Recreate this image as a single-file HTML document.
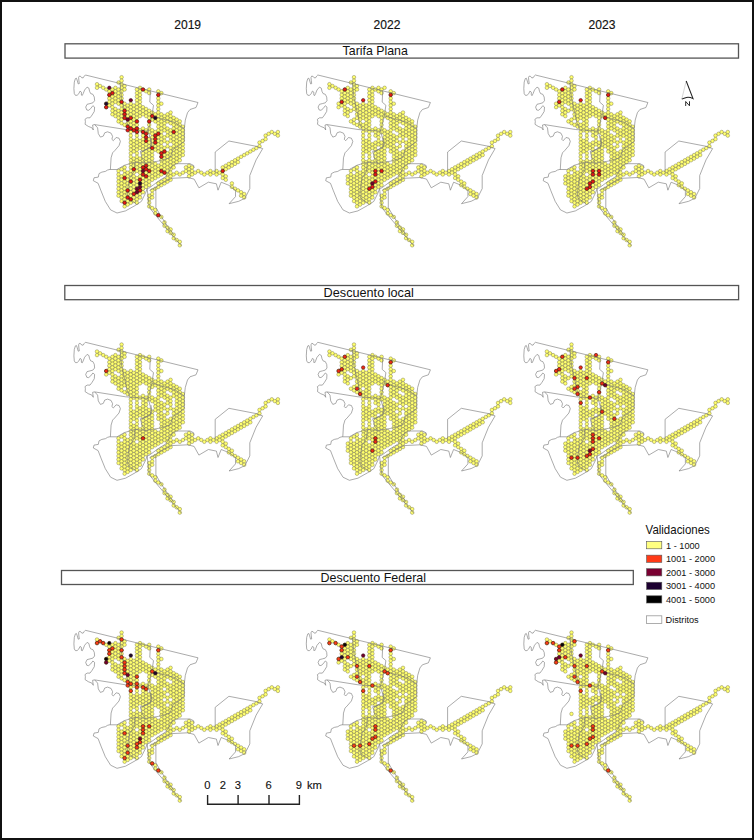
<!DOCTYPE html>
<html><head><meta charset="utf-8"><style>
html,body{margin:0;padding:0;background:#fff;}
body{width:754px;height:840px;overflow:hidden;position:relative;}
svg{position:absolute;left:0;top:0;}
text{font-family:"Liberation Sans",sans-serif;fill:#111;}
.yr{font-size:12.8px;stroke:#111;stroke-width:0.15px;}
.ttl{font-size:12.8px;}
.leg{font-size:12.6px;}
.lab{font-size:9.2px;}
.sc{font-size:11.2px;stroke:#111;stroke-width:0.12px;}
.n{font-size:6.5px;}
.box{fill:none;stroke:#555;stroke-width:1.3;}
.hx circle{fill:#ffff70;stroke:#403e16;stroke-width:0.32px;r:1.78px;}
</style></head><body>
<svg width="754" height="840" viewBox="0 0 754 840">
<rect x="1" y="1" width="752" height="838" fill="#fff" stroke="#111" stroke-width="2"/>
<defs>
<g id="ol" fill="none" stroke="#777" stroke-width="0.62" stroke-linejoin="round">
<polyline points="198.0,102.5 85.4,75.0 84.3,76.1 83.2,77.8 81.8,77.8 80.7,76.4 79.3,76.1 78.6,77.5 78.9,80.7 79.3,83.6 78.2,83.9 77.1,80.0 76.4,78.2 75.4,78.6 74.3,82.1 73.9,88.6 74.3,93.6 75.4,95.3 77.1,95.3 78.9,93.6 80.0,91.1 81.4,92.1 81.4,95.0 82.1,95.7 83.2,93.6 84.6,90.0 87.1,87.1 88.9,88.2 89.6,91.4 90.7,93.6 92.9,94.3 94.3,97.1 94.6,100.7 92.9,102.8 90.0,103.6 87.1,104.3 85.7,107.1 86.8,110.0 88.6,110.3 90.7,108.6 92.9,105.7 94.6,107.1 94.3,111.4 92.1,115.0 90.0,117.8 87.1,117.8 85.0,119.3 85.4,121.5 85.1,124.3 88.3,126.4 91.9,127.8 93.3,130.0 92.6,125.0 94.7,124.6"/>
<polyline points="94.7,124.6 125.6,129.5 129.6,129.8 146.1,131.0 148.2,130.8"/>
<polyline points="120.1,83.0 121.7,98.9 124.9,112.7 127.5,124.4 129.6,128.6"/>
<polyline points="150.3,91.2 149.8,102.1 153.5,105.3 151.9,115.9 150.3,122.3 148.2,130.8 151.4,143.5 150.3,146.7 141.8,152.0"/>
<polyline points="151.9,115.9 163.0,119.1 174.7,122.3 184.3,128.6"/>
<polyline points="198.0,102.5 196.0,107.5 190.0,109.5 187.5,112.7 185.3,120.1 184.3,128.6 184.3,141.0 178.0,146.5 173.2,149.0 170.0,157.9 158.4,161.1 145.6,163.2"/>
<polyline points="140.3,151.5 142.4,158.9 145.6,163.2"/>
<polyline points="140.3,151.5 149.9,148.3 152.0,144.1 150.9,137.7"/>
<polyline points="110.1,169.5 117.0,169.5 124.4,165.3 135.0,162.1 145.6,163.2"/>
<polyline points="135.0,162.1 134.0,171.6 129.7,178.0 128.1,186.5 127.6,195.0 128.1,198.2 136.1,203.5"/>
<polyline points="94.7,124.6 97.6,127.8 98.3,133.6 100.4,137.1 103.3,136.1 104.7,132.8 107.6,131.8 111.1,133.2 112.6,136.4 111.9,139.3 113.3,140.7 116.1,137.5 119.0,138.2 120.4,141.4 119.0,145.7 114.7,150.7 112.6,152.8 111.1,157.8 110.4,169.3 107.6,170.0 105.4,171.4 101.9,172.1 99.0,173.6 98.3,177.1 94.0,177.8 93.3,180.7 98.1,183.3 101.0,190.8 105.3,201.4 110.6,209.9 117.0,213.0 125.5,210.9 135.0,205.6 141.4,201.4 145.6,192.9 147.2,188.6"/>
<polyline points="147.2,188.6 149.5,187.8 159.1,180.7 166.0,176.5 172.2,165.5 175.8,163.7 190.1,163.7 193.7,165.5 194.0,168.0"/>
<polyline points="149.5,190.5 155.2,187.6 163.7,182.3 171.8,178.3 187.7,177.5 194.1,179.1 198.9,187.8 208.4,182.2 216.4,183.8 218.0,190.2 221.2,182.2 229.1,185.4 235.5,190.2 235.5,196.6 229.1,203.7 238.7,201.3 245.0,198.2 249.8,188.6 249.8,175.5 256.1,159.9 262.7,148.6 255.7,146.2 228.9,141.0 215.2,152.0 215.2,172.0"/>
<polyline points="147.2,188.6 148.0,196.6 149.5,207.7 155.9,215.7 163.9,225.2 171.8,234.8 181.4,245.9"/>
<polyline points="155.2,187.6 155.9,191.8 155.9,207.7 160.7,215.7 167.9,226.8 174.0,235.0"/>
</g></defs>
<g transform="translate(0,0)"><g class="hx">
<circle cx="97.0" cy="84.2"/><circle cx="97.0" cy="87.8"/><circle cx="100.1" cy="86.0"/><circle cx="103.2" cy="87.8"/><circle cx="106.2" cy="89.5"/><circle cx="106.2" cy="103.7"/><circle cx="106.2" cy="107.2"/><circle cx="109.3" cy="91.3"/><circle cx="109.3" cy="94.9"/><circle cx="109.3" cy="98.4"/><circle cx="109.3" cy="101.9"/><circle cx="109.3" cy="105.5"/><circle cx="112.4" cy="89.5"/><circle cx="112.4" cy="93.1"/><circle cx="112.4" cy="96.6"/><circle cx="112.4" cy="100.2"/><circle cx="112.4" cy="103.7"/><circle cx="112.4" cy="107.2"/><circle cx="112.4" cy="110.8"/><circle cx="112.4" cy="114.3"/><circle cx="115.4" cy="87.8"/><circle cx="115.4" cy="91.3"/><circle cx="115.4" cy="94.9"/><circle cx="115.4" cy="98.4"/><circle cx="115.4" cy="101.9"/><circle cx="115.4" cy="109.0"/><circle cx="115.4" cy="112.5"/><circle cx="115.4" cy="116.1"/><circle cx="118.5" cy="82.5"/><circle cx="118.5" cy="89.5"/><circle cx="118.5" cy="93.1"/><circle cx="118.5" cy="96.6"/><circle cx="118.5" cy="100.2"/><circle cx="118.5" cy="103.7"/><circle cx="118.5" cy="110.8"/><circle cx="118.5" cy="114.3"/><circle cx="118.5" cy="117.9"/><circle cx="118.5" cy="121.4"/><circle cx="118.5" cy="171.0"/><circle cx="118.5" cy="174.5"/><circle cx="118.5" cy="178.0"/><circle cx="118.5" cy="181.6"/><circle cx="118.5" cy="185.1"/><circle cx="118.5" cy="188.7"/><circle cx="118.5" cy="192.2"/><circle cx="118.5" cy="195.7"/><circle cx="121.6" cy="77.2"/><circle cx="121.6" cy="80.7"/><circle cx="121.6" cy="84.2"/><circle cx="121.6" cy="87.8"/><circle cx="121.6" cy="91.3"/><circle cx="121.6" cy="94.9"/><circle cx="121.6" cy="98.4"/><circle cx="121.6" cy="101.9"/><circle cx="121.6" cy="105.5"/><circle cx="121.6" cy="109.0"/><circle cx="121.6" cy="112.5"/><circle cx="121.6" cy="116.1"/><circle cx="121.6" cy="119.6"/><circle cx="121.6" cy="123.2"/><circle cx="121.6" cy="169.2"/><circle cx="121.6" cy="176.3"/><circle cx="121.6" cy="179.8"/><circle cx="121.6" cy="183.4"/><circle cx="121.6" cy="186.9"/><circle cx="121.6" cy="190.4"/><circle cx="121.6" cy="194.0"/><circle cx="121.6" cy="197.5"/><circle cx="121.6" cy="201.1"/><circle cx="124.6" cy="86.0"/><circle cx="124.6" cy="89.5"/><circle cx="124.6" cy="103.7"/><circle cx="124.6" cy="107.2"/><circle cx="124.6" cy="110.8"/><circle cx="124.6" cy="114.3"/><circle cx="124.6" cy="117.9"/><circle cx="124.6" cy="124.9"/><circle cx="124.6" cy="167.4"/><circle cx="124.6" cy="171.0"/><circle cx="124.6" cy="174.5"/><circle cx="124.6" cy="178.0"/><circle cx="124.6" cy="181.6"/><circle cx="124.6" cy="185.1"/><circle cx="124.6" cy="188.7"/><circle cx="124.6" cy="192.2"/><circle cx="124.6" cy="195.7"/><circle cx="124.6" cy="199.3"/><circle cx="124.6" cy="202.8"/><circle cx="124.6" cy="206.4"/><circle cx="127.7" cy="105.5"/><circle cx="127.7" cy="109.0"/><circle cx="127.7" cy="112.5"/><circle cx="127.7" cy="116.1"/><circle cx="127.7" cy="119.6"/><circle cx="127.7" cy="123.2"/><circle cx="127.7" cy="126.7"/><circle cx="127.7" cy="172.7"/><circle cx="127.7" cy="176.3"/><circle cx="127.7" cy="179.8"/><circle cx="127.7" cy="183.4"/><circle cx="127.7" cy="186.9"/><circle cx="127.7" cy="190.4"/><circle cx="127.7" cy="194.0"/><circle cx="127.7" cy="197.5"/><circle cx="127.7" cy="201.1"/><circle cx="127.7" cy="204.6"/><circle cx="130.8" cy="103.7"/><circle cx="130.8" cy="107.2"/><circle cx="130.8" cy="110.8"/><circle cx="130.8" cy="114.3"/><circle cx="130.8" cy="117.9"/><circle cx="130.8" cy="121.4"/><circle cx="130.8" cy="124.9"/><circle cx="130.8" cy="128.5"/><circle cx="130.8" cy="132.0"/><circle cx="130.8" cy="135.6"/><circle cx="130.8" cy="139.1"/><circle cx="130.8" cy="142.6"/><circle cx="130.8" cy="146.2"/><circle cx="130.8" cy="149.7"/><circle cx="130.8" cy="153.3"/><circle cx="130.8" cy="156.8"/><circle cx="130.8" cy="160.3"/><circle cx="130.8" cy="163.9"/><circle cx="130.8" cy="167.4"/><circle cx="130.8" cy="171.0"/><circle cx="130.8" cy="174.5"/><circle cx="130.8" cy="178.0"/><circle cx="130.8" cy="181.6"/><circle cx="130.8" cy="185.1"/><circle cx="130.8" cy="188.7"/><circle cx="130.8" cy="192.2"/><circle cx="130.8" cy="195.7"/><circle cx="130.8" cy="199.3"/><circle cx="130.8" cy="202.8"/><circle cx="133.8" cy="105.5"/><circle cx="133.8" cy="109.0"/><circle cx="133.8" cy="112.5"/><circle cx="133.8" cy="116.1"/><circle cx="133.8" cy="119.6"/><circle cx="133.8" cy="123.2"/><circle cx="133.8" cy="126.7"/><circle cx="133.8" cy="130.3"/><circle cx="133.8" cy="140.9"/><circle cx="133.8" cy="144.4"/><circle cx="133.8" cy="148.0"/><circle cx="133.8" cy="151.5"/><circle cx="133.8" cy="158.6"/><circle cx="133.8" cy="162.1"/><circle cx="133.8" cy="165.7"/><circle cx="133.8" cy="169.2"/><circle cx="133.8" cy="172.7"/><circle cx="133.8" cy="176.3"/><circle cx="133.8" cy="179.8"/><circle cx="133.8" cy="183.4"/><circle cx="133.8" cy="186.9"/><circle cx="133.8" cy="190.4"/><circle cx="133.8" cy="194.0"/><circle cx="133.8" cy="197.5"/><circle cx="133.8" cy="201.1"/><circle cx="136.9" cy="89.5"/><circle cx="136.9" cy="93.1"/><circle cx="136.9" cy="96.6"/><circle cx="136.9" cy="100.2"/><circle cx="136.9" cy="103.7"/><circle cx="136.9" cy="107.2"/><circle cx="136.9" cy="110.8"/><circle cx="136.9" cy="114.3"/><circle cx="136.9" cy="117.9"/><circle cx="136.9" cy="121.4"/><circle cx="136.9" cy="124.9"/><circle cx="136.9" cy="128.5"/><circle cx="136.9" cy="132.0"/><circle cx="136.9" cy="135.6"/><circle cx="136.9" cy="139.1"/><circle cx="136.9" cy="142.6"/><circle cx="136.9" cy="146.2"/><circle cx="136.9" cy="149.7"/><circle cx="136.9" cy="153.3"/><circle cx="136.9" cy="156.8"/><circle cx="136.9" cy="160.3"/><circle cx="136.9" cy="163.9"/><circle cx="136.9" cy="167.4"/><circle cx="136.9" cy="171.0"/><circle cx="136.9" cy="178.0"/><circle cx="136.9" cy="181.6"/><circle cx="136.9" cy="185.1"/><circle cx="136.9" cy="188.7"/><circle cx="136.9" cy="192.2"/><circle cx="136.9" cy="195.7"/><circle cx="136.9" cy="199.3"/><circle cx="136.9" cy="202.8"/><circle cx="140.0" cy="87.8"/><circle cx="140.0" cy="91.3"/><circle cx="140.0" cy="94.9"/><circle cx="140.0" cy="98.4"/><circle cx="140.0" cy="101.9"/><circle cx="140.0" cy="105.5"/><circle cx="140.0" cy="109.0"/><circle cx="140.0" cy="112.5"/><circle cx="140.0" cy="116.1"/><circle cx="140.0" cy="130.3"/><circle cx="140.0" cy="140.9"/><circle cx="140.0" cy="144.4"/><circle cx="140.0" cy="148.0"/><circle cx="140.0" cy="158.6"/><circle cx="140.0" cy="162.1"/><circle cx="140.0" cy="165.7"/><circle cx="140.0" cy="169.2"/><circle cx="140.0" cy="172.7"/><circle cx="140.0" cy="176.3"/><circle cx="140.0" cy="179.8"/><circle cx="140.0" cy="183.4"/><circle cx="140.0" cy="186.9"/><circle cx="140.0" cy="190.4"/><circle cx="140.0" cy="194.0"/><circle cx="140.0" cy="197.5"/><circle cx="143.0" cy="89.5"/><circle cx="143.0" cy="107.2"/><circle cx="143.0" cy="110.8"/><circle cx="143.0" cy="114.3"/><circle cx="143.0" cy="128.5"/><circle cx="143.0" cy="132.0"/><circle cx="143.0" cy="135.6"/><circle cx="143.0" cy="139.1"/><circle cx="143.0" cy="142.6"/><circle cx="143.0" cy="146.2"/><circle cx="143.0" cy="149.7"/><circle cx="143.0" cy="153.3"/><circle cx="143.0" cy="156.8"/><circle cx="143.0" cy="160.3"/><circle cx="143.0" cy="163.9"/><circle cx="143.0" cy="167.4"/><circle cx="143.0" cy="171.0"/><circle cx="143.0" cy="174.5"/><circle cx="143.0" cy="178.0"/><circle cx="143.0" cy="181.6"/><circle cx="143.0" cy="185.1"/><circle cx="143.0" cy="188.7"/><circle cx="143.0" cy="192.2"/><circle cx="146.1" cy="91.3"/><circle cx="146.1" cy="109.0"/><circle cx="146.1" cy="112.5"/><circle cx="146.1" cy="116.1"/><circle cx="146.1" cy="130.3"/><circle cx="146.1" cy="133.8"/><circle cx="146.1" cy="137.3"/><circle cx="146.1" cy="140.9"/><circle cx="146.1" cy="144.4"/><circle cx="146.1" cy="148.0"/><circle cx="146.1" cy="151.5"/><circle cx="146.1" cy="155.0"/><circle cx="146.1" cy="158.6"/><circle cx="146.1" cy="162.1"/><circle cx="146.1" cy="165.7"/><circle cx="146.1" cy="169.2"/><circle cx="146.1" cy="172.7"/><circle cx="146.1" cy="176.3"/><circle cx="146.1" cy="179.8"/><circle cx="146.1" cy="183.4"/><circle cx="146.1" cy="186.9"/><circle cx="149.2" cy="89.5"/><circle cx="149.2" cy="93.1"/><circle cx="149.2" cy="110.8"/><circle cx="149.2" cy="114.3"/><circle cx="149.2" cy="117.9"/><circle cx="149.2" cy="121.4"/><circle cx="149.2" cy="124.9"/><circle cx="149.2" cy="128.5"/><circle cx="149.2" cy="132.0"/><circle cx="149.2" cy="139.1"/><circle cx="149.2" cy="142.6"/><circle cx="149.2" cy="146.2"/><circle cx="149.2" cy="149.7"/><circle cx="149.2" cy="153.3"/><circle cx="149.2" cy="156.8"/><circle cx="149.2" cy="160.3"/><circle cx="149.2" cy="163.9"/><circle cx="149.2" cy="167.4"/><circle cx="149.2" cy="171.0"/><circle cx="149.2" cy="174.5"/><circle cx="149.2" cy="178.0"/><circle cx="149.2" cy="181.6"/><circle cx="149.2" cy="185.1"/><circle cx="149.2" cy="195.7"/><circle cx="149.2" cy="199.3"/><circle cx="149.2" cy="202.8"/><circle cx="149.2" cy="206.4"/><circle cx="152.2" cy="112.5"/><circle cx="152.2" cy="116.1"/><circle cx="152.2" cy="119.6"/><circle cx="152.2" cy="130.3"/><circle cx="152.2" cy="133.8"/><circle cx="152.2" cy="137.3"/><circle cx="152.2" cy="140.9"/><circle cx="152.2" cy="144.4"/><circle cx="152.2" cy="148.0"/><circle cx="152.2" cy="151.5"/><circle cx="152.2" cy="155.0"/><circle cx="152.2" cy="158.6"/><circle cx="152.2" cy="162.1"/><circle cx="152.2" cy="165.7"/><circle cx="152.2" cy="169.2"/><circle cx="152.2" cy="172.7"/><circle cx="152.2" cy="176.3"/><circle cx="152.2" cy="179.8"/><circle cx="152.2" cy="190.4"/><circle cx="152.2" cy="194.0"/><circle cx="152.2" cy="197.5"/><circle cx="152.2" cy="208.1"/><circle cx="155.3" cy="114.3"/><circle cx="155.3" cy="117.9"/><circle cx="155.3" cy="121.4"/><circle cx="155.3" cy="132.0"/><circle cx="155.3" cy="135.6"/><circle cx="155.3" cy="139.1"/><circle cx="155.3" cy="142.6"/><circle cx="155.3" cy="146.2"/><circle cx="155.3" cy="149.7"/><circle cx="155.3" cy="163.9"/><circle cx="155.3" cy="167.4"/><circle cx="155.3" cy="171.0"/><circle cx="155.3" cy="174.5"/><circle cx="155.3" cy="178.0"/><circle cx="155.3" cy="188.7"/><circle cx="155.3" cy="209.9"/><circle cx="155.3" cy="213.4"/><circle cx="158.3" cy="91.3"/><circle cx="158.3" cy="94.9"/><circle cx="158.3" cy="98.4"/><circle cx="158.3" cy="101.9"/><circle cx="158.3" cy="105.5"/><circle cx="158.3" cy="109.0"/><circle cx="158.3" cy="112.5"/><circle cx="158.3" cy="116.1"/><circle cx="158.3" cy="119.6"/><circle cx="158.3" cy="123.2"/><circle cx="158.3" cy="126.7"/><circle cx="158.3" cy="130.3"/><circle cx="158.3" cy="133.8"/><circle cx="158.3" cy="137.3"/><circle cx="158.3" cy="140.9"/><circle cx="158.3" cy="144.4"/><circle cx="158.3" cy="148.0"/><circle cx="158.3" cy="151.5"/><circle cx="158.3" cy="165.7"/><circle cx="158.3" cy="169.2"/><circle cx="158.3" cy="172.7"/><circle cx="158.3" cy="176.3"/><circle cx="158.3" cy="183.4"/><circle cx="158.3" cy="186.9"/><circle cx="158.3" cy="215.2"/><circle cx="161.4" cy="93.1"/><circle cx="161.4" cy="103.7"/><circle cx="161.4" cy="114.3"/><circle cx="161.4" cy="117.9"/><circle cx="161.4" cy="121.4"/><circle cx="161.4" cy="124.9"/><circle cx="161.4" cy="128.5"/><circle cx="161.4" cy="132.0"/><circle cx="161.4" cy="135.6"/><circle cx="161.4" cy="139.1"/><circle cx="161.4" cy="142.6"/><circle cx="161.4" cy="146.2"/><circle cx="161.4" cy="149.7"/><circle cx="161.4" cy="153.3"/><circle cx="161.4" cy="156.8"/><circle cx="161.4" cy="160.3"/><circle cx="161.4" cy="163.9"/><circle cx="161.4" cy="167.4"/><circle cx="161.4" cy="171.0"/><circle cx="161.4" cy="174.5"/><circle cx="161.4" cy="181.6"/><circle cx="161.4" cy="185.1"/><circle cx="161.4" cy="217.0"/><circle cx="164.5" cy="116.1"/><circle cx="164.5" cy="119.6"/><circle cx="164.5" cy="123.2"/><circle cx="164.5" cy="126.7"/><circle cx="164.5" cy="130.3"/><circle cx="164.5" cy="137.3"/><circle cx="164.5" cy="140.9"/><circle cx="164.5" cy="148.0"/><circle cx="164.5" cy="151.5"/><circle cx="164.5" cy="155.0"/><circle cx="164.5" cy="158.6"/><circle cx="164.5" cy="162.1"/><circle cx="164.5" cy="165.7"/><circle cx="164.5" cy="169.2"/><circle cx="164.5" cy="172.7"/><circle cx="164.5" cy="179.8"/><circle cx="164.5" cy="183.4"/><circle cx="164.5" cy="222.3"/><circle cx="164.5" cy="225.8"/><circle cx="167.5" cy="114.3"/><circle cx="167.5" cy="117.9"/><circle cx="167.5" cy="121.4"/><circle cx="167.5" cy="128.5"/><circle cx="167.5" cy="132.0"/><circle cx="167.5" cy="135.6"/><circle cx="167.5" cy="142.6"/><circle cx="167.5" cy="146.2"/><circle cx="167.5" cy="153.3"/><circle cx="167.5" cy="156.8"/><circle cx="167.5" cy="160.3"/><circle cx="167.5" cy="163.9"/><circle cx="167.5" cy="167.4"/><circle cx="167.5" cy="171.0"/><circle cx="167.5" cy="174.5"/><circle cx="167.5" cy="178.0"/><circle cx="167.5" cy="181.6"/><circle cx="167.5" cy="227.6"/><circle cx="167.5" cy="231.1"/><circle cx="170.6" cy="112.5"/><circle cx="170.6" cy="116.1"/><circle cx="170.6" cy="119.6"/><circle cx="170.6" cy="123.2"/><circle cx="170.6" cy="130.3"/><circle cx="170.6" cy="133.8"/><circle cx="170.6" cy="137.3"/><circle cx="170.6" cy="140.9"/><circle cx="170.6" cy="148.0"/><circle cx="170.6" cy="151.5"/><circle cx="170.6" cy="155.0"/><circle cx="170.6" cy="158.6"/><circle cx="170.6" cy="162.1"/><circle cx="170.6" cy="165.7"/><circle cx="170.6" cy="169.2"/><circle cx="170.6" cy="172.7"/><circle cx="170.6" cy="176.3"/><circle cx="170.6" cy="179.8"/><circle cx="170.6" cy="229.4"/><circle cx="170.6" cy="232.9"/><circle cx="173.7" cy="117.9"/><circle cx="173.7" cy="121.4"/><circle cx="173.7" cy="124.9"/><circle cx="173.7" cy="128.5"/><circle cx="173.7" cy="132.0"/><circle cx="173.7" cy="135.6"/><circle cx="173.7" cy="139.1"/><circle cx="173.7" cy="142.6"/><circle cx="173.7" cy="146.2"/><circle cx="173.7" cy="149.7"/><circle cx="173.7" cy="153.3"/><circle cx="173.7" cy="156.8"/><circle cx="173.7" cy="160.3"/><circle cx="173.7" cy="163.9"/><circle cx="173.7" cy="167.4"/><circle cx="173.7" cy="174.5"/><circle cx="173.7" cy="234.7"/><circle cx="173.7" cy="238.2"/><circle cx="176.7" cy="119.6"/><circle cx="176.7" cy="123.2"/><circle cx="176.7" cy="126.7"/><circle cx="176.7" cy="130.3"/><circle cx="176.7" cy="133.8"/><circle cx="176.7" cy="137.3"/><circle cx="176.7" cy="140.9"/><circle cx="176.7" cy="144.4"/><circle cx="176.7" cy="148.0"/><circle cx="176.7" cy="151.5"/><circle cx="176.7" cy="155.0"/><circle cx="176.7" cy="158.6"/><circle cx="176.7" cy="162.1"/><circle cx="176.7" cy="172.7"/><circle cx="176.7" cy="240.0"/><circle cx="179.8" cy="121.4"/><circle cx="179.8" cy="124.9"/><circle cx="179.8" cy="128.5"/><circle cx="179.8" cy="132.0"/><circle cx="179.8" cy="135.6"/><circle cx="179.8" cy="139.1"/><circle cx="179.8" cy="142.6"/><circle cx="179.8" cy="146.2"/><circle cx="179.8" cy="149.7"/><circle cx="179.8" cy="153.3"/><circle cx="179.8" cy="156.8"/><circle cx="179.8" cy="160.3"/><circle cx="179.8" cy="174.5"/><circle cx="179.8" cy="241.8"/><circle cx="179.8" cy="245.3"/><circle cx="182.9" cy="126.7"/><circle cx="182.9" cy="130.3"/><circle cx="182.9" cy="133.8"/><circle cx="182.9" cy="137.3"/><circle cx="182.9" cy="140.9"/><circle cx="182.9" cy="144.4"/><circle cx="182.9" cy="148.0"/><circle cx="182.9" cy="151.5"/><circle cx="182.9" cy="155.0"/><circle cx="182.9" cy="172.7"/><circle cx="185.9" cy="167.4"/><circle cx="185.9" cy="171.0"/><circle cx="189.0" cy="165.7"/><circle cx="189.0" cy="169.2"/><circle cx="189.0" cy="172.7"/><circle cx="189.0" cy="176.3"/><circle cx="192.1" cy="167.4"/><circle cx="192.1" cy="171.0"/><circle cx="192.1" cy="174.5"/><circle cx="195.1" cy="172.7"/><circle cx="198.2" cy="171.0"/><circle cx="201.3" cy="172.7"/><circle cx="204.3" cy="174.5"/><circle cx="207.4" cy="172.7"/><circle cx="210.4" cy="171.0"/><circle cx="210.4" cy="174.5"/><circle cx="213.5" cy="172.7"/><circle cx="216.6" cy="171.0"/><circle cx="216.6" cy="174.5"/><circle cx="219.6" cy="172.7"/><circle cx="222.7" cy="167.4"/><circle cx="222.7" cy="171.0"/><circle cx="222.7" cy="174.5"/><circle cx="222.7" cy="178.0"/><circle cx="225.8" cy="165.7"/><circle cx="225.8" cy="169.2"/><circle cx="225.8" cy="176.3"/><circle cx="225.8" cy="179.8"/><circle cx="228.8" cy="163.9"/><circle cx="228.8" cy="167.4"/><circle cx="231.9" cy="162.1"/><circle cx="231.9" cy="165.7"/><circle cx="231.9" cy="183.4"/><circle cx="231.9" cy="186.9"/><circle cx="235.0" cy="160.3"/><circle cx="235.0" cy="163.9"/><circle cx="235.0" cy="188.7"/><circle cx="238.0" cy="158.6"/><circle cx="238.0" cy="162.1"/><circle cx="238.0" cy="190.4"/><circle cx="241.1" cy="156.8"/><circle cx="241.1" cy="192.2"/><circle cx="241.1" cy="195.7"/><circle cx="244.2" cy="155.0"/><circle cx="244.2" cy="194.0"/><circle cx="244.2" cy="197.5"/><circle cx="247.2" cy="153.3"/><circle cx="250.3" cy="151.5"/><circle cx="253.4" cy="149.7"/><circle cx="256.4" cy="148.0"/><circle cx="259.5" cy="142.6"/><circle cx="259.5" cy="146.2"/><circle cx="262.6" cy="140.9"/><circle cx="265.6" cy="135.6"/><circle cx="265.6" cy="139.1"/><circle cx="268.7" cy="133.8"/><circle cx="271.8" cy="132.0"/><circle cx="274.8" cy="133.8"/><circle cx="277.9" cy="132.0"/><circle cx="277.9" cy="135.6"/>
</g><use href="#ol"/>
<g stroke="#2a0808" stroke-width="0.5">
<circle cx="109.3" cy="87.8" r="1.75" fill="#720030"/>
<circle cx="112.4" cy="93.1" r="1.75" fill="#e51a16"/>
<circle cx="109.3" cy="94.9" r="1.75" fill="#e51a16"/>
<circle cx="106.2" cy="103.7" r="1.75" fill="#1c0a30"/>
<circle cx="106.2" cy="107.2" r="1.75" fill="#e51a16"/>
<circle cx="121.6" cy="101.9" r="1.75" fill="#e51a16"/>
<circle cx="130.8" cy="100.2" r="1.75" fill="#720030"/>
<circle cx="143.0" cy="89.5" r="1.75" fill="#e51a16"/>
<circle cx="158.3" cy="94.9" r="1.75" fill="#e51a16"/>
<circle cx="124.6" cy="110.8" r="1.75" fill="#e51a16"/>
<circle cx="124.6" cy="114.3" r="1.75" fill="#e51a16"/>
<circle cx="127.7" cy="119.6" r="1.75" fill="#720030"/>
<circle cx="130.8" cy="117.9" r="1.75" fill="#e51a16"/>
<circle cx="124.6" cy="117.9" r="1.75" fill="#e51a16"/>
<circle cx="136.9" cy="121.4" r="1.75" fill="#e51a16"/>
<circle cx="149.2" cy="121.4" r="1.75" fill="#e51a16"/>
<circle cx="152.2" cy="116.1" r="1.75" fill="#e51a16"/>
<circle cx="155.3" cy="117.9" r="1.75" fill="#1c0a30"/>
<circle cx="127.7" cy="126.7" r="1.75" fill="#e51a16"/>
<circle cx="127.7" cy="130.3" r="1.75" fill="#e51a16"/>
<circle cx="130.8" cy="128.5" r="1.75" fill="#e51a16"/>
<circle cx="133.8" cy="130.3" r="1.75" fill="#e51a16"/>
<circle cx="136.9" cy="128.5" r="1.75" fill="#e51a16"/>
<circle cx="136.9" cy="132.0" r="1.75" fill="#e51a16"/>
<circle cx="143.0" cy="132.0" r="1.75" fill="#e51a16"/>
<circle cx="146.1" cy="133.8" r="1.75" fill="#e51a16"/>
<circle cx="146.1" cy="137.3" r="1.75" fill="#e51a16"/>
<circle cx="146.1" cy="140.9" r="1.75" fill="#e51a16"/>
<circle cx="155.3" cy="135.6" r="1.75" fill="#e51a16"/>
<circle cx="158.3" cy="133.8" r="1.75" fill="#e51a16"/>
<circle cx="155.3" cy="139.1" r="1.75" fill="#e51a16"/>
<circle cx="155.3" cy="142.6" r="1.75" fill="#e51a16"/>
<circle cx="173.7" cy="132.0" r="1.75" fill="#e51a16"/>
<circle cx="152.2" cy="148.0" r="1.75" fill="#e51a16"/>
<circle cx="161.4" cy="153.3" r="1.75" fill="#e51a16"/>
<circle cx="164.5" cy="151.5" r="1.75" fill="#e51a16"/>
<circle cx="161.4" cy="156.8" r="1.75" fill="#e51a16"/>
<circle cx="133.8" cy="169.2" r="1.75" fill="#e51a16"/>
<circle cx="143.0" cy="167.4" r="1.75" fill="#e51a16"/>
<circle cx="146.1" cy="165.7" r="1.75" fill="#e51a16"/>
<circle cx="143.0" cy="171.0" r="1.75" fill="#720030"/>
<circle cx="149.2" cy="171.0" r="1.75" fill="#e51a16"/>
<circle cx="146.1" cy="169.2" r="1.75" fill="#e51a16"/>
<circle cx="143.0" cy="174.5" r="1.75" fill="#e51a16"/>
<circle cx="146.1" cy="176.3" r="1.75" fill="#e51a16"/>
<circle cx="140.0" cy="179.8" r="1.75" fill="#e51a16"/>
<circle cx="161.4" cy="171.0" r="1.75" fill="#e51a16"/>
<circle cx="164.5" cy="172.7" r="1.75" fill="#e51a16"/>
<circle cx="124.6" cy="178.0" r="1.75" fill="#e51a16"/>
<circle cx="130.8" cy="181.6" r="1.75" fill="#e51a16"/>
<circle cx="140.0" cy="183.4" r="1.75" fill="#1c0a30"/>
<circle cx="140.0" cy="186.9" r="1.75" fill="#720030"/>
<circle cx="136.9" cy="188.7" r="1.75" fill="#720030"/>
<circle cx="140.0" cy="190.4" r="1.75" fill="#e51a16"/>
<circle cx="127.7" cy="190.4" r="1.75" fill="#e51a16"/>
<circle cx="136.9" cy="192.2" r="1.75" fill="#720030"/>
<circle cx="133.8" cy="194.0" r="1.75" fill="#e51a16"/>
<circle cx="127.7" cy="197.5" r="1.75" fill="#e51a16"/>
<circle cx="130.8" cy="199.3" r="1.75" fill="#e51a16"/>
<circle cx="124.6" cy="202.8" r="1.75" fill="#e51a16"/>
<circle cx="158.3" cy="215.2" r="1.75" fill="#e51a16"/>
<circle cx="222.7" cy="171.0" r="1.75" fill="#e51a16"/>
</g></g>
<g transform="translate(232.4,0)"><g class="hx">
<circle cx="97.0" cy="84.2"/><circle cx="97.0" cy="87.8"/><circle cx="100.1" cy="86.0"/><circle cx="103.2" cy="87.8"/><circle cx="106.2" cy="89.5"/><circle cx="106.2" cy="103.7"/><circle cx="106.2" cy="107.2"/><circle cx="109.3" cy="91.3"/><circle cx="109.3" cy="94.9"/><circle cx="109.3" cy="98.4"/><circle cx="109.3" cy="101.9"/><circle cx="109.3" cy="105.5"/><circle cx="112.4" cy="89.5"/><circle cx="112.4" cy="93.1"/><circle cx="112.4" cy="96.6"/><circle cx="112.4" cy="100.2"/><circle cx="112.4" cy="103.7"/><circle cx="112.4" cy="107.2"/><circle cx="112.4" cy="110.8"/><circle cx="112.4" cy="114.3"/><circle cx="115.4" cy="87.8"/><circle cx="115.4" cy="91.3"/><circle cx="115.4" cy="94.9"/><circle cx="115.4" cy="98.4"/><circle cx="115.4" cy="101.9"/><circle cx="115.4" cy="109.0"/><circle cx="115.4" cy="112.5"/><circle cx="115.4" cy="116.1"/><circle cx="115.4" cy="176.3"/><circle cx="115.4" cy="179.8"/><circle cx="115.4" cy="183.4"/><circle cx="118.5" cy="82.5"/><circle cx="118.5" cy="89.5"/><circle cx="118.5" cy="93.1"/><circle cx="118.5" cy="96.6"/><circle cx="118.5" cy="100.2"/><circle cx="118.5" cy="103.7"/><circle cx="118.5" cy="110.8"/><circle cx="118.5" cy="121.4"/><circle cx="118.5" cy="171.0"/><circle cx="118.5" cy="174.5"/><circle cx="118.5" cy="178.0"/><circle cx="118.5" cy="181.6"/><circle cx="118.5" cy="185.1"/><circle cx="118.5" cy="188.7"/><circle cx="118.5" cy="192.2"/><circle cx="118.5" cy="195.7"/><circle cx="121.6" cy="77.2"/><circle cx="121.6" cy="80.7"/><circle cx="121.6" cy="84.2"/><circle cx="121.6" cy="87.8"/><circle cx="121.6" cy="91.3"/><circle cx="121.6" cy="94.9"/><circle cx="121.6" cy="98.4"/><circle cx="121.6" cy="101.9"/><circle cx="121.6" cy="105.5"/><circle cx="121.6" cy="109.0"/><circle cx="121.6" cy="119.6"/><circle cx="121.6" cy="123.2"/><circle cx="121.6" cy="169.2"/><circle cx="121.6" cy="176.3"/><circle cx="121.6" cy="179.8"/><circle cx="121.6" cy="183.4"/><circle cx="121.6" cy="186.9"/><circle cx="121.6" cy="190.4"/><circle cx="121.6" cy="194.0"/><circle cx="121.6" cy="197.5"/><circle cx="121.6" cy="201.1"/><circle cx="124.6" cy="86.0"/><circle cx="124.6" cy="89.5"/><circle cx="124.6" cy="103.7"/><circle cx="124.6" cy="107.2"/><circle cx="124.6" cy="110.8"/><circle cx="124.6" cy="114.3"/><circle cx="124.6" cy="117.9"/><circle cx="124.6" cy="124.9"/><circle cx="124.6" cy="167.4"/><circle cx="124.6" cy="171.0"/><circle cx="124.6" cy="174.5"/><circle cx="124.6" cy="178.0"/><circle cx="124.6" cy="181.6"/><circle cx="124.6" cy="185.1"/><circle cx="124.6" cy="188.7"/><circle cx="124.6" cy="192.2"/><circle cx="124.6" cy="195.7"/><circle cx="124.6" cy="199.3"/><circle cx="124.6" cy="202.8"/><circle cx="124.6" cy="206.4"/><circle cx="127.7" cy="105.5"/><circle cx="127.7" cy="109.0"/><circle cx="127.7" cy="112.5"/><circle cx="127.7" cy="116.1"/><circle cx="127.7" cy="119.6"/><circle cx="127.7" cy="123.2"/><circle cx="127.7" cy="126.7"/><circle cx="127.7" cy="172.7"/><circle cx="127.7" cy="176.3"/><circle cx="127.7" cy="179.8"/><circle cx="127.7" cy="183.4"/><circle cx="127.7" cy="186.9"/><circle cx="127.7" cy="190.4"/><circle cx="127.7" cy="194.0"/><circle cx="127.7" cy="197.5"/><circle cx="127.7" cy="201.1"/><circle cx="127.7" cy="204.6"/><circle cx="130.8" cy="103.7"/><circle cx="130.8" cy="107.2"/><circle cx="130.8" cy="110.8"/><circle cx="130.8" cy="114.3"/><circle cx="130.8" cy="117.9"/><circle cx="130.8" cy="124.9"/><circle cx="130.8" cy="128.5"/><circle cx="130.8" cy="132.0"/><circle cx="130.8" cy="135.6"/><circle cx="130.8" cy="139.1"/><circle cx="130.8" cy="142.6"/><circle cx="130.8" cy="146.2"/><circle cx="130.8" cy="149.7"/><circle cx="130.8" cy="153.3"/><circle cx="130.8" cy="156.8"/><circle cx="130.8" cy="160.3"/><circle cx="130.8" cy="163.9"/><circle cx="130.8" cy="167.4"/><circle cx="130.8" cy="171.0"/><circle cx="130.8" cy="174.5"/><circle cx="130.8" cy="178.0"/><circle cx="130.8" cy="181.6"/><circle cx="130.8" cy="185.1"/><circle cx="130.8" cy="188.7"/><circle cx="130.8" cy="192.2"/><circle cx="130.8" cy="195.7"/><circle cx="130.8" cy="199.3"/><circle cx="130.8" cy="202.8"/><circle cx="133.8" cy="105.5"/><circle cx="133.8" cy="109.0"/><circle cx="133.8" cy="112.5"/><circle cx="133.8" cy="116.1"/><circle cx="133.8" cy="119.6"/><circle cx="133.8" cy="123.2"/><circle cx="133.8" cy="126.7"/><circle cx="133.8" cy="130.3"/><circle cx="133.8" cy="140.9"/><circle cx="133.8" cy="144.4"/><circle cx="133.8" cy="148.0"/><circle cx="133.8" cy="151.5"/><circle cx="133.8" cy="162.1"/><circle cx="133.8" cy="165.7"/><circle cx="133.8" cy="169.2"/><circle cx="133.8" cy="172.7"/><circle cx="133.8" cy="176.3"/><circle cx="133.8" cy="179.8"/><circle cx="133.8" cy="183.4"/><circle cx="133.8" cy="186.9"/><circle cx="133.8" cy="190.4"/><circle cx="133.8" cy="194.0"/><circle cx="133.8" cy="197.5"/><circle cx="133.8" cy="201.1"/><circle cx="136.9" cy="89.5"/><circle cx="136.9" cy="93.1"/><circle cx="136.9" cy="96.6"/><circle cx="136.9" cy="100.2"/><circle cx="136.9" cy="103.7"/><circle cx="136.9" cy="107.2"/><circle cx="136.9" cy="110.8"/><circle cx="136.9" cy="114.3"/><circle cx="136.9" cy="117.9"/><circle cx="136.9" cy="121.4"/><circle cx="136.9" cy="124.9"/><circle cx="136.9" cy="128.5"/><circle cx="136.9" cy="132.0"/><circle cx="136.9" cy="135.6"/><circle cx="136.9" cy="139.1"/><circle cx="136.9" cy="142.6"/><circle cx="136.9" cy="146.2"/><circle cx="136.9" cy="149.7"/><circle cx="136.9" cy="153.3"/><circle cx="136.9" cy="156.8"/><circle cx="136.9" cy="160.3"/><circle cx="136.9" cy="163.9"/><circle cx="136.9" cy="167.4"/><circle cx="136.9" cy="171.0"/><circle cx="136.9" cy="178.0"/><circle cx="136.9" cy="181.6"/><circle cx="136.9" cy="185.1"/><circle cx="136.9" cy="188.7"/><circle cx="136.9" cy="192.2"/><circle cx="136.9" cy="195.7"/><circle cx="136.9" cy="199.3"/><circle cx="136.9" cy="202.8"/><circle cx="140.0" cy="87.8"/><circle cx="140.0" cy="91.3"/><circle cx="140.0" cy="94.9"/><circle cx="140.0" cy="98.4"/><circle cx="140.0" cy="101.9"/><circle cx="140.0" cy="105.5"/><circle cx="140.0" cy="109.0"/><circle cx="140.0" cy="112.5"/><circle cx="140.0" cy="116.1"/><circle cx="140.0" cy="130.3"/><circle cx="140.0" cy="144.4"/><circle cx="140.0" cy="148.0"/><circle cx="140.0" cy="162.1"/><circle cx="140.0" cy="165.7"/><circle cx="140.0" cy="169.2"/><circle cx="140.0" cy="172.7"/><circle cx="140.0" cy="176.3"/><circle cx="140.0" cy="179.8"/><circle cx="140.0" cy="183.4"/><circle cx="140.0" cy="186.9"/><circle cx="140.0" cy="190.4"/><circle cx="140.0" cy="194.0"/><circle cx="140.0" cy="197.5"/><circle cx="143.0" cy="89.5"/><circle cx="143.0" cy="107.2"/><circle cx="143.0" cy="110.8"/><circle cx="143.0" cy="114.3"/><circle cx="143.0" cy="128.5"/><circle cx="143.0" cy="132.0"/><circle cx="143.0" cy="135.6"/><circle cx="143.0" cy="142.6"/><circle cx="143.0" cy="146.2"/><circle cx="143.0" cy="149.7"/><circle cx="143.0" cy="153.3"/><circle cx="143.0" cy="156.8"/><circle cx="143.0" cy="160.3"/><circle cx="143.0" cy="163.9"/><circle cx="143.0" cy="167.4"/><circle cx="143.0" cy="171.0"/><circle cx="143.0" cy="174.5"/><circle cx="143.0" cy="178.0"/><circle cx="143.0" cy="181.6"/><circle cx="143.0" cy="185.1"/><circle cx="143.0" cy="188.7"/><circle cx="143.0" cy="192.2"/><circle cx="146.1" cy="87.8"/><circle cx="146.1" cy="91.3"/><circle cx="146.1" cy="109.0"/><circle cx="146.1" cy="112.5"/><circle cx="146.1" cy="116.1"/><circle cx="146.1" cy="130.3"/><circle cx="146.1" cy="133.8"/><circle cx="146.1" cy="137.3"/><circle cx="146.1" cy="140.9"/><circle cx="146.1" cy="144.4"/><circle cx="146.1" cy="151.5"/><circle cx="146.1" cy="155.0"/><circle cx="146.1" cy="158.6"/><circle cx="146.1" cy="162.1"/><circle cx="146.1" cy="165.7"/><circle cx="146.1" cy="169.2"/><circle cx="146.1" cy="172.7"/><circle cx="146.1" cy="176.3"/><circle cx="146.1" cy="179.8"/><circle cx="146.1" cy="183.4"/><circle cx="146.1" cy="186.9"/><circle cx="149.2" cy="89.5"/><circle cx="149.2" cy="93.1"/><circle cx="149.2" cy="110.8"/><circle cx="149.2" cy="114.3"/><circle cx="149.2" cy="117.9"/><circle cx="149.2" cy="121.4"/><circle cx="149.2" cy="124.9"/><circle cx="149.2" cy="128.5"/><circle cx="149.2" cy="132.0"/><circle cx="149.2" cy="142.6"/><circle cx="149.2" cy="146.2"/><circle cx="149.2" cy="149.7"/><circle cx="149.2" cy="153.3"/><circle cx="149.2" cy="156.8"/><circle cx="149.2" cy="160.3"/><circle cx="149.2" cy="163.9"/><circle cx="149.2" cy="167.4"/><circle cx="149.2" cy="171.0"/><circle cx="149.2" cy="174.5"/><circle cx="149.2" cy="178.0"/><circle cx="149.2" cy="181.6"/><circle cx="149.2" cy="185.1"/><circle cx="149.2" cy="195.7"/><circle cx="149.2" cy="199.3"/><circle cx="149.2" cy="202.8"/><circle cx="149.2" cy="206.4"/><circle cx="152.2" cy="87.8"/><circle cx="152.2" cy="112.5"/><circle cx="152.2" cy="116.1"/><circle cx="152.2" cy="130.3"/><circle cx="152.2" cy="133.8"/><circle cx="152.2" cy="137.3"/><circle cx="152.2" cy="140.9"/><circle cx="152.2" cy="144.4"/><circle cx="152.2" cy="148.0"/><circle cx="152.2" cy="151.5"/><circle cx="152.2" cy="155.0"/><circle cx="152.2" cy="158.6"/><circle cx="152.2" cy="162.1"/><circle cx="152.2" cy="165.7"/><circle cx="152.2" cy="169.2"/><circle cx="152.2" cy="172.7"/><circle cx="152.2" cy="176.3"/><circle cx="152.2" cy="179.8"/><circle cx="152.2" cy="190.4"/><circle cx="152.2" cy="194.0"/><circle cx="152.2" cy="197.5"/><circle cx="152.2" cy="208.1"/><circle cx="155.3" cy="114.3"/><circle cx="155.3" cy="117.9"/><circle cx="155.3" cy="132.0"/><circle cx="155.3" cy="135.6"/><circle cx="155.3" cy="139.1"/><circle cx="155.3" cy="142.6"/><circle cx="155.3" cy="146.2"/><circle cx="155.3" cy="163.9"/><circle cx="155.3" cy="167.4"/><circle cx="155.3" cy="171.0"/><circle cx="155.3" cy="174.5"/><circle cx="155.3" cy="178.0"/><circle cx="155.3" cy="188.7"/><circle cx="155.3" cy="209.9"/><circle cx="155.3" cy="213.4"/><circle cx="158.3" cy="91.3"/><circle cx="158.3" cy="94.9"/><circle cx="158.3" cy="98.4"/><circle cx="158.3" cy="101.9"/><circle cx="158.3" cy="105.5"/><circle cx="158.3" cy="109.0"/><circle cx="158.3" cy="112.5"/><circle cx="158.3" cy="116.1"/><circle cx="158.3" cy="119.6"/><circle cx="158.3" cy="123.2"/><circle cx="158.3" cy="126.7"/><circle cx="158.3" cy="130.3"/><circle cx="158.3" cy="133.8"/><circle cx="158.3" cy="137.3"/><circle cx="158.3" cy="140.9"/><circle cx="158.3" cy="144.4"/><circle cx="158.3" cy="148.0"/><circle cx="158.3" cy="151.5"/><circle cx="158.3" cy="165.7"/><circle cx="158.3" cy="169.2"/><circle cx="158.3" cy="172.7"/><circle cx="158.3" cy="176.3"/><circle cx="158.3" cy="183.4"/><circle cx="158.3" cy="186.9"/><circle cx="158.3" cy="215.2"/><circle cx="161.4" cy="93.1"/><circle cx="161.4" cy="103.7"/><circle cx="161.4" cy="114.3"/><circle cx="161.4" cy="117.9"/><circle cx="161.4" cy="121.4"/><circle cx="161.4" cy="124.9"/><circle cx="161.4" cy="128.5"/><circle cx="161.4" cy="135.6"/><circle cx="161.4" cy="139.1"/><circle cx="161.4" cy="142.6"/><circle cx="161.4" cy="146.2"/><circle cx="161.4" cy="149.7"/><circle cx="161.4" cy="153.3"/><circle cx="161.4" cy="156.8"/><circle cx="161.4" cy="160.3"/><circle cx="161.4" cy="163.9"/><circle cx="161.4" cy="167.4"/><circle cx="161.4" cy="171.0"/><circle cx="161.4" cy="174.5"/><circle cx="161.4" cy="181.6"/><circle cx="161.4" cy="185.1"/><circle cx="161.4" cy="217.0"/><circle cx="164.5" cy="116.1"/><circle cx="164.5" cy="119.6"/><circle cx="164.5" cy="123.2"/><circle cx="164.5" cy="126.7"/><circle cx="164.5" cy="130.3"/><circle cx="164.5" cy="137.3"/><circle cx="164.5" cy="140.9"/><circle cx="164.5" cy="148.0"/><circle cx="164.5" cy="151.5"/><circle cx="164.5" cy="155.0"/><circle cx="164.5" cy="158.6"/><circle cx="164.5" cy="162.1"/><circle cx="164.5" cy="165.7"/><circle cx="164.5" cy="169.2"/><circle cx="164.5" cy="172.7"/><circle cx="164.5" cy="179.8"/><circle cx="164.5" cy="183.4"/><circle cx="164.5" cy="222.3"/><circle cx="164.5" cy="225.8"/><circle cx="167.5" cy="114.3"/><circle cx="167.5" cy="117.9"/><circle cx="167.5" cy="121.4"/><circle cx="167.5" cy="128.5"/><circle cx="167.5" cy="132.0"/><circle cx="167.5" cy="135.6"/><circle cx="167.5" cy="142.6"/><circle cx="167.5" cy="146.2"/><circle cx="167.5" cy="153.3"/><circle cx="167.5" cy="156.8"/><circle cx="167.5" cy="160.3"/><circle cx="167.5" cy="163.9"/><circle cx="167.5" cy="167.4"/><circle cx="167.5" cy="171.0"/><circle cx="167.5" cy="174.5"/><circle cx="167.5" cy="178.0"/><circle cx="167.5" cy="181.6"/><circle cx="167.5" cy="227.6"/><circle cx="167.5" cy="231.1"/><circle cx="170.6" cy="112.5"/><circle cx="170.6" cy="116.1"/><circle cx="170.6" cy="119.6"/><circle cx="170.6" cy="123.2"/><circle cx="170.6" cy="130.3"/><circle cx="170.6" cy="133.8"/><circle cx="170.6" cy="137.3"/><circle cx="170.6" cy="140.9"/><circle cx="170.6" cy="151.5"/><circle cx="170.6" cy="155.0"/><circle cx="170.6" cy="158.6"/><circle cx="170.6" cy="162.1"/><circle cx="170.6" cy="165.7"/><circle cx="170.6" cy="169.2"/><circle cx="170.6" cy="172.7"/><circle cx="170.6" cy="176.3"/><circle cx="170.6" cy="179.8"/><circle cx="170.6" cy="229.4"/><circle cx="170.6" cy="232.9"/><circle cx="173.7" cy="117.9"/><circle cx="173.7" cy="121.4"/><circle cx="173.7" cy="124.9"/><circle cx="173.7" cy="128.5"/><circle cx="173.7" cy="132.0"/><circle cx="173.7" cy="135.6"/><circle cx="173.7" cy="142.6"/><circle cx="173.7" cy="146.2"/><circle cx="173.7" cy="149.7"/><circle cx="173.7" cy="153.3"/><circle cx="173.7" cy="156.8"/><circle cx="173.7" cy="160.3"/><circle cx="173.7" cy="163.9"/><circle cx="173.7" cy="167.4"/><circle cx="173.7" cy="174.5"/><circle cx="173.7" cy="234.7"/><circle cx="173.7" cy="238.2"/><circle cx="176.7" cy="119.6"/><circle cx="176.7" cy="123.2"/><circle cx="176.7" cy="126.7"/><circle cx="176.7" cy="130.3"/><circle cx="176.7" cy="133.8"/><circle cx="176.7" cy="137.3"/><circle cx="176.7" cy="140.9"/><circle cx="176.7" cy="144.4"/><circle cx="176.7" cy="148.0"/><circle cx="176.7" cy="151.5"/><circle cx="176.7" cy="155.0"/><circle cx="176.7" cy="158.6"/><circle cx="176.7" cy="162.1"/><circle cx="176.7" cy="172.7"/><circle cx="176.7" cy="240.0"/><circle cx="179.8" cy="121.4"/><circle cx="179.8" cy="124.9"/><circle cx="179.8" cy="128.5"/><circle cx="179.8" cy="132.0"/><circle cx="179.8" cy="135.6"/><circle cx="179.8" cy="139.1"/><circle cx="179.8" cy="142.6"/><circle cx="179.8" cy="146.2"/><circle cx="179.8" cy="149.7"/><circle cx="179.8" cy="153.3"/><circle cx="179.8" cy="156.8"/><circle cx="179.8" cy="160.3"/><circle cx="179.8" cy="174.5"/><circle cx="179.8" cy="241.8"/><circle cx="179.8" cy="245.3"/><circle cx="182.9" cy="126.7"/><circle cx="182.9" cy="130.3"/><circle cx="182.9" cy="133.8"/><circle cx="182.9" cy="137.3"/><circle cx="182.9" cy="140.9"/><circle cx="182.9" cy="144.4"/><circle cx="182.9" cy="148.0"/><circle cx="182.9" cy="151.5"/><circle cx="182.9" cy="155.0"/><circle cx="182.9" cy="172.7"/><circle cx="185.9" cy="167.4"/><circle cx="185.9" cy="171.0"/><circle cx="189.0" cy="165.7"/><circle cx="189.0" cy="169.2"/><circle cx="189.0" cy="172.7"/><circle cx="189.0" cy="176.3"/><circle cx="192.1" cy="167.4"/><circle cx="192.1" cy="171.0"/><circle cx="192.1" cy="174.5"/><circle cx="195.1" cy="172.7"/><circle cx="198.2" cy="171.0"/><circle cx="201.3" cy="172.7"/><circle cx="204.3" cy="174.5"/><circle cx="207.4" cy="172.7"/><circle cx="210.4" cy="171.0"/><circle cx="210.4" cy="174.5"/><circle cx="213.5" cy="172.7"/><circle cx="216.6" cy="171.0"/><circle cx="216.6" cy="174.5"/><circle cx="219.6" cy="169.2"/><circle cx="219.6" cy="172.7"/><circle cx="222.7" cy="167.4"/><circle cx="222.7" cy="171.0"/><circle cx="222.7" cy="174.5"/><circle cx="222.7" cy="178.0"/><circle cx="225.8" cy="165.7"/><circle cx="225.8" cy="169.2"/><circle cx="225.8" cy="176.3"/><circle cx="225.8" cy="179.8"/><circle cx="228.8" cy="163.9"/><circle cx="228.8" cy="167.4"/><circle cx="228.8" cy="181.6"/><circle cx="228.8" cy="185.1"/><circle cx="231.9" cy="162.1"/><circle cx="231.9" cy="165.7"/><circle cx="231.9" cy="183.4"/><circle cx="231.9" cy="186.9"/><circle cx="235.0" cy="160.3"/><circle cx="235.0" cy="163.9"/><circle cx="235.0" cy="188.7"/><circle cx="238.0" cy="158.6"/><circle cx="238.0" cy="162.1"/><circle cx="238.0" cy="190.4"/><circle cx="238.0" cy="194.0"/><circle cx="241.1" cy="156.8"/><circle cx="241.1" cy="160.3"/><circle cx="241.1" cy="192.2"/><circle cx="241.1" cy="195.7"/><circle cx="244.2" cy="155.0"/><circle cx="244.2" cy="158.6"/><circle cx="244.2" cy="194.0"/><circle cx="244.2" cy="197.5"/><circle cx="247.2" cy="153.3"/><circle cx="247.2" cy="156.8"/><circle cx="250.3" cy="151.5"/><circle cx="250.3" cy="155.0"/><circle cx="253.4" cy="149.7"/><circle cx="256.4" cy="148.0"/><circle cx="259.5" cy="142.6"/><circle cx="259.5" cy="146.2"/><circle cx="262.6" cy="140.9"/><circle cx="265.6" cy="135.6"/><circle cx="265.6" cy="139.1"/><circle cx="268.7" cy="133.8"/><circle cx="271.8" cy="132.0"/><circle cx="274.8" cy="133.8"/><circle cx="277.9" cy="132.0"/><circle cx="277.9" cy="135.6"/>
</g><use href="#ol"/>
<g stroke="#2a0808" stroke-width="0.5">
<circle cx="112.4" cy="89.5" r="1.75" fill="#e51a16"/>
<circle cx="109.3" cy="101.9" r="1.75" fill="#e51a16"/>
<circle cx="130.8" cy="100.2" r="1.75" fill="#e51a16"/>
<circle cx="158.3" cy="94.9" r="1.75" fill="#e51a16"/>
<circle cx="143.0" cy="171.0" r="1.75" fill="#e51a16"/>
<circle cx="149.2" cy="171.0" r="1.75" fill="#e51a16"/>
<circle cx="143.0" cy="174.5" r="1.75" fill="#e51a16"/>
<circle cx="143.0" cy="181.6" r="1.75" fill="#e51a16"/>
<circle cx="140.0" cy="183.4" r="1.75" fill="#720030"/>
<circle cx="140.0" cy="186.9" r="1.75" fill="#e51a16"/>
<circle cx="136.9" cy="188.7" r="1.75" fill="#e51a16"/>
</g></g>
<g transform="translate(449.9,0)"><g class="hx">
<circle cx="97.0" cy="84.2"/><circle cx="97.0" cy="87.8"/><circle cx="100.1" cy="86.0"/><circle cx="103.2" cy="87.8"/><circle cx="106.2" cy="89.5"/><circle cx="106.2" cy="103.7"/><circle cx="106.2" cy="107.2"/><circle cx="109.3" cy="91.3"/><circle cx="109.3" cy="94.9"/><circle cx="109.3" cy="98.4"/><circle cx="109.3" cy="101.9"/><circle cx="109.3" cy="105.5"/><circle cx="112.4" cy="89.5"/><circle cx="112.4" cy="93.1"/><circle cx="112.4" cy="96.6"/><circle cx="112.4" cy="100.2"/><circle cx="112.4" cy="103.7"/><circle cx="112.4" cy="107.2"/><circle cx="112.4" cy="110.8"/><circle cx="112.4" cy="114.3"/><circle cx="115.4" cy="87.8"/><circle cx="115.4" cy="91.3"/><circle cx="115.4" cy="94.9"/><circle cx="115.4" cy="98.4"/><circle cx="115.4" cy="101.9"/><circle cx="115.4" cy="109.0"/><circle cx="115.4" cy="112.5"/><circle cx="115.4" cy="116.1"/><circle cx="115.4" cy="176.3"/><circle cx="115.4" cy="179.8"/><circle cx="115.4" cy="183.4"/><circle cx="118.5" cy="82.5"/><circle cx="118.5" cy="89.5"/><circle cx="118.5" cy="93.1"/><circle cx="118.5" cy="96.6"/><circle cx="118.5" cy="100.2"/><circle cx="118.5" cy="103.7"/><circle cx="118.5" cy="110.8"/><circle cx="118.5" cy="121.4"/><circle cx="118.5" cy="171.0"/><circle cx="118.5" cy="174.5"/><circle cx="118.5" cy="178.0"/><circle cx="118.5" cy="181.6"/><circle cx="118.5" cy="185.1"/><circle cx="118.5" cy="188.7"/><circle cx="118.5" cy="192.2"/><circle cx="118.5" cy="195.7"/><circle cx="121.6" cy="77.2"/><circle cx="121.6" cy="80.7"/><circle cx="121.6" cy="84.2"/><circle cx="121.6" cy="87.8"/><circle cx="121.6" cy="91.3"/><circle cx="121.6" cy="94.9"/><circle cx="121.6" cy="98.4"/><circle cx="121.6" cy="101.9"/><circle cx="121.6" cy="105.5"/><circle cx="121.6" cy="109.0"/><circle cx="121.6" cy="119.6"/><circle cx="121.6" cy="123.2"/><circle cx="121.6" cy="169.2"/><circle cx="121.6" cy="176.3"/><circle cx="121.6" cy="179.8"/><circle cx="121.6" cy="183.4"/><circle cx="121.6" cy="186.9"/><circle cx="121.6" cy="190.4"/><circle cx="121.6" cy="194.0"/><circle cx="121.6" cy="197.5"/><circle cx="121.6" cy="201.1"/><circle cx="124.6" cy="86.0"/><circle cx="124.6" cy="89.5"/><circle cx="124.6" cy="103.7"/><circle cx="124.6" cy="107.2"/><circle cx="124.6" cy="110.8"/><circle cx="124.6" cy="114.3"/><circle cx="124.6" cy="117.9"/><circle cx="124.6" cy="124.9"/><circle cx="124.6" cy="167.4"/><circle cx="124.6" cy="171.0"/><circle cx="124.6" cy="174.5"/><circle cx="124.6" cy="178.0"/><circle cx="124.6" cy="181.6"/><circle cx="124.6" cy="185.1"/><circle cx="124.6" cy="188.7"/><circle cx="124.6" cy="192.2"/><circle cx="124.6" cy="195.7"/><circle cx="124.6" cy="199.3"/><circle cx="124.6" cy="202.8"/><circle cx="124.6" cy="206.4"/><circle cx="127.7" cy="105.5"/><circle cx="127.7" cy="109.0"/><circle cx="127.7" cy="112.5"/><circle cx="127.7" cy="116.1"/><circle cx="127.7" cy="119.6"/><circle cx="127.7" cy="123.2"/><circle cx="127.7" cy="126.7"/><circle cx="127.7" cy="172.7"/><circle cx="127.7" cy="176.3"/><circle cx="127.7" cy="179.8"/><circle cx="127.7" cy="183.4"/><circle cx="127.7" cy="186.9"/><circle cx="127.7" cy="190.4"/><circle cx="127.7" cy="194.0"/><circle cx="127.7" cy="197.5"/><circle cx="127.7" cy="201.1"/><circle cx="127.7" cy="204.6"/><circle cx="130.8" cy="103.7"/><circle cx="130.8" cy="107.2"/><circle cx="130.8" cy="110.8"/><circle cx="130.8" cy="114.3"/><circle cx="130.8" cy="117.9"/><circle cx="130.8" cy="124.9"/><circle cx="130.8" cy="128.5"/><circle cx="130.8" cy="132.0"/><circle cx="130.8" cy="135.6"/><circle cx="130.8" cy="139.1"/><circle cx="130.8" cy="142.6"/><circle cx="130.8" cy="146.2"/><circle cx="130.8" cy="149.7"/><circle cx="130.8" cy="153.3"/><circle cx="130.8" cy="156.8"/><circle cx="130.8" cy="160.3"/><circle cx="130.8" cy="163.9"/><circle cx="130.8" cy="167.4"/><circle cx="130.8" cy="171.0"/><circle cx="130.8" cy="174.5"/><circle cx="130.8" cy="178.0"/><circle cx="130.8" cy="181.6"/><circle cx="130.8" cy="185.1"/><circle cx="130.8" cy="188.7"/><circle cx="130.8" cy="192.2"/><circle cx="130.8" cy="195.7"/><circle cx="130.8" cy="199.3"/><circle cx="130.8" cy="202.8"/><circle cx="133.8" cy="105.5"/><circle cx="133.8" cy="109.0"/><circle cx="133.8" cy="112.5"/><circle cx="133.8" cy="116.1"/><circle cx="133.8" cy="119.6"/><circle cx="133.8" cy="123.2"/><circle cx="133.8" cy="126.7"/><circle cx="133.8" cy="130.3"/><circle cx="133.8" cy="140.9"/><circle cx="133.8" cy="144.4"/><circle cx="133.8" cy="148.0"/><circle cx="133.8" cy="151.5"/><circle cx="133.8" cy="162.1"/><circle cx="133.8" cy="165.7"/><circle cx="133.8" cy="169.2"/><circle cx="133.8" cy="172.7"/><circle cx="133.8" cy="176.3"/><circle cx="133.8" cy="179.8"/><circle cx="133.8" cy="183.4"/><circle cx="133.8" cy="186.9"/><circle cx="133.8" cy="190.4"/><circle cx="133.8" cy="194.0"/><circle cx="133.8" cy="197.5"/><circle cx="133.8" cy="201.1"/><circle cx="136.9" cy="89.5"/><circle cx="136.9" cy="93.1"/><circle cx="136.9" cy="96.6"/><circle cx="136.9" cy="100.2"/><circle cx="136.9" cy="103.7"/><circle cx="136.9" cy="107.2"/><circle cx="136.9" cy="110.8"/><circle cx="136.9" cy="114.3"/><circle cx="136.9" cy="117.9"/><circle cx="136.9" cy="121.4"/><circle cx="136.9" cy="124.9"/><circle cx="136.9" cy="128.5"/><circle cx="136.9" cy="132.0"/><circle cx="136.9" cy="135.6"/><circle cx="136.9" cy="139.1"/><circle cx="136.9" cy="142.6"/><circle cx="136.9" cy="146.2"/><circle cx="136.9" cy="149.7"/><circle cx="136.9" cy="153.3"/><circle cx="136.9" cy="156.8"/><circle cx="136.9" cy="160.3"/><circle cx="136.9" cy="163.9"/><circle cx="136.9" cy="167.4"/><circle cx="136.9" cy="171.0"/><circle cx="136.9" cy="178.0"/><circle cx="136.9" cy="181.6"/><circle cx="136.9" cy="185.1"/><circle cx="136.9" cy="188.7"/><circle cx="136.9" cy="192.2"/><circle cx="136.9" cy="195.7"/><circle cx="136.9" cy="199.3"/><circle cx="136.9" cy="202.8"/><circle cx="140.0" cy="87.8"/><circle cx="140.0" cy="91.3"/><circle cx="140.0" cy="94.9"/><circle cx="140.0" cy="98.4"/><circle cx="140.0" cy="101.9"/><circle cx="140.0" cy="105.5"/><circle cx="140.0" cy="109.0"/><circle cx="140.0" cy="112.5"/><circle cx="140.0" cy="116.1"/><circle cx="140.0" cy="130.3"/><circle cx="140.0" cy="144.4"/><circle cx="140.0" cy="148.0"/><circle cx="140.0" cy="162.1"/><circle cx="140.0" cy="165.7"/><circle cx="140.0" cy="169.2"/><circle cx="140.0" cy="172.7"/><circle cx="140.0" cy="176.3"/><circle cx="140.0" cy="179.8"/><circle cx="140.0" cy="183.4"/><circle cx="140.0" cy="186.9"/><circle cx="140.0" cy="190.4"/><circle cx="140.0" cy="194.0"/><circle cx="140.0" cy="197.5"/><circle cx="143.0" cy="89.5"/><circle cx="143.0" cy="107.2"/><circle cx="143.0" cy="110.8"/><circle cx="143.0" cy="114.3"/><circle cx="143.0" cy="128.5"/><circle cx="143.0" cy="132.0"/><circle cx="143.0" cy="135.6"/><circle cx="143.0" cy="142.6"/><circle cx="143.0" cy="146.2"/><circle cx="143.0" cy="149.7"/><circle cx="143.0" cy="153.3"/><circle cx="143.0" cy="156.8"/><circle cx="143.0" cy="160.3"/><circle cx="143.0" cy="163.9"/><circle cx="143.0" cy="167.4"/><circle cx="143.0" cy="171.0"/><circle cx="143.0" cy="174.5"/><circle cx="143.0" cy="178.0"/><circle cx="143.0" cy="181.6"/><circle cx="143.0" cy="185.1"/><circle cx="143.0" cy="188.7"/><circle cx="143.0" cy="192.2"/><circle cx="146.1" cy="91.3"/><circle cx="146.1" cy="109.0"/><circle cx="146.1" cy="112.5"/><circle cx="146.1" cy="116.1"/><circle cx="146.1" cy="130.3"/><circle cx="146.1" cy="133.8"/><circle cx="146.1" cy="137.3"/><circle cx="146.1" cy="140.9"/><circle cx="146.1" cy="144.4"/><circle cx="146.1" cy="151.5"/><circle cx="146.1" cy="155.0"/><circle cx="146.1" cy="158.6"/><circle cx="146.1" cy="162.1"/><circle cx="146.1" cy="165.7"/><circle cx="146.1" cy="169.2"/><circle cx="146.1" cy="172.7"/><circle cx="146.1" cy="176.3"/><circle cx="146.1" cy="179.8"/><circle cx="146.1" cy="183.4"/><circle cx="146.1" cy="186.9"/><circle cx="149.2" cy="89.5"/><circle cx="149.2" cy="93.1"/><circle cx="149.2" cy="110.8"/><circle cx="149.2" cy="114.3"/><circle cx="149.2" cy="117.9"/><circle cx="149.2" cy="121.4"/><circle cx="149.2" cy="124.9"/><circle cx="149.2" cy="128.5"/><circle cx="149.2" cy="132.0"/><circle cx="149.2" cy="142.6"/><circle cx="149.2" cy="146.2"/><circle cx="149.2" cy="149.7"/><circle cx="149.2" cy="153.3"/><circle cx="149.2" cy="156.8"/><circle cx="149.2" cy="160.3"/><circle cx="149.2" cy="163.9"/><circle cx="149.2" cy="167.4"/><circle cx="149.2" cy="171.0"/><circle cx="149.2" cy="174.5"/><circle cx="149.2" cy="178.0"/><circle cx="149.2" cy="181.6"/><circle cx="149.2" cy="185.1"/><circle cx="149.2" cy="195.7"/><circle cx="149.2" cy="199.3"/><circle cx="149.2" cy="202.8"/><circle cx="149.2" cy="206.4"/><circle cx="152.2" cy="112.5"/><circle cx="152.2" cy="116.1"/><circle cx="152.2" cy="130.3"/><circle cx="152.2" cy="133.8"/><circle cx="152.2" cy="137.3"/><circle cx="152.2" cy="140.9"/><circle cx="152.2" cy="144.4"/><circle cx="152.2" cy="148.0"/><circle cx="152.2" cy="151.5"/><circle cx="152.2" cy="155.0"/><circle cx="152.2" cy="158.6"/><circle cx="152.2" cy="162.1"/><circle cx="152.2" cy="165.7"/><circle cx="152.2" cy="169.2"/><circle cx="152.2" cy="172.7"/><circle cx="152.2" cy="176.3"/><circle cx="152.2" cy="179.8"/><circle cx="152.2" cy="190.4"/><circle cx="152.2" cy="194.0"/><circle cx="152.2" cy="197.5"/><circle cx="152.2" cy="208.1"/><circle cx="155.3" cy="114.3"/><circle cx="155.3" cy="117.9"/><circle cx="155.3" cy="132.0"/><circle cx="155.3" cy="135.6"/><circle cx="155.3" cy="139.1"/><circle cx="155.3" cy="142.6"/><circle cx="155.3" cy="146.2"/><circle cx="155.3" cy="163.9"/><circle cx="155.3" cy="167.4"/><circle cx="155.3" cy="171.0"/><circle cx="155.3" cy="174.5"/><circle cx="155.3" cy="178.0"/><circle cx="155.3" cy="188.7"/><circle cx="155.3" cy="209.9"/><circle cx="155.3" cy="213.4"/><circle cx="158.3" cy="91.3"/><circle cx="158.3" cy="94.9"/><circle cx="158.3" cy="98.4"/><circle cx="158.3" cy="101.9"/><circle cx="158.3" cy="105.5"/><circle cx="158.3" cy="109.0"/><circle cx="158.3" cy="112.5"/><circle cx="158.3" cy="116.1"/><circle cx="158.3" cy="119.6"/><circle cx="158.3" cy="123.2"/><circle cx="158.3" cy="126.7"/><circle cx="158.3" cy="130.3"/><circle cx="158.3" cy="133.8"/><circle cx="158.3" cy="137.3"/><circle cx="158.3" cy="140.9"/><circle cx="158.3" cy="144.4"/><circle cx="158.3" cy="148.0"/><circle cx="158.3" cy="151.5"/><circle cx="158.3" cy="165.7"/><circle cx="158.3" cy="169.2"/><circle cx="158.3" cy="172.7"/><circle cx="158.3" cy="176.3"/><circle cx="158.3" cy="183.4"/><circle cx="158.3" cy="186.9"/><circle cx="158.3" cy="215.2"/><circle cx="161.4" cy="93.1"/><circle cx="161.4" cy="103.7"/><circle cx="161.4" cy="114.3"/><circle cx="161.4" cy="117.9"/><circle cx="161.4" cy="121.4"/><circle cx="161.4" cy="124.9"/><circle cx="161.4" cy="128.5"/><circle cx="161.4" cy="135.6"/><circle cx="161.4" cy="139.1"/><circle cx="161.4" cy="142.6"/><circle cx="161.4" cy="146.2"/><circle cx="161.4" cy="149.7"/><circle cx="161.4" cy="153.3"/><circle cx="161.4" cy="156.8"/><circle cx="161.4" cy="160.3"/><circle cx="161.4" cy="163.9"/><circle cx="161.4" cy="167.4"/><circle cx="161.4" cy="171.0"/><circle cx="161.4" cy="174.5"/><circle cx="161.4" cy="181.6"/><circle cx="161.4" cy="185.1"/><circle cx="161.4" cy="217.0"/><circle cx="164.5" cy="116.1"/><circle cx="164.5" cy="119.6"/><circle cx="164.5" cy="123.2"/><circle cx="164.5" cy="126.7"/><circle cx="164.5" cy="130.3"/><circle cx="164.5" cy="137.3"/><circle cx="164.5" cy="140.9"/><circle cx="164.5" cy="148.0"/><circle cx="164.5" cy="151.5"/><circle cx="164.5" cy="155.0"/><circle cx="164.5" cy="158.6"/><circle cx="164.5" cy="162.1"/><circle cx="164.5" cy="165.7"/><circle cx="164.5" cy="169.2"/><circle cx="164.5" cy="172.7"/><circle cx="164.5" cy="179.8"/><circle cx="164.5" cy="183.4"/><circle cx="164.5" cy="222.3"/><circle cx="164.5" cy="225.8"/><circle cx="167.5" cy="114.3"/><circle cx="167.5" cy="117.9"/><circle cx="167.5" cy="121.4"/><circle cx="167.5" cy="128.5"/><circle cx="167.5" cy="132.0"/><circle cx="167.5" cy="135.6"/><circle cx="167.5" cy="142.6"/><circle cx="167.5" cy="146.2"/><circle cx="167.5" cy="153.3"/><circle cx="167.5" cy="156.8"/><circle cx="167.5" cy="160.3"/><circle cx="167.5" cy="163.9"/><circle cx="167.5" cy="167.4"/><circle cx="167.5" cy="171.0"/><circle cx="167.5" cy="174.5"/><circle cx="167.5" cy="178.0"/><circle cx="167.5" cy="181.6"/><circle cx="167.5" cy="227.6"/><circle cx="167.5" cy="231.1"/><circle cx="170.6" cy="112.5"/><circle cx="170.6" cy="116.1"/><circle cx="170.6" cy="119.6"/><circle cx="170.6" cy="123.2"/><circle cx="170.6" cy="130.3"/><circle cx="170.6" cy="133.8"/><circle cx="170.6" cy="137.3"/><circle cx="170.6" cy="140.9"/><circle cx="170.6" cy="151.5"/><circle cx="170.6" cy="155.0"/><circle cx="170.6" cy="158.6"/><circle cx="170.6" cy="162.1"/><circle cx="170.6" cy="165.7"/><circle cx="170.6" cy="169.2"/><circle cx="170.6" cy="172.7"/><circle cx="170.6" cy="176.3"/><circle cx="170.6" cy="179.8"/><circle cx="170.6" cy="229.4"/><circle cx="170.6" cy="232.9"/><circle cx="173.7" cy="117.9"/><circle cx="173.7" cy="121.4"/><circle cx="173.7" cy="124.9"/><circle cx="173.7" cy="128.5"/><circle cx="173.7" cy="132.0"/><circle cx="173.7" cy="135.6"/><circle cx="173.7" cy="142.6"/><circle cx="173.7" cy="146.2"/><circle cx="173.7" cy="149.7"/><circle cx="173.7" cy="153.3"/><circle cx="173.7" cy="156.8"/><circle cx="173.7" cy="160.3"/><circle cx="173.7" cy="163.9"/><circle cx="173.7" cy="167.4"/><circle cx="173.7" cy="174.5"/><circle cx="173.7" cy="234.7"/><circle cx="173.7" cy="238.2"/><circle cx="176.7" cy="119.6"/><circle cx="176.7" cy="123.2"/><circle cx="176.7" cy="126.7"/><circle cx="176.7" cy="130.3"/><circle cx="176.7" cy="133.8"/><circle cx="176.7" cy="137.3"/><circle cx="176.7" cy="140.9"/><circle cx="176.7" cy="144.4"/><circle cx="176.7" cy="148.0"/><circle cx="176.7" cy="151.5"/><circle cx="176.7" cy="155.0"/><circle cx="176.7" cy="158.6"/><circle cx="176.7" cy="162.1"/><circle cx="176.7" cy="172.7"/><circle cx="176.7" cy="240.0"/><circle cx="179.8" cy="121.4"/><circle cx="179.8" cy="124.9"/><circle cx="179.8" cy="128.5"/><circle cx="179.8" cy="132.0"/><circle cx="179.8" cy="135.6"/><circle cx="179.8" cy="139.1"/><circle cx="179.8" cy="142.6"/><circle cx="179.8" cy="146.2"/><circle cx="179.8" cy="149.7"/><circle cx="179.8" cy="153.3"/><circle cx="179.8" cy="156.8"/><circle cx="179.8" cy="160.3"/><circle cx="179.8" cy="174.5"/><circle cx="179.8" cy="241.8"/><circle cx="179.8" cy="245.3"/><circle cx="182.9" cy="126.7"/><circle cx="182.9" cy="130.3"/><circle cx="182.9" cy="133.8"/><circle cx="182.9" cy="137.3"/><circle cx="182.9" cy="140.9"/><circle cx="182.9" cy="144.4"/><circle cx="182.9" cy="148.0"/><circle cx="182.9" cy="151.5"/><circle cx="182.9" cy="155.0"/><circle cx="182.9" cy="172.7"/><circle cx="185.9" cy="167.4"/><circle cx="185.9" cy="171.0"/><circle cx="189.0" cy="165.7"/><circle cx="189.0" cy="169.2"/><circle cx="189.0" cy="172.7"/><circle cx="189.0" cy="176.3"/><circle cx="192.1" cy="167.4"/><circle cx="192.1" cy="171.0"/><circle cx="192.1" cy="174.5"/><circle cx="195.1" cy="172.7"/><circle cx="198.2" cy="171.0"/><circle cx="201.3" cy="172.7"/><circle cx="204.3" cy="174.5"/><circle cx="207.4" cy="172.7"/><circle cx="210.4" cy="171.0"/><circle cx="210.4" cy="174.5"/><circle cx="213.5" cy="172.7"/><circle cx="216.6" cy="171.0"/><circle cx="216.6" cy="174.5"/><circle cx="219.6" cy="169.2"/><circle cx="219.6" cy="172.7"/><circle cx="222.7" cy="167.4"/><circle cx="222.7" cy="171.0"/><circle cx="222.7" cy="174.5"/><circle cx="222.7" cy="178.0"/><circle cx="225.8" cy="165.7"/><circle cx="225.8" cy="169.2"/><circle cx="225.8" cy="176.3"/><circle cx="225.8" cy="179.8"/><circle cx="228.8" cy="163.9"/><circle cx="228.8" cy="167.4"/><circle cx="228.8" cy="181.6"/><circle cx="228.8" cy="185.1"/><circle cx="231.9" cy="162.1"/><circle cx="231.9" cy="165.7"/><circle cx="231.9" cy="183.4"/><circle cx="231.9" cy="186.9"/><circle cx="235.0" cy="160.3"/><circle cx="235.0" cy="163.9"/><circle cx="235.0" cy="188.7"/><circle cx="238.0" cy="158.6"/><circle cx="238.0" cy="162.1"/><circle cx="238.0" cy="190.4"/><circle cx="238.0" cy="194.0"/><circle cx="241.1" cy="156.8"/><circle cx="241.1" cy="160.3"/><circle cx="241.1" cy="192.2"/><circle cx="241.1" cy="195.7"/><circle cx="244.2" cy="155.0"/><circle cx="244.2" cy="158.6"/><circle cx="244.2" cy="194.0"/><circle cx="244.2" cy="197.5"/><circle cx="247.2" cy="153.3"/><circle cx="247.2" cy="156.8"/><circle cx="250.3" cy="151.5"/><circle cx="250.3" cy="155.0"/><circle cx="253.4" cy="149.7"/><circle cx="256.4" cy="148.0"/><circle cx="259.5" cy="142.6"/><circle cx="259.5" cy="146.2"/><circle cx="262.6" cy="140.9"/><circle cx="265.6" cy="135.6"/><circle cx="265.6" cy="139.1"/><circle cx="268.7" cy="133.8"/><circle cx="271.8" cy="132.0"/><circle cx="274.8" cy="133.8"/><circle cx="277.9" cy="132.0"/><circle cx="277.9" cy="135.6"/>
</g><use href="#ol"/>
<g stroke="#2a0808" stroke-width="0.5">
<circle cx="112.4" cy="89.5" r="1.75" fill="#e51a16"/>
<circle cx="109.3" cy="101.9" r="1.75" fill="#e51a16"/>
<circle cx="130.8" cy="100.2" r="1.75" fill="#e51a16"/>
<circle cx="158.3" cy="94.9" r="1.75" fill="#e51a16"/>
<circle cx="155.3" cy="117.9" r="1.75" fill="#e51a16"/>
<circle cx="143.0" cy="171.0" r="1.75" fill="#e51a16"/>
<circle cx="149.2" cy="171.0" r="1.75" fill="#e51a16"/>
<circle cx="143.0" cy="174.5" r="1.75" fill="#e51a16"/>
<circle cx="149.2" cy="174.5" r="1.75" fill="#e51a16"/>
<circle cx="143.0" cy="181.6" r="1.75" fill="#e51a16"/>
<circle cx="140.0" cy="183.4" r="1.75" fill="#e51a16"/>
<circle cx="140.0" cy="186.9" r="1.75" fill="#e51a16"/>
<circle cx="136.9" cy="188.7" r="1.75" fill="#e51a16"/>
</g></g>
<g transform="translate(0,267.3)"><g class="hx">
<circle cx="97.0" cy="84.2"/><circle cx="97.0" cy="87.8"/><circle cx="100.1" cy="86.0"/><circle cx="103.2" cy="87.8"/><circle cx="106.2" cy="89.5"/><circle cx="106.2" cy="103.7"/><circle cx="106.2" cy="107.2"/><circle cx="109.3" cy="91.3"/><circle cx="109.3" cy="94.9"/><circle cx="109.3" cy="98.4"/><circle cx="109.3" cy="101.9"/><circle cx="109.3" cy="105.5"/><circle cx="112.4" cy="89.5"/><circle cx="112.4" cy="93.1"/><circle cx="112.4" cy="96.6"/><circle cx="112.4" cy="100.2"/><circle cx="112.4" cy="103.7"/><circle cx="112.4" cy="107.2"/><circle cx="112.4" cy="110.8"/><circle cx="112.4" cy="114.3"/><circle cx="115.4" cy="87.8"/><circle cx="115.4" cy="91.3"/><circle cx="115.4" cy="94.9"/><circle cx="115.4" cy="98.4"/><circle cx="115.4" cy="101.9"/><circle cx="115.4" cy="109.0"/><circle cx="115.4" cy="112.5"/><circle cx="115.4" cy="116.1"/><circle cx="118.5" cy="82.5"/><circle cx="118.5" cy="89.5"/><circle cx="118.5" cy="93.1"/><circle cx="118.5" cy="96.6"/><circle cx="118.5" cy="100.2"/><circle cx="118.5" cy="103.7"/><circle cx="118.5" cy="110.8"/><circle cx="118.5" cy="114.3"/><circle cx="118.5" cy="117.9"/><circle cx="118.5" cy="121.4"/><circle cx="118.5" cy="171.0"/><circle cx="118.5" cy="174.5"/><circle cx="118.5" cy="178.0"/><circle cx="118.5" cy="181.6"/><circle cx="118.5" cy="185.1"/><circle cx="118.5" cy="188.7"/><circle cx="118.5" cy="192.2"/><circle cx="118.5" cy="195.7"/><circle cx="121.6" cy="77.2"/><circle cx="121.6" cy="80.7"/><circle cx="121.6" cy="84.2"/><circle cx="121.6" cy="87.8"/><circle cx="121.6" cy="91.3"/><circle cx="121.6" cy="94.9"/><circle cx="121.6" cy="98.4"/><circle cx="121.6" cy="101.9"/><circle cx="121.6" cy="105.5"/><circle cx="121.6" cy="109.0"/><circle cx="121.6" cy="112.5"/><circle cx="121.6" cy="116.1"/><circle cx="121.6" cy="119.6"/><circle cx="121.6" cy="123.2"/><circle cx="121.6" cy="169.2"/><circle cx="121.6" cy="176.3"/><circle cx="121.6" cy="179.8"/><circle cx="121.6" cy="183.4"/><circle cx="121.6" cy="186.9"/><circle cx="121.6" cy="190.4"/><circle cx="121.6" cy="194.0"/><circle cx="121.6" cy="197.5"/><circle cx="121.6" cy="201.1"/><circle cx="124.6" cy="86.0"/><circle cx="124.6" cy="89.5"/><circle cx="124.6" cy="103.7"/><circle cx="124.6" cy="107.2"/><circle cx="124.6" cy="110.8"/><circle cx="124.6" cy="114.3"/><circle cx="124.6" cy="117.9"/><circle cx="124.6" cy="124.9"/><circle cx="124.6" cy="167.4"/><circle cx="124.6" cy="171.0"/><circle cx="124.6" cy="174.5"/><circle cx="124.6" cy="178.0"/><circle cx="124.6" cy="181.6"/><circle cx="124.6" cy="185.1"/><circle cx="124.6" cy="188.7"/><circle cx="124.6" cy="192.2"/><circle cx="124.6" cy="195.7"/><circle cx="124.6" cy="199.3"/><circle cx="124.6" cy="202.8"/><circle cx="124.6" cy="206.4"/><circle cx="127.7" cy="105.5"/><circle cx="127.7" cy="109.0"/><circle cx="127.7" cy="112.5"/><circle cx="127.7" cy="116.1"/><circle cx="127.7" cy="119.6"/><circle cx="127.7" cy="123.2"/><circle cx="127.7" cy="126.7"/><circle cx="127.7" cy="172.7"/><circle cx="127.7" cy="176.3"/><circle cx="127.7" cy="179.8"/><circle cx="127.7" cy="183.4"/><circle cx="127.7" cy="186.9"/><circle cx="127.7" cy="190.4"/><circle cx="127.7" cy="194.0"/><circle cx="127.7" cy="197.5"/><circle cx="127.7" cy="201.1"/><circle cx="127.7" cy="204.6"/><circle cx="130.8" cy="103.7"/><circle cx="130.8" cy="107.2"/><circle cx="130.8" cy="110.8"/><circle cx="130.8" cy="114.3"/><circle cx="130.8" cy="117.9"/><circle cx="130.8" cy="121.4"/><circle cx="130.8" cy="124.9"/><circle cx="130.8" cy="128.5"/><circle cx="130.8" cy="132.0"/><circle cx="130.8" cy="135.6"/><circle cx="130.8" cy="139.1"/><circle cx="130.8" cy="142.6"/><circle cx="130.8" cy="146.2"/><circle cx="130.8" cy="149.7"/><circle cx="130.8" cy="153.3"/><circle cx="130.8" cy="156.8"/><circle cx="130.8" cy="160.3"/><circle cx="130.8" cy="163.9"/><circle cx="130.8" cy="167.4"/><circle cx="130.8" cy="171.0"/><circle cx="130.8" cy="174.5"/><circle cx="130.8" cy="178.0"/><circle cx="130.8" cy="181.6"/><circle cx="130.8" cy="185.1"/><circle cx="130.8" cy="188.7"/><circle cx="130.8" cy="192.2"/><circle cx="130.8" cy="195.7"/><circle cx="130.8" cy="199.3"/><circle cx="130.8" cy="202.8"/><circle cx="133.8" cy="105.5"/><circle cx="133.8" cy="109.0"/><circle cx="133.8" cy="112.5"/><circle cx="133.8" cy="116.1"/><circle cx="133.8" cy="119.6"/><circle cx="133.8" cy="123.2"/><circle cx="133.8" cy="126.7"/><circle cx="133.8" cy="130.3"/><circle cx="133.8" cy="144.4"/><circle cx="133.8" cy="148.0"/><circle cx="133.8" cy="151.5"/><circle cx="133.8" cy="158.6"/><circle cx="133.8" cy="162.1"/><circle cx="133.8" cy="165.7"/><circle cx="133.8" cy="169.2"/><circle cx="133.8" cy="172.7"/><circle cx="133.8" cy="176.3"/><circle cx="133.8" cy="179.8"/><circle cx="133.8" cy="183.4"/><circle cx="133.8" cy="186.9"/><circle cx="133.8" cy="190.4"/><circle cx="133.8" cy="194.0"/><circle cx="133.8" cy="197.5"/><circle cx="133.8" cy="201.1"/><circle cx="136.9" cy="89.5"/><circle cx="136.9" cy="93.1"/><circle cx="136.9" cy="96.6"/><circle cx="136.9" cy="100.2"/><circle cx="136.9" cy="103.7"/><circle cx="136.9" cy="107.2"/><circle cx="136.9" cy="110.8"/><circle cx="136.9" cy="114.3"/><circle cx="136.9" cy="117.9"/><circle cx="136.9" cy="121.4"/><circle cx="136.9" cy="124.9"/><circle cx="136.9" cy="128.5"/><circle cx="136.9" cy="132.0"/><circle cx="136.9" cy="135.6"/><circle cx="136.9" cy="139.1"/><circle cx="136.9" cy="142.6"/><circle cx="136.9" cy="146.2"/><circle cx="136.9" cy="149.7"/><circle cx="136.9" cy="153.3"/><circle cx="136.9" cy="156.8"/><circle cx="136.9" cy="160.3"/><circle cx="136.9" cy="163.9"/><circle cx="136.9" cy="167.4"/><circle cx="136.9" cy="171.0"/><circle cx="136.9" cy="178.0"/><circle cx="136.9" cy="181.6"/><circle cx="136.9" cy="185.1"/><circle cx="136.9" cy="188.7"/><circle cx="136.9" cy="192.2"/><circle cx="136.9" cy="195.7"/><circle cx="136.9" cy="199.3"/><circle cx="136.9" cy="202.8"/><circle cx="140.0" cy="87.8"/><circle cx="140.0" cy="91.3"/><circle cx="140.0" cy="94.9"/><circle cx="140.0" cy="98.4"/><circle cx="140.0" cy="101.9"/><circle cx="140.0" cy="105.5"/><circle cx="140.0" cy="109.0"/><circle cx="140.0" cy="112.5"/><circle cx="140.0" cy="116.1"/><circle cx="140.0" cy="130.3"/><circle cx="140.0" cy="140.9"/><circle cx="140.0" cy="144.4"/><circle cx="140.0" cy="148.0"/><circle cx="140.0" cy="162.1"/><circle cx="140.0" cy="165.7"/><circle cx="140.0" cy="169.2"/><circle cx="140.0" cy="172.7"/><circle cx="140.0" cy="176.3"/><circle cx="140.0" cy="179.8"/><circle cx="140.0" cy="183.4"/><circle cx="140.0" cy="186.9"/><circle cx="140.0" cy="190.4"/><circle cx="140.0" cy="194.0"/><circle cx="140.0" cy="197.5"/><circle cx="143.0" cy="89.5"/><circle cx="143.0" cy="107.2"/><circle cx="143.0" cy="110.8"/><circle cx="143.0" cy="114.3"/><circle cx="143.0" cy="128.5"/><circle cx="143.0" cy="132.0"/><circle cx="143.0" cy="135.6"/><circle cx="143.0" cy="139.1"/><circle cx="143.0" cy="142.6"/><circle cx="143.0" cy="146.2"/><circle cx="143.0" cy="149.7"/><circle cx="143.0" cy="153.3"/><circle cx="143.0" cy="156.8"/><circle cx="143.0" cy="160.3"/><circle cx="143.0" cy="163.9"/><circle cx="143.0" cy="167.4"/><circle cx="143.0" cy="171.0"/><circle cx="143.0" cy="174.5"/><circle cx="143.0" cy="178.0"/><circle cx="143.0" cy="181.6"/><circle cx="143.0" cy="185.1"/><circle cx="143.0" cy="188.7"/><circle cx="143.0" cy="192.2"/><circle cx="146.1" cy="91.3"/><circle cx="146.1" cy="109.0"/><circle cx="146.1" cy="112.5"/><circle cx="146.1" cy="116.1"/><circle cx="146.1" cy="130.3"/><circle cx="146.1" cy="133.8"/><circle cx="146.1" cy="137.3"/><circle cx="146.1" cy="140.9"/><circle cx="146.1" cy="144.4"/><circle cx="146.1" cy="148.0"/><circle cx="146.1" cy="151.5"/><circle cx="146.1" cy="155.0"/><circle cx="146.1" cy="158.6"/><circle cx="146.1" cy="162.1"/><circle cx="146.1" cy="165.7"/><circle cx="146.1" cy="169.2"/><circle cx="146.1" cy="172.7"/><circle cx="146.1" cy="176.3"/><circle cx="146.1" cy="179.8"/><circle cx="146.1" cy="183.4"/><circle cx="146.1" cy="186.9"/><circle cx="149.2" cy="89.5"/><circle cx="149.2" cy="93.1"/><circle cx="149.2" cy="110.8"/><circle cx="149.2" cy="114.3"/><circle cx="149.2" cy="117.9"/><circle cx="149.2" cy="121.4"/><circle cx="149.2" cy="124.9"/><circle cx="149.2" cy="128.5"/><circle cx="149.2" cy="132.0"/><circle cx="149.2" cy="142.6"/><circle cx="149.2" cy="146.2"/><circle cx="149.2" cy="149.7"/><circle cx="149.2" cy="153.3"/><circle cx="149.2" cy="156.8"/><circle cx="149.2" cy="160.3"/><circle cx="149.2" cy="163.9"/><circle cx="149.2" cy="167.4"/><circle cx="149.2" cy="171.0"/><circle cx="149.2" cy="174.5"/><circle cx="149.2" cy="178.0"/><circle cx="149.2" cy="181.6"/><circle cx="149.2" cy="185.1"/><circle cx="149.2" cy="195.7"/><circle cx="149.2" cy="199.3"/><circle cx="149.2" cy="202.8"/><circle cx="149.2" cy="206.4"/><circle cx="152.2" cy="112.5"/><circle cx="152.2" cy="116.1"/><circle cx="152.2" cy="119.6"/><circle cx="152.2" cy="130.3"/><circle cx="152.2" cy="133.8"/><circle cx="152.2" cy="144.4"/><circle cx="152.2" cy="148.0"/><circle cx="152.2" cy="151.5"/><circle cx="152.2" cy="155.0"/><circle cx="152.2" cy="158.6"/><circle cx="152.2" cy="162.1"/><circle cx="152.2" cy="165.7"/><circle cx="152.2" cy="169.2"/><circle cx="152.2" cy="172.7"/><circle cx="152.2" cy="176.3"/><circle cx="152.2" cy="179.8"/><circle cx="152.2" cy="190.4"/><circle cx="152.2" cy="194.0"/><circle cx="152.2" cy="197.5"/><circle cx="152.2" cy="208.1"/><circle cx="155.3" cy="114.3"/><circle cx="155.3" cy="117.9"/><circle cx="155.3" cy="132.0"/><circle cx="155.3" cy="135.6"/><circle cx="155.3" cy="139.1"/><circle cx="155.3" cy="142.6"/><circle cx="155.3" cy="163.9"/><circle cx="155.3" cy="167.4"/><circle cx="155.3" cy="171.0"/><circle cx="155.3" cy="174.5"/><circle cx="155.3" cy="178.0"/><circle cx="155.3" cy="188.7"/><circle cx="155.3" cy="209.9"/><circle cx="155.3" cy="213.4"/><circle cx="158.3" cy="91.3"/><circle cx="158.3" cy="94.9"/><circle cx="158.3" cy="98.4"/><circle cx="158.3" cy="101.9"/><circle cx="158.3" cy="105.5"/><circle cx="158.3" cy="109.0"/><circle cx="158.3" cy="112.5"/><circle cx="158.3" cy="116.1"/><circle cx="158.3" cy="119.6"/><circle cx="158.3" cy="123.2"/><circle cx="158.3" cy="126.7"/><circle cx="158.3" cy="130.3"/><circle cx="158.3" cy="133.8"/><circle cx="158.3" cy="137.3"/><circle cx="158.3" cy="140.9"/><circle cx="158.3" cy="144.4"/><circle cx="158.3" cy="148.0"/><circle cx="158.3" cy="151.5"/><circle cx="158.3" cy="165.7"/><circle cx="158.3" cy="169.2"/><circle cx="158.3" cy="172.7"/><circle cx="158.3" cy="176.3"/><circle cx="158.3" cy="183.4"/><circle cx="158.3" cy="186.9"/><circle cx="158.3" cy="215.2"/><circle cx="161.4" cy="93.1"/><circle cx="161.4" cy="103.7"/><circle cx="161.4" cy="114.3"/><circle cx="161.4" cy="117.9"/><circle cx="161.4" cy="121.4"/><circle cx="161.4" cy="124.9"/><circle cx="161.4" cy="128.5"/><circle cx="161.4" cy="135.6"/><circle cx="161.4" cy="139.1"/><circle cx="161.4" cy="142.6"/><circle cx="161.4" cy="146.2"/><circle cx="161.4" cy="149.7"/><circle cx="161.4" cy="153.3"/><circle cx="161.4" cy="156.8"/><circle cx="161.4" cy="160.3"/><circle cx="161.4" cy="163.9"/><circle cx="161.4" cy="167.4"/><circle cx="161.4" cy="171.0"/><circle cx="161.4" cy="174.5"/><circle cx="161.4" cy="181.6"/><circle cx="161.4" cy="185.1"/><circle cx="161.4" cy="217.0"/><circle cx="164.5" cy="116.1"/><circle cx="164.5" cy="119.6"/><circle cx="164.5" cy="123.2"/><circle cx="164.5" cy="126.7"/><circle cx="164.5" cy="130.3"/><circle cx="164.5" cy="137.3"/><circle cx="164.5" cy="140.9"/><circle cx="164.5" cy="148.0"/><circle cx="164.5" cy="151.5"/><circle cx="164.5" cy="155.0"/><circle cx="164.5" cy="158.6"/><circle cx="164.5" cy="162.1"/><circle cx="164.5" cy="165.7"/><circle cx="164.5" cy="169.2"/><circle cx="164.5" cy="172.7"/><circle cx="164.5" cy="179.8"/><circle cx="164.5" cy="183.4"/><circle cx="164.5" cy="222.3"/><circle cx="164.5" cy="225.8"/><circle cx="167.5" cy="114.3"/><circle cx="167.5" cy="117.9"/><circle cx="167.5" cy="121.4"/><circle cx="167.5" cy="128.5"/><circle cx="167.5" cy="132.0"/><circle cx="167.5" cy="135.6"/><circle cx="167.5" cy="142.6"/><circle cx="167.5" cy="146.2"/><circle cx="167.5" cy="153.3"/><circle cx="167.5" cy="156.8"/><circle cx="167.5" cy="160.3"/><circle cx="167.5" cy="163.9"/><circle cx="167.5" cy="167.4"/><circle cx="167.5" cy="171.0"/><circle cx="167.5" cy="174.5"/><circle cx="167.5" cy="178.0"/><circle cx="167.5" cy="181.6"/><circle cx="167.5" cy="227.6"/><circle cx="167.5" cy="231.1"/><circle cx="170.6" cy="112.5"/><circle cx="170.6" cy="116.1"/><circle cx="170.6" cy="119.6"/><circle cx="170.6" cy="123.2"/><circle cx="170.6" cy="130.3"/><circle cx="170.6" cy="133.8"/><circle cx="170.6" cy="137.3"/><circle cx="170.6" cy="140.9"/><circle cx="170.6" cy="151.5"/><circle cx="170.6" cy="155.0"/><circle cx="170.6" cy="158.6"/><circle cx="170.6" cy="162.1"/><circle cx="170.6" cy="165.7"/><circle cx="170.6" cy="169.2"/><circle cx="170.6" cy="172.7"/><circle cx="170.6" cy="176.3"/><circle cx="170.6" cy="179.8"/><circle cx="170.6" cy="229.4"/><circle cx="170.6" cy="232.9"/><circle cx="173.7" cy="117.9"/><circle cx="173.7" cy="121.4"/><circle cx="173.7" cy="124.9"/><circle cx="173.7" cy="128.5"/><circle cx="173.7" cy="142.6"/><circle cx="173.7" cy="146.2"/><circle cx="173.7" cy="149.7"/><circle cx="173.7" cy="153.3"/><circle cx="173.7" cy="156.8"/><circle cx="173.7" cy="160.3"/><circle cx="173.7" cy="163.9"/><circle cx="173.7" cy="167.4"/><circle cx="173.7" cy="174.5"/><circle cx="173.7" cy="234.7"/><circle cx="173.7" cy="238.2"/><circle cx="176.7" cy="119.6"/><circle cx="176.7" cy="123.2"/><circle cx="176.7" cy="126.7"/><circle cx="176.7" cy="130.3"/><circle cx="176.7" cy="133.8"/><circle cx="176.7" cy="137.3"/><circle cx="176.7" cy="140.9"/><circle cx="176.7" cy="144.4"/><circle cx="176.7" cy="148.0"/><circle cx="176.7" cy="151.5"/><circle cx="176.7" cy="155.0"/><circle cx="176.7" cy="158.6"/><circle cx="176.7" cy="162.1"/><circle cx="176.7" cy="172.7"/><circle cx="176.7" cy="240.0"/><circle cx="179.8" cy="121.4"/><circle cx="179.8" cy="124.9"/><circle cx="179.8" cy="128.5"/><circle cx="179.8" cy="132.0"/><circle cx="179.8" cy="135.6"/><circle cx="179.8" cy="139.1"/><circle cx="179.8" cy="142.6"/><circle cx="179.8" cy="146.2"/><circle cx="179.8" cy="149.7"/><circle cx="179.8" cy="153.3"/><circle cx="179.8" cy="156.8"/><circle cx="179.8" cy="160.3"/><circle cx="179.8" cy="174.5"/><circle cx="179.8" cy="241.8"/><circle cx="179.8" cy="245.3"/><circle cx="182.9" cy="126.7"/><circle cx="182.9" cy="130.3"/><circle cx="182.9" cy="133.8"/><circle cx="182.9" cy="137.3"/><circle cx="182.9" cy="140.9"/><circle cx="182.9" cy="144.4"/><circle cx="182.9" cy="148.0"/><circle cx="182.9" cy="151.5"/><circle cx="182.9" cy="155.0"/><circle cx="182.9" cy="172.7"/><circle cx="185.9" cy="167.4"/><circle cx="185.9" cy="171.0"/><circle cx="189.0" cy="165.7"/><circle cx="189.0" cy="169.2"/><circle cx="189.0" cy="172.7"/><circle cx="189.0" cy="176.3"/><circle cx="192.1" cy="167.4"/><circle cx="192.1" cy="171.0"/><circle cx="192.1" cy="174.5"/><circle cx="195.1" cy="172.7"/><circle cx="198.2" cy="171.0"/><circle cx="201.3" cy="172.7"/><circle cx="204.3" cy="174.5"/><circle cx="207.4" cy="172.7"/><circle cx="210.4" cy="171.0"/><circle cx="210.4" cy="174.5"/><circle cx="213.5" cy="172.7"/><circle cx="216.6" cy="171.0"/><circle cx="216.6" cy="174.5"/><circle cx="219.6" cy="169.2"/><circle cx="219.6" cy="172.7"/><circle cx="222.7" cy="167.4"/><circle cx="222.7" cy="171.0"/><circle cx="222.7" cy="174.5"/><circle cx="222.7" cy="178.0"/><circle cx="225.8" cy="165.7"/><circle cx="225.8" cy="169.2"/><circle cx="225.8" cy="176.3"/><circle cx="225.8" cy="179.8"/><circle cx="228.8" cy="163.9"/><circle cx="228.8" cy="167.4"/><circle cx="228.8" cy="181.6"/><circle cx="228.8" cy="185.1"/><circle cx="231.9" cy="162.1"/><circle cx="231.9" cy="165.7"/><circle cx="231.9" cy="183.4"/><circle cx="231.9" cy="186.9"/><circle cx="235.0" cy="160.3"/><circle cx="235.0" cy="163.9"/><circle cx="235.0" cy="188.7"/><circle cx="238.0" cy="158.6"/><circle cx="238.0" cy="162.1"/><circle cx="238.0" cy="190.4"/><circle cx="238.0" cy="194.0"/><circle cx="241.1" cy="156.8"/><circle cx="241.1" cy="160.3"/><circle cx="241.1" cy="192.2"/><circle cx="241.1" cy="195.7"/><circle cx="244.2" cy="155.0"/><circle cx="244.2" cy="158.6"/><circle cx="244.2" cy="194.0"/><circle cx="244.2" cy="197.5"/><circle cx="247.2" cy="153.3"/><circle cx="247.2" cy="156.8"/><circle cx="250.3" cy="151.5"/><circle cx="250.3" cy="155.0"/><circle cx="253.4" cy="149.7"/><circle cx="256.4" cy="148.0"/><circle cx="259.5" cy="142.6"/><circle cx="259.5" cy="146.2"/><circle cx="262.6" cy="140.9"/><circle cx="265.6" cy="135.6"/><circle cx="265.6" cy="139.1"/><circle cx="268.7" cy="133.8"/><circle cx="271.8" cy="132.0"/><circle cx="274.8" cy="133.8"/><circle cx="277.9" cy="132.0"/><circle cx="277.9" cy="135.6"/>
</g><use href="#ol"/>
<g stroke="#2a0808" stroke-width="0.5">
<circle cx="106.2" cy="103.7" r="1.75" fill="#ee2c16"/>
<circle cx="143.0" cy="171.0" r="1.75" fill="#ee2c16"/>
</g></g>
<g transform="translate(232.4,267.3)"><g class="hx">
<circle cx="97.0" cy="84.2"/><circle cx="97.0" cy="87.8"/><circle cx="100.1" cy="86.0"/><circle cx="103.2" cy="87.8"/><circle cx="106.2" cy="89.5"/><circle cx="106.2" cy="103.7"/><circle cx="106.2" cy="107.2"/><circle cx="109.3" cy="91.3"/><circle cx="109.3" cy="94.9"/><circle cx="109.3" cy="98.4"/><circle cx="109.3" cy="101.9"/><circle cx="109.3" cy="105.5"/><circle cx="112.4" cy="89.5"/><circle cx="112.4" cy="93.1"/><circle cx="112.4" cy="96.6"/><circle cx="112.4" cy="100.2"/><circle cx="112.4" cy="103.7"/><circle cx="112.4" cy="107.2"/><circle cx="112.4" cy="110.8"/><circle cx="112.4" cy="114.3"/><circle cx="115.4" cy="87.8"/><circle cx="115.4" cy="91.3"/><circle cx="115.4" cy="94.9"/><circle cx="115.4" cy="98.4"/><circle cx="115.4" cy="101.9"/><circle cx="115.4" cy="109.0"/><circle cx="115.4" cy="112.5"/><circle cx="115.4" cy="116.1"/><circle cx="115.4" cy="176.3"/><circle cx="115.4" cy="179.8"/><circle cx="115.4" cy="183.4"/><circle cx="118.5" cy="82.5"/><circle cx="118.5" cy="89.5"/><circle cx="118.5" cy="93.1"/><circle cx="118.5" cy="96.6"/><circle cx="118.5" cy="100.2"/><circle cx="118.5" cy="103.7"/><circle cx="118.5" cy="110.8"/><circle cx="118.5" cy="121.4"/><circle cx="118.5" cy="171.0"/><circle cx="118.5" cy="174.5"/><circle cx="118.5" cy="178.0"/><circle cx="118.5" cy="181.6"/><circle cx="118.5" cy="185.1"/><circle cx="118.5" cy="188.7"/><circle cx="118.5" cy="192.2"/><circle cx="118.5" cy="195.7"/><circle cx="121.6" cy="77.2"/><circle cx="121.6" cy="80.7"/><circle cx="121.6" cy="84.2"/><circle cx="121.6" cy="87.8"/><circle cx="121.6" cy="91.3"/><circle cx="121.6" cy="94.9"/><circle cx="121.6" cy="98.4"/><circle cx="121.6" cy="101.9"/><circle cx="121.6" cy="105.5"/><circle cx="121.6" cy="109.0"/><circle cx="121.6" cy="119.6"/><circle cx="121.6" cy="123.2"/><circle cx="121.6" cy="169.2"/><circle cx="121.6" cy="176.3"/><circle cx="121.6" cy="179.8"/><circle cx="121.6" cy="183.4"/><circle cx="121.6" cy="186.9"/><circle cx="121.6" cy="190.4"/><circle cx="121.6" cy="194.0"/><circle cx="121.6" cy="197.5"/><circle cx="121.6" cy="201.1"/><circle cx="124.6" cy="86.0"/><circle cx="124.6" cy="89.5"/><circle cx="124.6" cy="103.7"/><circle cx="124.6" cy="107.2"/><circle cx="124.6" cy="110.8"/><circle cx="124.6" cy="114.3"/><circle cx="124.6" cy="117.9"/><circle cx="124.6" cy="124.9"/><circle cx="124.6" cy="167.4"/><circle cx="124.6" cy="171.0"/><circle cx="124.6" cy="174.5"/><circle cx="124.6" cy="178.0"/><circle cx="124.6" cy="181.6"/><circle cx="124.6" cy="185.1"/><circle cx="124.6" cy="188.7"/><circle cx="124.6" cy="192.2"/><circle cx="124.6" cy="195.7"/><circle cx="124.6" cy="199.3"/><circle cx="124.6" cy="202.8"/><circle cx="124.6" cy="206.4"/><circle cx="127.7" cy="105.5"/><circle cx="127.7" cy="109.0"/><circle cx="127.7" cy="112.5"/><circle cx="127.7" cy="116.1"/><circle cx="127.7" cy="119.6"/><circle cx="127.7" cy="123.2"/><circle cx="127.7" cy="126.7"/><circle cx="127.7" cy="172.7"/><circle cx="127.7" cy="176.3"/><circle cx="127.7" cy="179.8"/><circle cx="127.7" cy="183.4"/><circle cx="127.7" cy="186.9"/><circle cx="127.7" cy="190.4"/><circle cx="127.7" cy="194.0"/><circle cx="127.7" cy="197.5"/><circle cx="127.7" cy="201.1"/><circle cx="127.7" cy="204.6"/><circle cx="130.8" cy="103.7"/><circle cx="130.8" cy="107.2"/><circle cx="130.8" cy="110.8"/><circle cx="130.8" cy="114.3"/><circle cx="130.8" cy="117.9"/><circle cx="130.8" cy="124.9"/><circle cx="130.8" cy="128.5"/><circle cx="130.8" cy="132.0"/><circle cx="130.8" cy="135.6"/><circle cx="130.8" cy="139.1"/><circle cx="130.8" cy="142.6"/><circle cx="130.8" cy="146.2"/><circle cx="130.8" cy="149.7"/><circle cx="130.8" cy="153.3"/><circle cx="130.8" cy="156.8"/><circle cx="130.8" cy="160.3"/><circle cx="130.8" cy="163.9"/><circle cx="130.8" cy="167.4"/><circle cx="130.8" cy="171.0"/><circle cx="130.8" cy="174.5"/><circle cx="130.8" cy="178.0"/><circle cx="130.8" cy="181.6"/><circle cx="130.8" cy="185.1"/><circle cx="130.8" cy="188.7"/><circle cx="130.8" cy="192.2"/><circle cx="130.8" cy="195.7"/><circle cx="130.8" cy="199.3"/><circle cx="130.8" cy="202.8"/><circle cx="133.8" cy="105.5"/><circle cx="133.8" cy="109.0"/><circle cx="133.8" cy="112.5"/><circle cx="133.8" cy="116.1"/><circle cx="133.8" cy="119.6"/><circle cx="133.8" cy="123.2"/><circle cx="133.8" cy="126.7"/><circle cx="133.8" cy="130.3"/><circle cx="133.8" cy="140.9"/><circle cx="133.8" cy="144.4"/><circle cx="133.8" cy="148.0"/><circle cx="133.8" cy="151.5"/><circle cx="133.8" cy="162.1"/><circle cx="133.8" cy="165.7"/><circle cx="133.8" cy="169.2"/><circle cx="133.8" cy="172.7"/><circle cx="133.8" cy="176.3"/><circle cx="133.8" cy="179.8"/><circle cx="133.8" cy="183.4"/><circle cx="133.8" cy="186.9"/><circle cx="133.8" cy="190.4"/><circle cx="133.8" cy="194.0"/><circle cx="133.8" cy="197.5"/><circle cx="133.8" cy="201.1"/><circle cx="136.9" cy="89.5"/><circle cx="136.9" cy="93.1"/><circle cx="136.9" cy="96.6"/><circle cx="136.9" cy="100.2"/><circle cx="136.9" cy="103.7"/><circle cx="136.9" cy="107.2"/><circle cx="136.9" cy="110.8"/><circle cx="136.9" cy="114.3"/><circle cx="136.9" cy="117.9"/><circle cx="136.9" cy="121.4"/><circle cx="136.9" cy="124.9"/><circle cx="136.9" cy="128.5"/><circle cx="136.9" cy="132.0"/><circle cx="136.9" cy="135.6"/><circle cx="136.9" cy="139.1"/><circle cx="136.9" cy="142.6"/><circle cx="136.9" cy="146.2"/><circle cx="136.9" cy="149.7"/><circle cx="136.9" cy="153.3"/><circle cx="136.9" cy="156.8"/><circle cx="136.9" cy="160.3"/><circle cx="136.9" cy="163.9"/><circle cx="136.9" cy="167.4"/><circle cx="136.9" cy="171.0"/><circle cx="136.9" cy="178.0"/><circle cx="136.9" cy="181.6"/><circle cx="136.9" cy="185.1"/><circle cx="136.9" cy="188.7"/><circle cx="136.9" cy="192.2"/><circle cx="136.9" cy="195.7"/><circle cx="136.9" cy="199.3"/><circle cx="136.9" cy="202.8"/><circle cx="140.0" cy="87.8"/><circle cx="140.0" cy="91.3"/><circle cx="140.0" cy="94.9"/><circle cx="140.0" cy="98.4"/><circle cx="140.0" cy="101.9"/><circle cx="140.0" cy="105.5"/><circle cx="140.0" cy="109.0"/><circle cx="140.0" cy="112.5"/><circle cx="140.0" cy="116.1"/><circle cx="140.0" cy="130.3"/><circle cx="140.0" cy="144.4"/><circle cx="140.0" cy="148.0"/><circle cx="140.0" cy="162.1"/><circle cx="140.0" cy="165.7"/><circle cx="140.0" cy="169.2"/><circle cx="140.0" cy="172.7"/><circle cx="140.0" cy="176.3"/><circle cx="140.0" cy="179.8"/><circle cx="140.0" cy="183.4"/><circle cx="140.0" cy="186.9"/><circle cx="140.0" cy="190.4"/><circle cx="140.0" cy="194.0"/><circle cx="140.0" cy="197.5"/><circle cx="143.0" cy="89.5"/><circle cx="143.0" cy="107.2"/><circle cx="143.0" cy="110.8"/><circle cx="143.0" cy="114.3"/><circle cx="143.0" cy="128.5"/><circle cx="143.0" cy="132.0"/><circle cx="143.0" cy="135.6"/><circle cx="143.0" cy="142.6"/><circle cx="143.0" cy="146.2"/><circle cx="143.0" cy="149.7"/><circle cx="143.0" cy="153.3"/><circle cx="143.0" cy="156.8"/><circle cx="143.0" cy="160.3"/><circle cx="143.0" cy="163.9"/><circle cx="143.0" cy="167.4"/><circle cx="143.0" cy="171.0"/><circle cx="143.0" cy="174.5"/><circle cx="143.0" cy="178.0"/><circle cx="143.0" cy="181.6"/><circle cx="143.0" cy="185.1"/><circle cx="143.0" cy="188.7"/><circle cx="143.0" cy="192.2"/><circle cx="146.1" cy="91.3"/><circle cx="146.1" cy="109.0"/><circle cx="146.1" cy="112.5"/><circle cx="146.1" cy="116.1"/><circle cx="146.1" cy="130.3"/><circle cx="146.1" cy="133.8"/><circle cx="146.1" cy="137.3"/><circle cx="146.1" cy="140.9"/><circle cx="146.1" cy="144.4"/><circle cx="146.1" cy="151.5"/><circle cx="146.1" cy="155.0"/><circle cx="146.1" cy="158.6"/><circle cx="146.1" cy="162.1"/><circle cx="146.1" cy="165.7"/><circle cx="146.1" cy="169.2"/><circle cx="146.1" cy="172.7"/><circle cx="146.1" cy="176.3"/><circle cx="146.1" cy="179.8"/><circle cx="146.1" cy="183.4"/><circle cx="146.1" cy="186.9"/><circle cx="149.2" cy="89.5"/><circle cx="149.2" cy="93.1"/><circle cx="149.2" cy="110.8"/><circle cx="149.2" cy="114.3"/><circle cx="149.2" cy="117.9"/><circle cx="149.2" cy="121.4"/><circle cx="149.2" cy="124.9"/><circle cx="149.2" cy="128.5"/><circle cx="149.2" cy="132.0"/><circle cx="149.2" cy="142.6"/><circle cx="149.2" cy="146.2"/><circle cx="149.2" cy="149.7"/><circle cx="149.2" cy="153.3"/><circle cx="149.2" cy="156.8"/><circle cx="149.2" cy="160.3"/><circle cx="149.2" cy="163.9"/><circle cx="149.2" cy="167.4"/><circle cx="149.2" cy="171.0"/><circle cx="149.2" cy="174.5"/><circle cx="149.2" cy="178.0"/><circle cx="149.2" cy="181.6"/><circle cx="149.2" cy="185.1"/><circle cx="149.2" cy="195.7"/><circle cx="149.2" cy="199.3"/><circle cx="149.2" cy="202.8"/><circle cx="149.2" cy="206.4"/><circle cx="152.2" cy="112.5"/><circle cx="152.2" cy="116.1"/><circle cx="152.2" cy="130.3"/><circle cx="152.2" cy="133.8"/><circle cx="152.2" cy="137.3"/><circle cx="152.2" cy="140.9"/><circle cx="152.2" cy="144.4"/><circle cx="152.2" cy="148.0"/><circle cx="152.2" cy="151.5"/><circle cx="152.2" cy="155.0"/><circle cx="152.2" cy="158.6"/><circle cx="152.2" cy="162.1"/><circle cx="152.2" cy="165.7"/><circle cx="152.2" cy="169.2"/><circle cx="152.2" cy="172.7"/><circle cx="152.2" cy="176.3"/><circle cx="152.2" cy="179.8"/><circle cx="152.2" cy="190.4"/><circle cx="152.2" cy="194.0"/><circle cx="152.2" cy="197.5"/><circle cx="152.2" cy="208.1"/><circle cx="155.3" cy="114.3"/><circle cx="155.3" cy="117.9"/><circle cx="155.3" cy="132.0"/><circle cx="155.3" cy="135.6"/><circle cx="155.3" cy="139.1"/><circle cx="155.3" cy="142.6"/><circle cx="155.3" cy="146.2"/><circle cx="155.3" cy="163.9"/><circle cx="155.3" cy="167.4"/><circle cx="155.3" cy="171.0"/><circle cx="155.3" cy="174.5"/><circle cx="155.3" cy="178.0"/><circle cx="155.3" cy="188.7"/><circle cx="155.3" cy="209.9"/><circle cx="155.3" cy="213.4"/><circle cx="158.3" cy="91.3"/><circle cx="158.3" cy="94.9"/><circle cx="158.3" cy="98.4"/><circle cx="158.3" cy="101.9"/><circle cx="158.3" cy="105.5"/><circle cx="158.3" cy="109.0"/><circle cx="158.3" cy="112.5"/><circle cx="158.3" cy="116.1"/><circle cx="158.3" cy="119.6"/><circle cx="158.3" cy="123.2"/><circle cx="158.3" cy="126.7"/><circle cx="158.3" cy="130.3"/><circle cx="158.3" cy="133.8"/><circle cx="158.3" cy="137.3"/><circle cx="158.3" cy="140.9"/><circle cx="158.3" cy="144.4"/><circle cx="158.3" cy="148.0"/><circle cx="158.3" cy="151.5"/><circle cx="158.3" cy="165.7"/><circle cx="158.3" cy="169.2"/><circle cx="158.3" cy="172.7"/><circle cx="158.3" cy="176.3"/><circle cx="158.3" cy="183.4"/><circle cx="158.3" cy="186.9"/><circle cx="158.3" cy="215.2"/><circle cx="161.4" cy="93.1"/><circle cx="161.4" cy="103.7"/><circle cx="161.4" cy="114.3"/><circle cx="161.4" cy="117.9"/><circle cx="161.4" cy="121.4"/><circle cx="161.4" cy="124.9"/><circle cx="161.4" cy="128.5"/><circle cx="161.4" cy="135.6"/><circle cx="161.4" cy="139.1"/><circle cx="161.4" cy="142.6"/><circle cx="161.4" cy="146.2"/><circle cx="161.4" cy="149.7"/><circle cx="161.4" cy="153.3"/><circle cx="161.4" cy="156.8"/><circle cx="161.4" cy="160.3"/><circle cx="161.4" cy="163.9"/><circle cx="161.4" cy="167.4"/><circle cx="161.4" cy="171.0"/><circle cx="161.4" cy="174.5"/><circle cx="161.4" cy="181.6"/><circle cx="161.4" cy="185.1"/><circle cx="161.4" cy="217.0"/><circle cx="164.5" cy="116.1"/><circle cx="164.5" cy="119.6"/><circle cx="164.5" cy="123.2"/><circle cx="164.5" cy="126.7"/><circle cx="164.5" cy="130.3"/><circle cx="164.5" cy="137.3"/><circle cx="164.5" cy="140.9"/><circle cx="164.5" cy="148.0"/><circle cx="164.5" cy="151.5"/><circle cx="164.5" cy="155.0"/><circle cx="164.5" cy="158.6"/><circle cx="164.5" cy="162.1"/><circle cx="164.5" cy="165.7"/><circle cx="164.5" cy="169.2"/><circle cx="164.5" cy="172.7"/><circle cx="164.5" cy="179.8"/><circle cx="164.5" cy="183.4"/><circle cx="164.5" cy="222.3"/><circle cx="164.5" cy="225.8"/><circle cx="167.5" cy="114.3"/><circle cx="167.5" cy="117.9"/><circle cx="167.5" cy="121.4"/><circle cx="167.5" cy="128.5"/><circle cx="167.5" cy="132.0"/><circle cx="167.5" cy="135.6"/><circle cx="167.5" cy="142.6"/><circle cx="167.5" cy="146.2"/><circle cx="167.5" cy="153.3"/><circle cx="167.5" cy="156.8"/><circle cx="167.5" cy="160.3"/><circle cx="167.5" cy="163.9"/><circle cx="167.5" cy="167.4"/><circle cx="167.5" cy="171.0"/><circle cx="167.5" cy="174.5"/><circle cx="167.5" cy="178.0"/><circle cx="167.5" cy="181.6"/><circle cx="167.5" cy="227.6"/><circle cx="167.5" cy="231.1"/><circle cx="170.6" cy="112.5"/><circle cx="170.6" cy="116.1"/><circle cx="170.6" cy="119.6"/><circle cx="170.6" cy="123.2"/><circle cx="170.6" cy="130.3"/><circle cx="170.6" cy="133.8"/><circle cx="170.6" cy="137.3"/><circle cx="170.6" cy="140.9"/><circle cx="170.6" cy="151.5"/><circle cx="170.6" cy="155.0"/><circle cx="170.6" cy="158.6"/><circle cx="170.6" cy="162.1"/><circle cx="170.6" cy="165.7"/><circle cx="170.6" cy="169.2"/><circle cx="170.6" cy="172.7"/><circle cx="170.6" cy="176.3"/><circle cx="170.6" cy="179.8"/><circle cx="170.6" cy="229.4"/><circle cx="170.6" cy="232.9"/><circle cx="173.7" cy="117.9"/><circle cx="173.7" cy="121.4"/><circle cx="173.7" cy="124.9"/><circle cx="173.7" cy="128.5"/><circle cx="173.7" cy="132.0"/><circle cx="173.7" cy="135.6"/><circle cx="173.7" cy="142.6"/><circle cx="173.7" cy="146.2"/><circle cx="173.7" cy="149.7"/><circle cx="173.7" cy="153.3"/><circle cx="173.7" cy="156.8"/><circle cx="173.7" cy="160.3"/><circle cx="173.7" cy="163.9"/><circle cx="173.7" cy="167.4"/><circle cx="173.7" cy="174.5"/><circle cx="173.7" cy="234.7"/><circle cx="173.7" cy="238.2"/><circle cx="176.7" cy="119.6"/><circle cx="176.7" cy="123.2"/><circle cx="176.7" cy="126.7"/><circle cx="176.7" cy="130.3"/><circle cx="176.7" cy="133.8"/><circle cx="176.7" cy="137.3"/><circle cx="176.7" cy="140.9"/><circle cx="176.7" cy="144.4"/><circle cx="176.7" cy="148.0"/><circle cx="176.7" cy="151.5"/><circle cx="176.7" cy="155.0"/><circle cx="176.7" cy="158.6"/><circle cx="176.7" cy="162.1"/><circle cx="176.7" cy="172.7"/><circle cx="176.7" cy="240.0"/><circle cx="179.8" cy="121.4"/><circle cx="179.8" cy="124.9"/><circle cx="179.8" cy="128.5"/><circle cx="179.8" cy="132.0"/><circle cx="179.8" cy="135.6"/><circle cx="179.8" cy="139.1"/><circle cx="179.8" cy="142.6"/><circle cx="179.8" cy="146.2"/><circle cx="179.8" cy="149.7"/><circle cx="179.8" cy="153.3"/><circle cx="179.8" cy="156.8"/><circle cx="179.8" cy="160.3"/><circle cx="179.8" cy="174.5"/><circle cx="179.8" cy="241.8"/><circle cx="179.8" cy="245.3"/><circle cx="182.9" cy="126.7"/><circle cx="182.9" cy="130.3"/><circle cx="182.9" cy="133.8"/><circle cx="182.9" cy="137.3"/><circle cx="182.9" cy="140.9"/><circle cx="182.9" cy="144.4"/><circle cx="182.9" cy="148.0"/><circle cx="182.9" cy="151.5"/><circle cx="182.9" cy="155.0"/><circle cx="182.9" cy="172.7"/><circle cx="185.9" cy="167.4"/><circle cx="185.9" cy="171.0"/><circle cx="189.0" cy="165.7"/><circle cx="189.0" cy="169.2"/><circle cx="189.0" cy="172.7"/><circle cx="189.0" cy="176.3"/><circle cx="192.1" cy="167.4"/><circle cx="192.1" cy="171.0"/><circle cx="192.1" cy="174.5"/><circle cx="195.1" cy="172.7"/><circle cx="198.2" cy="171.0"/><circle cx="201.3" cy="172.7"/><circle cx="204.3" cy="174.5"/><circle cx="207.4" cy="172.7"/><circle cx="210.4" cy="171.0"/><circle cx="210.4" cy="174.5"/><circle cx="213.5" cy="172.7"/><circle cx="216.6" cy="171.0"/><circle cx="216.6" cy="174.5"/><circle cx="219.6" cy="169.2"/><circle cx="219.6" cy="172.7"/><circle cx="222.7" cy="167.4"/><circle cx="222.7" cy="171.0"/><circle cx="222.7" cy="174.5"/><circle cx="222.7" cy="178.0"/><circle cx="225.8" cy="165.7"/><circle cx="225.8" cy="169.2"/><circle cx="225.8" cy="176.3"/><circle cx="225.8" cy="179.8"/><circle cx="228.8" cy="163.9"/><circle cx="228.8" cy="167.4"/><circle cx="228.8" cy="181.6"/><circle cx="228.8" cy="185.1"/><circle cx="231.9" cy="162.1"/><circle cx="231.9" cy="165.7"/><circle cx="231.9" cy="183.4"/><circle cx="231.9" cy="186.9"/><circle cx="235.0" cy="160.3"/><circle cx="235.0" cy="163.9"/><circle cx="235.0" cy="188.7"/><circle cx="238.0" cy="158.6"/><circle cx="238.0" cy="162.1"/><circle cx="238.0" cy="190.4"/><circle cx="238.0" cy="194.0"/><circle cx="241.1" cy="156.8"/><circle cx="241.1" cy="160.3"/><circle cx="241.1" cy="192.2"/><circle cx="241.1" cy="195.7"/><circle cx="244.2" cy="155.0"/><circle cx="244.2" cy="158.6"/><circle cx="244.2" cy="194.0"/><circle cx="244.2" cy="197.5"/><circle cx="247.2" cy="153.3"/><circle cx="247.2" cy="156.8"/><circle cx="250.3" cy="151.5"/><circle cx="250.3" cy="155.0"/><circle cx="253.4" cy="149.7"/><circle cx="256.4" cy="148.0"/><circle cx="259.5" cy="142.6"/><circle cx="259.5" cy="146.2"/><circle cx="262.6" cy="140.9"/><circle cx="265.6" cy="135.6"/><circle cx="265.6" cy="139.1"/><circle cx="268.7" cy="133.8"/><circle cx="271.8" cy="132.0"/><circle cx="274.8" cy="133.8"/><circle cx="277.9" cy="132.0"/><circle cx="277.9" cy="135.6"/>
</g><use href="#ol"/>
<g stroke="#2a0808" stroke-width="0.5">
<circle cx="112.4" cy="89.5" r="1.75" fill="#ee2c16"/>
<circle cx="109.3" cy="101.9" r="1.75" fill="#ee2c16"/>
<circle cx="106.2" cy="103.7" r="1.75" fill="#ee2c16"/>
<circle cx="130.8" cy="100.2" r="1.75" fill="#ee2c16"/>
<circle cx="158.3" cy="94.9" r="1.75" fill="#ee2c16"/>
<circle cx="155.3" cy="117.9" r="1.75" fill="#ee2c16"/>
<circle cx="124.6" cy="121.4" r="1.75" fill="#ee2c16"/>
<circle cx="127.7" cy="126.7" r="1.75" fill="#ee2c16"/>
<circle cx="143.0" cy="171.0" r="1.75" fill="#ee2c16"/>
<circle cx="143.0" cy="174.5" r="1.75" fill="#ee2c16"/>
<circle cx="140.0" cy="183.4" r="1.75" fill="#ee2c16"/>
</g></g>
<g transform="translate(449.9,267.3)"><g class="hx">
<circle cx="97.0" cy="84.2"/><circle cx="97.0" cy="87.8"/><circle cx="100.1" cy="86.0"/><circle cx="103.2" cy="87.8"/><circle cx="106.2" cy="89.5"/><circle cx="106.2" cy="103.7"/><circle cx="106.2" cy="107.2"/><circle cx="109.3" cy="91.3"/><circle cx="109.3" cy="94.9"/><circle cx="109.3" cy="98.4"/><circle cx="109.3" cy="101.9"/><circle cx="109.3" cy="105.5"/><circle cx="112.4" cy="89.5"/><circle cx="112.4" cy="93.1"/><circle cx="112.4" cy="96.6"/><circle cx="112.4" cy="100.2"/><circle cx="112.4" cy="103.7"/><circle cx="112.4" cy="107.2"/><circle cx="112.4" cy="110.8"/><circle cx="112.4" cy="114.3"/><circle cx="115.4" cy="87.8"/><circle cx="115.4" cy="91.3"/><circle cx="115.4" cy="94.9"/><circle cx="115.4" cy="98.4"/><circle cx="115.4" cy="101.9"/><circle cx="115.4" cy="109.0"/><circle cx="115.4" cy="112.5"/><circle cx="115.4" cy="116.1"/><circle cx="115.4" cy="176.3"/><circle cx="115.4" cy="179.8"/><circle cx="115.4" cy="183.4"/><circle cx="118.5" cy="82.5"/><circle cx="118.5" cy="89.5"/><circle cx="118.5" cy="93.1"/><circle cx="118.5" cy="96.6"/><circle cx="118.5" cy="100.2"/><circle cx="118.5" cy="103.7"/><circle cx="118.5" cy="110.8"/><circle cx="118.5" cy="121.4"/><circle cx="118.5" cy="171.0"/><circle cx="118.5" cy="174.5"/><circle cx="118.5" cy="178.0"/><circle cx="118.5" cy="181.6"/><circle cx="118.5" cy="185.1"/><circle cx="118.5" cy="188.7"/><circle cx="118.5" cy="192.2"/><circle cx="118.5" cy="195.7"/><circle cx="121.6" cy="77.2"/><circle cx="121.6" cy="80.7"/><circle cx="121.6" cy="84.2"/><circle cx="121.6" cy="87.8"/><circle cx="121.6" cy="91.3"/><circle cx="121.6" cy="94.9"/><circle cx="121.6" cy="98.4"/><circle cx="121.6" cy="101.9"/><circle cx="121.6" cy="105.5"/><circle cx="121.6" cy="109.0"/><circle cx="121.6" cy="119.6"/><circle cx="121.6" cy="123.2"/><circle cx="121.6" cy="169.2"/><circle cx="121.6" cy="176.3"/><circle cx="121.6" cy="179.8"/><circle cx="121.6" cy="183.4"/><circle cx="121.6" cy="186.9"/><circle cx="121.6" cy="190.4"/><circle cx="121.6" cy="194.0"/><circle cx="121.6" cy="197.5"/><circle cx="121.6" cy="201.1"/><circle cx="124.6" cy="86.0"/><circle cx="124.6" cy="89.5"/><circle cx="124.6" cy="103.7"/><circle cx="124.6" cy="107.2"/><circle cx="124.6" cy="110.8"/><circle cx="124.6" cy="114.3"/><circle cx="124.6" cy="117.9"/><circle cx="124.6" cy="124.9"/><circle cx="124.6" cy="167.4"/><circle cx="124.6" cy="171.0"/><circle cx="124.6" cy="174.5"/><circle cx="124.6" cy="178.0"/><circle cx="124.6" cy="181.6"/><circle cx="124.6" cy="185.1"/><circle cx="124.6" cy="188.7"/><circle cx="124.6" cy="192.2"/><circle cx="124.6" cy="195.7"/><circle cx="124.6" cy="199.3"/><circle cx="124.6" cy="202.8"/><circle cx="124.6" cy="206.4"/><circle cx="127.7" cy="105.5"/><circle cx="127.7" cy="109.0"/><circle cx="127.7" cy="112.5"/><circle cx="127.7" cy="116.1"/><circle cx="127.7" cy="119.6"/><circle cx="127.7" cy="123.2"/><circle cx="127.7" cy="126.7"/><circle cx="127.7" cy="172.7"/><circle cx="127.7" cy="176.3"/><circle cx="127.7" cy="179.8"/><circle cx="127.7" cy="183.4"/><circle cx="127.7" cy="186.9"/><circle cx="127.7" cy="190.4"/><circle cx="127.7" cy="194.0"/><circle cx="127.7" cy="197.5"/><circle cx="127.7" cy="201.1"/><circle cx="127.7" cy="204.6"/><circle cx="130.8" cy="103.7"/><circle cx="130.8" cy="107.2"/><circle cx="130.8" cy="110.8"/><circle cx="130.8" cy="114.3"/><circle cx="130.8" cy="117.9"/><circle cx="130.8" cy="124.9"/><circle cx="130.8" cy="128.5"/><circle cx="130.8" cy="132.0"/><circle cx="130.8" cy="135.6"/><circle cx="130.8" cy="139.1"/><circle cx="130.8" cy="142.6"/><circle cx="130.8" cy="146.2"/><circle cx="130.8" cy="149.7"/><circle cx="130.8" cy="153.3"/><circle cx="130.8" cy="156.8"/><circle cx="130.8" cy="160.3"/><circle cx="130.8" cy="163.9"/><circle cx="130.8" cy="167.4"/><circle cx="130.8" cy="171.0"/><circle cx="130.8" cy="174.5"/><circle cx="130.8" cy="178.0"/><circle cx="130.8" cy="181.6"/><circle cx="130.8" cy="185.1"/><circle cx="130.8" cy="188.7"/><circle cx="130.8" cy="192.2"/><circle cx="130.8" cy="195.7"/><circle cx="130.8" cy="199.3"/><circle cx="130.8" cy="202.8"/><circle cx="133.8" cy="105.5"/><circle cx="133.8" cy="109.0"/><circle cx="133.8" cy="112.5"/><circle cx="133.8" cy="116.1"/><circle cx="133.8" cy="119.6"/><circle cx="133.8" cy="123.2"/><circle cx="133.8" cy="126.7"/><circle cx="133.8" cy="130.3"/><circle cx="133.8" cy="140.9"/><circle cx="133.8" cy="144.4"/><circle cx="133.8" cy="148.0"/><circle cx="133.8" cy="151.5"/><circle cx="133.8" cy="162.1"/><circle cx="133.8" cy="165.7"/><circle cx="133.8" cy="169.2"/><circle cx="133.8" cy="172.7"/><circle cx="133.8" cy="176.3"/><circle cx="133.8" cy="179.8"/><circle cx="133.8" cy="183.4"/><circle cx="133.8" cy="186.9"/><circle cx="133.8" cy="190.4"/><circle cx="133.8" cy="194.0"/><circle cx="133.8" cy="197.5"/><circle cx="133.8" cy="201.1"/><circle cx="136.9" cy="89.5"/><circle cx="136.9" cy="93.1"/><circle cx="136.9" cy="96.6"/><circle cx="136.9" cy="100.2"/><circle cx="136.9" cy="103.7"/><circle cx="136.9" cy="107.2"/><circle cx="136.9" cy="110.8"/><circle cx="136.9" cy="114.3"/><circle cx="136.9" cy="117.9"/><circle cx="136.9" cy="121.4"/><circle cx="136.9" cy="124.9"/><circle cx="136.9" cy="128.5"/><circle cx="136.9" cy="132.0"/><circle cx="136.9" cy="135.6"/><circle cx="136.9" cy="139.1"/><circle cx="136.9" cy="142.6"/><circle cx="136.9" cy="146.2"/><circle cx="136.9" cy="149.7"/><circle cx="136.9" cy="153.3"/><circle cx="136.9" cy="156.8"/><circle cx="136.9" cy="160.3"/><circle cx="136.9" cy="163.9"/><circle cx="136.9" cy="167.4"/><circle cx="136.9" cy="171.0"/><circle cx="136.9" cy="178.0"/><circle cx="136.9" cy="181.6"/><circle cx="136.9" cy="185.1"/><circle cx="136.9" cy="188.7"/><circle cx="136.9" cy="192.2"/><circle cx="136.9" cy="195.7"/><circle cx="136.9" cy="199.3"/><circle cx="136.9" cy="202.8"/><circle cx="140.0" cy="87.8"/><circle cx="140.0" cy="91.3"/><circle cx="140.0" cy="94.9"/><circle cx="140.0" cy="98.4"/><circle cx="140.0" cy="101.9"/><circle cx="140.0" cy="105.5"/><circle cx="140.0" cy="109.0"/><circle cx="140.0" cy="112.5"/><circle cx="140.0" cy="116.1"/><circle cx="140.0" cy="130.3"/><circle cx="140.0" cy="144.4"/><circle cx="140.0" cy="148.0"/><circle cx="140.0" cy="162.1"/><circle cx="140.0" cy="165.7"/><circle cx="140.0" cy="169.2"/><circle cx="140.0" cy="172.7"/><circle cx="140.0" cy="176.3"/><circle cx="140.0" cy="179.8"/><circle cx="140.0" cy="183.4"/><circle cx="140.0" cy="186.9"/><circle cx="140.0" cy="190.4"/><circle cx="140.0" cy="194.0"/><circle cx="140.0" cy="197.5"/><circle cx="143.0" cy="89.5"/><circle cx="143.0" cy="107.2"/><circle cx="143.0" cy="110.8"/><circle cx="143.0" cy="114.3"/><circle cx="143.0" cy="128.5"/><circle cx="143.0" cy="132.0"/><circle cx="143.0" cy="135.6"/><circle cx="143.0" cy="142.6"/><circle cx="143.0" cy="146.2"/><circle cx="143.0" cy="149.7"/><circle cx="143.0" cy="153.3"/><circle cx="143.0" cy="156.8"/><circle cx="143.0" cy="160.3"/><circle cx="143.0" cy="163.9"/><circle cx="143.0" cy="167.4"/><circle cx="143.0" cy="171.0"/><circle cx="143.0" cy="174.5"/><circle cx="143.0" cy="178.0"/><circle cx="143.0" cy="181.6"/><circle cx="143.0" cy="185.1"/><circle cx="143.0" cy="188.7"/><circle cx="143.0" cy="192.2"/><circle cx="146.1" cy="91.3"/><circle cx="146.1" cy="109.0"/><circle cx="146.1" cy="112.5"/><circle cx="146.1" cy="116.1"/><circle cx="146.1" cy="130.3"/><circle cx="146.1" cy="133.8"/><circle cx="146.1" cy="137.3"/><circle cx="146.1" cy="140.9"/><circle cx="146.1" cy="144.4"/><circle cx="146.1" cy="151.5"/><circle cx="146.1" cy="155.0"/><circle cx="146.1" cy="158.6"/><circle cx="146.1" cy="162.1"/><circle cx="146.1" cy="165.7"/><circle cx="146.1" cy="169.2"/><circle cx="146.1" cy="172.7"/><circle cx="146.1" cy="176.3"/><circle cx="146.1" cy="179.8"/><circle cx="146.1" cy="183.4"/><circle cx="146.1" cy="186.9"/><circle cx="149.2" cy="89.5"/><circle cx="149.2" cy="93.1"/><circle cx="149.2" cy="110.8"/><circle cx="149.2" cy="114.3"/><circle cx="149.2" cy="117.9"/><circle cx="149.2" cy="121.4"/><circle cx="149.2" cy="124.9"/><circle cx="149.2" cy="128.5"/><circle cx="149.2" cy="132.0"/><circle cx="149.2" cy="142.6"/><circle cx="149.2" cy="146.2"/><circle cx="149.2" cy="149.7"/><circle cx="149.2" cy="153.3"/><circle cx="149.2" cy="156.8"/><circle cx="149.2" cy="160.3"/><circle cx="149.2" cy="163.9"/><circle cx="149.2" cy="167.4"/><circle cx="149.2" cy="171.0"/><circle cx="149.2" cy="174.5"/><circle cx="149.2" cy="178.0"/><circle cx="149.2" cy="181.6"/><circle cx="149.2" cy="185.1"/><circle cx="149.2" cy="195.7"/><circle cx="149.2" cy="199.3"/><circle cx="149.2" cy="202.8"/><circle cx="149.2" cy="206.4"/><circle cx="152.2" cy="112.5"/><circle cx="152.2" cy="116.1"/><circle cx="152.2" cy="130.3"/><circle cx="152.2" cy="133.8"/><circle cx="152.2" cy="137.3"/><circle cx="152.2" cy="140.9"/><circle cx="152.2" cy="144.4"/><circle cx="152.2" cy="148.0"/><circle cx="152.2" cy="151.5"/><circle cx="152.2" cy="155.0"/><circle cx="152.2" cy="158.6"/><circle cx="152.2" cy="162.1"/><circle cx="152.2" cy="165.7"/><circle cx="152.2" cy="169.2"/><circle cx="152.2" cy="172.7"/><circle cx="152.2" cy="176.3"/><circle cx="152.2" cy="179.8"/><circle cx="152.2" cy="190.4"/><circle cx="152.2" cy="194.0"/><circle cx="152.2" cy="197.5"/><circle cx="152.2" cy="208.1"/><circle cx="155.3" cy="114.3"/><circle cx="155.3" cy="117.9"/><circle cx="155.3" cy="132.0"/><circle cx="155.3" cy="135.6"/><circle cx="155.3" cy="139.1"/><circle cx="155.3" cy="142.6"/><circle cx="155.3" cy="146.2"/><circle cx="155.3" cy="163.9"/><circle cx="155.3" cy="167.4"/><circle cx="155.3" cy="171.0"/><circle cx="155.3" cy="174.5"/><circle cx="155.3" cy="178.0"/><circle cx="155.3" cy="188.7"/><circle cx="155.3" cy="209.9"/><circle cx="155.3" cy="213.4"/><circle cx="158.3" cy="91.3"/><circle cx="158.3" cy="94.9"/><circle cx="158.3" cy="98.4"/><circle cx="158.3" cy="101.9"/><circle cx="158.3" cy="105.5"/><circle cx="158.3" cy="109.0"/><circle cx="158.3" cy="112.5"/><circle cx="158.3" cy="116.1"/><circle cx="158.3" cy="119.6"/><circle cx="158.3" cy="123.2"/><circle cx="158.3" cy="126.7"/><circle cx="158.3" cy="130.3"/><circle cx="158.3" cy="133.8"/><circle cx="158.3" cy="137.3"/><circle cx="158.3" cy="140.9"/><circle cx="158.3" cy="144.4"/><circle cx="158.3" cy="148.0"/><circle cx="158.3" cy="151.5"/><circle cx="158.3" cy="165.7"/><circle cx="158.3" cy="169.2"/><circle cx="158.3" cy="172.7"/><circle cx="158.3" cy="176.3"/><circle cx="158.3" cy="183.4"/><circle cx="158.3" cy="186.9"/><circle cx="158.3" cy="215.2"/><circle cx="161.4" cy="93.1"/><circle cx="161.4" cy="103.7"/><circle cx="161.4" cy="114.3"/><circle cx="161.4" cy="117.9"/><circle cx="161.4" cy="121.4"/><circle cx="161.4" cy="124.9"/><circle cx="161.4" cy="128.5"/><circle cx="161.4" cy="135.6"/><circle cx="161.4" cy="139.1"/><circle cx="161.4" cy="142.6"/><circle cx="161.4" cy="146.2"/><circle cx="161.4" cy="149.7"/><circle cx="161.4" cy="153.3"/><circle cx="161.4" cy="156.8"/><circle cx="161.4" cy="160.3"/><circle cx="161.4" cy="163.9"/><circle cx="161.4" cy="167.4"/><circle cx="161.4" cy="171.0"/><circle cx="161.4" cy="174.5"/><circle cx="161.4" cy="181.6"/><circle cx="161.4" cy="185.1"/><circle cx="161.4" cy="217.0"/><circle cx="164.5" cy="116.1"/><circle cx="164.5" cy="119.6"/><circle cx="164.5" cy="123.2"/><circle cx="164.5" cy="126.7"/><circle cx="164.5" cy="130.3"/><circle cx="164.5" cy="137.3"/><circle cx="164.5" cy="140.9"/><circle cx="164.5" cy="148.0"/><circle cx="164.5" cy="151.5"/><circle cx="164.5" cy="155.0"/><circle cx="164.5" cy="158.6"/><circle cx="164.5" cy="162.1"/><circle cx="164.5" cy="165.7"/><circle cx="164.5" cy="169.2"/><circle cx="164.5" cy="172.7"/><circle cx="164.5" cy="179.8"/><circle cx="164.5" cy="183.4"/><circle cx="164.5" cy="222.3"/><circle cx="164.5" cy="225.8"/><circle cx="167.5" cy="114.3"/><circle cx="167.5" cy="117.9"/><circle cx="167.5" cy="121.4"/><circle cx="167.5" cy="128.5"/><circle cx="167.5" cy="132.0"/><circle cx="167.5" cy="135.6"/><circle cx="167.5" cy="142.6"/><circle cx="167.5" cy="146.2"/><circle cx="167.5" cy="153.3"/><circle cx="167.5" cy="156.8"/><circle cx="167.5" cy="160.3"/><circle cx="167.5" cy="163.9"/><circle cx="167.5" cy="167.4"/><circle cx="167.5" cy="171.0"/><circle cx="167.5" cy="174.5"/><circle cx="167.5" cy="178.0"/><circle cx="167.5" cy="181.6"/><circle cx="167.5" cy="227.6"/><circle cx="167.5" cy="231.1"/><circle cx="170.6" cy="112.5"/><circle cx="170.6" cy="116.1"/><circle cx="170.6" cy="119.6"/><circle cx="170.6" cy="123.2"/><circle cx="170.6" cy="130.3"/><circle cx="170.6" cy="133.8"/><circle cx="170.6" cy="137.3"/><circle cx="170.6" cy="140.9"/><circle cx="170.6" cy="151.5"/><circle cx="170.6" cy="155.0"/><circle cx="170.6" cy="158.6"/><circle cx="170.6" cy="162.1"/><circle cx="170.6" cy="165.7"/><circle cx="170.6" cy="169.2"/><circle cx="170.6" cy="172.7"/><circle cx="170.6" cy="176.3"/><circle cx="170.6" cy="179.8"/><circle cx="170.6" cy="229.4"/><circle cx="170.6" cy="232.9"/><circle cx="173.7" cy="117.9"/><circle cx="173.7" cy="121.4"/><circle cx="173.7" cy="124.9"/><circle cx="173.7" cy="128.5"/><circle cx="173.7" cy="132.0"/><circle cx="173.7" cy="135.6"/><circle cx="173.7" cy="142.6"/><circle cx="173.7" cy="146.2"/><circle cx="173.7" cy="149.7"/><circle cx="173.7" cy="153.3"/><circle cx="173.7" cy="156.8"/><circle cx="173.7" cy="160.3"/><circle cx="173.7" cy="163.9"/><circle cx="173.7" cy="167.4"/><circle cx="173.7" cy="174.5"/><circle cx="173.7" cy="234.7"/><circle cx="173.7" cy="238.2"/><circle cx="176.7" cy="119.6"/><circle cx="176.7" cy="123.2"/><circle cx="176.7" cy="126.7"/><circle cx="176.7" cy="130.3"/><circle cx="176.7" cy="133.8"/><circle cx="176.7" cy="137.3"/><circle cx="176.7" cy="140.9"/><circle cx="176.7" cy="144.4"/><circle cx="176.7" cy="148.0"/><circle cx="176.7" cy="151.5"/><circle cx="176.7" cy="155.0"/><circle cx="176.7" cy="158.6"/><circle cx="176.7" cy="162.1"/><circle cx="176.7" cy="172.7"/><circle cx="176.7" cy="240.0"/><circle cx="179.8" cy="121.4"/><circle cx="179.8" cy="124.9"/><circle cx="179.8" cy="128.5"/><circle cx="179.8" cy="132.0"/><circle cx="179.8" cy="135.6"/><circle cx="179.8" cy="139.1"/><circle cx="179.8" cy="142.6"/><circle cx="179.8" cy="146.2"/><circle cx="179.8" cy="149.7"/><circle cx="179.8" cy="153.3"/><circle cx="179.8" cy="156.8"/><circle cx="179.8" cy="160.3"/><circle cx="179.8" cy="174.5"/><circle cx="179.8" cy="241.8"/><circle cx="179.8" cy="245.3"/><circle cx="182.9" cy="126.7"/><circle cx="182.9" cy="130.3"/><circle cx="182.9" cy="133.8"/><circle cx="182.9" cy="137.3"/><circle cx="182.9" cy="140.9"/><circle cx="182.9" cy="144.4"/><circle cx="182.9" cy="148.0"/><circle cx="182.9" cy="151.5"/><circle cx="182.9" cy="155.0"/><circle cx="182.9" cy="172.7"/><circle cx="185.9" cy="167.4"/><circle cx="185.9" cy="171.0"/><circle cx="189.0" cy="165.7"/><circle cx="189.0" cy="169.2"/><circle cx="189.0" cy="172.7"/><circle cx="189.0" cy="176.3"/><circle cx="192.1" cy="167.4"/><circle cx="192.1" cy="171.0"/><circle cx="192.1" cy="174.5"/><circle cx="195.1" cy="172.7"/><circle cx="198.2" cy="171.0"/><circle cx="201.3" cy="172.7"/><circle cx="204.3" cy="174.5"/><circle cx="207.4" cy="172.7"/><circle cx="210.4" cy="171.0"/><circle cx="210.4" cy="174.5"/><circle cx="213.5" cy="172.7"/><circle cx="216.6" cy="171.0"/><circle cx="216.6" cy="174.5"/><circle cx="219.6" cy="169.2"/><circle cx="219.6" cy="172.7"/><circle cx="222.7" cy="167.4"/><circle cx="222.7" cy="171.0"/><circle cx="222.7" cy="174.5"/><circle cx="222.7" cy="178.0"/><circle cx="225.8" cy="165.7"/><circle cx="225.8" cy="169.2"/><circle cx="225.8" cy="176.3"/><circle cx="225.8" cy="179.8"/><circle cx="228.8" cy="163.9"/><circle cx="228.8" cy="167.4"/><circle cx="228.8" cy="181.6"/><circle cx="228.8" cy="185.1"/><circle cx="231.9" cy="162.1"/><circle cx="231.9" cy="165.7"/><circle cx="231.9" cy="183.4"/><circle cx="231.9" cy="186.9"/><circle cx="235.0" cy="160.3"/><circle cx="235.0" cy="163.9"/><circle cx="235.0" cy="188.7"/><circle cx="238.0" cy="158.6"/><circle cx="238.0" cy="162.1"/><circle cx="238.0" cy="190.4"/><circle cx="238.0" cy="194.0"/><circle cx="241.1" cy="156.8"/><circle cx="241.1" cy="160.3"/><circle cx="241.1" cy="192.2"/><circle cx="241.1" cy="195.7"/><circle cx="244.2" cy="155.0"/><circle cx="244.2" cy="158.6"/><circle cx="244.2" cy="194.0"/><circle cx="244.2" cy="197.5"/><circle cx="247.2" cy="153.3"/><circle cx="247.2" cy="156.8"/><circle cx="250.3" cy="151.5"/><circle cx="250.3" cy="155.0"/><circle cx="253.4" cy="149.7"/><circle cx="256.4" cy="148.0"/><circle cx="259.5" cy="142.6"/><circle cx="259.5" cy="146.2"/><circle cx="262.6" cy="140.9"/><circle cx="265.6" cy="135.6"/><circle cx="265.6" cy="139.1"/><circle cx="268.7" cy="133.8"/><circle cx="271.8" cy="132.0"/><circle cx="274.8" cy="133.8"/><circle cx="277.9" cy="132.0"/><circle cx="277.9" cy="135.6"/>
</g><use href="#ol"/>
<g stroke="#2a0808" stroke-width="0.5">
<circle cx="112.4" cy="89.5" r="1.75" fill="#ee2c16"/>
<circle cx="109.3" cy="101.9" r="1.75" fill="#ee2c16"/>
<circle cx="106.2" cy="103.7" r="1.75" fill="#ee2c16"/>
<circle cx="130.8" cy="100.2" r="1.75" fill="#ee2c16"/>
<circle cx="146.1" cy="87.8" r="1.75" fill="#ee2c16"/>
<circle cx="158.3" cy="94.9" r="1.75" fill="#ee2c16"/>
<circle cx="124.6" cy="110.8" r="1.75" fill="#ee2c16"/>
<circle cx="136.9" cy="110.8" r="1.75" fill="#ee2c16"/>
<circle cx="127.7" cy="119.6" r="1.75" fill="#ee2c16"/>
<circle cx="124.6" cy="121.4" r="1.75" fill="#ee2c16"/>
<circle cx="127.7" cy="126.7" r="1.75" fill="#ee2c16"/>
<circle cx="152.2" cy="116.1" r="1.75" fill="#ee2c16"/>
<circle cx="155.3" cy="117.9" r="1.75" fill="#720030"/>
<circle cx="149.2" cy="124.9" r="1.75" fill="#ee2c16"/>
<circle cx="140.0" cy="130.3" r="1.75" fill="#ee2c16"/>
<circle cx="130.8" cy="135.6" r="1.75" fill="#ee2c16"/>
<circle cx="152.2" cy="144.4" r="1.75" fill="#ee2c16"/>
<circle cx="164.5" cy="151.5" r="1.75" fill="#ee2c16"/>
<circle cx="143.0" cy="167.4" r="1.75" fill="#ee2c16"/>
<circle cx="143.0" cy="171.0" r="1.75" fill="#ee2c16"/>
<circle cx="149.2" cy="171.0" r="1.75" fill="#ee2c16"/>
<circle cx="143.0" cy="174.5" r="1.75" fill="#ee2c16"/>
<circle cx="143.0" cy="181.6" r="1.75" fill="#ee2c16"/>
<circle cx="140.0" cy="183.4" r="1.75" fill="#720030"/>
<circle cx="140.0" cy="186.9" r="1.75" fill="#ee2c16"/>
<circle cx="136.9" cy="188.7" r="1.75" fill="#ee2c16"/>
<circle cx="121.6" cy="190.4" r="1.75" fill="#ee2c16"/>
<circle cx="127.7" cy="190.4" r="1.75" fill="#ee2c16"/>
</g></g>
<g transform="translate(0,555.3)"><g class="hx">
<circle cx="97.0" cy="84.2"/><circle cx="97.0" cy="87.8"/><circle cx="100.1" cy="86.0"/><circle cx="103.2" cy="87.8"/><circle cx="106.2" cy="89.5"/><circle cx="106.2" cy="103.7"/><circle cx="106.2" cy="107.2"/><circle cx="109.3" cy="91.3"/><circle cx="109.3" cy="94.9"/><circle cx="109.3" cy="98.4"/><circle cx="109.3" cy="101.9"/><circle cx="109.3" cy="105.5"/><circle cx="112.4" cy="89.5"/><circle cx="112.4" cy="93.1"/><circle cx="112.4" cy="96.6"/><circle cx="112.4" cy="100.2"/><circle cx="112.4" cy="103.7"/><circle cx="112.4" cy="107.2"/><circle cx="112.4" cy="110.8"/><circle cx="112.4" cy="114.3"/><circle cx="115.4" cy="87.8"/><circle cx="115.4" cy="91.3"/><circle cx="115.4" cy="94.9"/><circle cx="115.4" cy="98.4"/><circle cx="115.4" cy="101.9"/><circle cx="115.4" cy="109.0"/><circle cx="115.4" cy="112.5"/><circle cx="115.4" cy="116.1"/><circle cx="118.5" cy="82.5"/><circle cx="118.5" cy="89.5"/><circle cx="118.5" cy="93.1"/><circle cx="118.5" cy="96.6"/><circle cx="118.5" cy="100.2"/><circle cx="118.5" cy="103.7"/><circle cx="118.5" cy="110.8"/><circle cx="118.5" cy="114.3"/><circle cx="118.5" cy="117.9"/><circle cx="118.5" cy="121.4"/><circle cx="118.5" cy="171.0"/><circle cx="118.5" cy="174.5"/><circle cx="118.5" cy="178.0"/><circle cx="118.5" cy="181.6"/><circle cx="118.5" cy="185.1"/><circle cx="118.5" cy="188.7"/><circle cx="118.5" cy="192.2"/><circle cx="118.5" cy="195.7"/><circle cx="121.6" cy="77.2"/><circle cx="121.6" cy="80.7"/><circle cx="121.6" cy="84.2"/><circle cx="121.6" cy="87.8"/><circle cx="121.6" cy="91.3"/><circle cx="121.6" cy="94.9"/><circle cx="121.6" cy="98.4"/><circle cx="121.6" cy="101.9"/><circle cx="121.6" cy="105.5"/><circle cx="121.6" cy="109.0"/><circle cx="121.6" cy="112.5"/><circle cx="121.6" cy="116.1"/><circle cx="121.6" cy="119.6"/><circle cx="121.6" cy="123.2"/><circle cx="121.6" cy="169.2"/><circle cx="121.6" cy="176.3"/><circle cx="121.6" cy="179.8"/><circle cx="121.6" cy="183.4"/><circle cx="121.6" cy="186.9"/><circle cx="121.6" cy="190.4"/><circle cx="121.6" cy="194.0"/><circle cx="121.6" cy="197.5"/><circle cx="121.6" cy="201.1"/><circle cx="124.6" cy="86.0"/><circle cx="124.6" cy="89.5"/><circle cx="124.6" cy="103.7"/><circle cx="124.6" cy="107.2"/><circle cx="124.6" cy="110.8"/><circle cx="124.6" cy="114.3"/><circle cx="124.6" cy="117.9"/><circle cx="124.6" cy="124.9"/><circle cx="124.6" cy="167.4"/><circle cx="124.6" cy="171.0"/><circle cx="124.6" cy="174.5"/><circle cx="124.6" cy="178.0"/><circle cx="124.6" cy="181.6"/><circle cx="124.6" cy="185.1"/><circle cx="124.6" cy="188.7"/><circle cx="124.6" cy="192.2"/><circle cx="124.6" cy="195.7"/><circle cx="124.6" cy="199.3"/><circle cx="124.6" cy="202.8"/><circle cx="124.6" cy="206.4"/><circle cx="127.7" cy="105.5"/><circle cx="127.7" cy="109.0"/><circle cx="127.7" cy="112.5"/><circle cx="127.7" cy="116.1"/><circle cx="127.7" cy="119.6"/><circle cx="127.7" cy="123.2"/><circle cx="127.7" cy="126.7"/><circle cx="127.7" cy="172.7"/><circle cx="127.7" cy="176.3"/><circle cx="127.7" cy="179.8"/><circle cx="127.7" cy="183.4"/><circle cx="127.7" cy="186.9"/><circle cx="127.7" cy="190.4"/><circle cx="127.7" cy="194.0"/><circle cx="127.7" cy="197.5"/><circle cx="127.7" cy="201.1"/><circle cx="127.7" cy="204.6"/><circle cx="130.8" cy="103.7"/><circle cx="130.8" cy="107.2"/><circle cx="130.8" cy="110.8"/><circle cx="130.8" cy="114.3"/><circle cx="130.8" cy="117.9"/><circle cx="130.8" cy="121.4"/><circle cx="130.8" cy="124.9"/><circle cx="130.8" cy="128.5"/><circle cx="130.8" cy="132.0"/><circle cx="130.8" cy="135.6"/><circle cx="130.8" cy="139.1"/><circle cx="130.8" cy="142.6"/><circle cx="130.8" cy="146.2"/><circle cx="130.8" cy="149.7"/><circle cx="130.8" cy="153.3"/><circle cx="130.8" cy="156.8"/><circle cx="130.8" cy="160.3"/><circle cx="130.8" cy="163.9"/><circle cx="130.8" cy="167.4"/><circle cx="130.8" cy="171.0"/><circle cx="130.8" cy="174.5"/><circle cx="130.8" cy="178.0"/><circle cx="130.8" cy="181.6"/><circle cx="130.8" cy="185.1"/><circle cx="130.8" cy="188.7"/><circle cx="130.8" cy="192.2"/><circle cx="130.8" cy="195.7"/><circle cx="130.8" cy="199.3"/><circle cx="130.8" cy="202.8"/><circle cx="133.8" cy="105.5"/><circle cx="133.8" cy="109.0"/><circle cx="133.8" cy="112.5"/><circle cx="133.8" cy="116.1"/><circle cx="133.8" cy="119.6"/><circle cx="133.8" cy="123.2"/><circle cx="133.8" cy="126.7"/><circle cx="133.8" cy="130.3"/><circle cx="133.8" cy="140.9"/><circle cx="133.8" cy="144.4"/><circle cx="133.8" cy="148.0"/><circle cx="133.8" cy="151.5"/><circle cx="133.8" cy="158.6"/><circle cx="133.8" cy="162.1"/><circle cx="133.8" cy="165.7"/><circle cx="133.8" cy="169.2"/><circle cx="133.8" cy="172.7"/><circle cx="133.8" cy="176.3"/><circle cx="133.8" cy="179.8"/><circle cx="133.8" cy="183.4"/><circle cx="133.8" cy="186.9"/><circle cx="133.8" cy="190.4"/><circle cx="133.8" cy="194.0"/><circle cx="133.8" cy="197.5"/><circle cx="133.8" cy="201.1"/><circle cx="136.9" cy="89.5"/><circle cx="136.9" cy="93.1"/><circle cx="136.9" cy="96.6"/><circle cx="136.9" cy="100.2"/><circle cx="136.9" cy="103.7"/><circle cx="136.9" cy="107.2"/><circle cx="136.9" cy="110.8"/><circle cx="136.9" cy="114.3"/><circle cx="136.9" cy="117.9"/><circle cx="136.9" cy="121.4"/><circle cx="136.9" cy="124.9"/><circle cx="136.9" cy="128.5"/><circle cx="136.9" cy="132.0"/><circle cx="136.9" cy="135.6"/><circle cx="136.9" cy="139.1"/><circle cx="136.9" cy="142.6"/><circle cx="136.9" cy="146.2"/><circle cx="136.9" cy="149.7"/><circle cx="136.9" cy="153.3"/><circle cx="136.9" cy="156.8"/><circle cx="136.9" cy="160.3"/><circle cx="136.9" cy="163.9"/><circle cx="136.9" cy="167.4"/><circle cx="136.9" cy="171.0"/><circle cx="136.9" cy="178.0"/><circle cx="136.9" cy="181.6"/><circle cx="136.9" cy="185.1"/><circle cx="136.9" cy="188.7"/><circle cx="136.9" cy="192.2"/><circle cx="136.9" cy="195.7"/><circle cx="136.9" cy="199.3"/><circle cx="136.9" cy="202.8"/><circle cx="140.0" cy="87.8"/><circle cx="140.0" cy="91.3"/><circle cx="140.0" cy="94.9"/><circle cx="140.0" cy="98.4"/><circle cx="140.0" cy="101.9"/><circle cx="140.0" cy="105.5"/><circle cx="140.0" cy="109.0"/><circle cx="140.0" cy="112.5"/><circle cx="140.0" cy="116.1"/><circle cx="140.0" cy="130.3"/><circle cx="140.0" cy="140.9"/><circle cx="140.0" cy="144.4"/><circle cx="140.0" cy="148.0"/><circle cx="140.0" cy="158.6"/><circle cx="140.0" cy="162.1"/><circle cx="140.0" cy="165.7"/><circle cx="140.0" cy="169.2"/><circle cx="140.0" cy="172.7"/><circle cx="140.0" cy="176.3"/><circle cx="140.0" cy="179.8"/><circle cx="140.0" cy="183.4"/><circle cx="140.0" cy="186.9"/><circle cx="140.0" cy="190.4"/><circle cx="140.0" cy="194.0"/><circle cx="140.0" cy="197.5"/><circle cx="143.0" cy="89.5"/><circle cx="143.0" cy="107.2"/><circle cx="143.0" cy="110.8"/><circle cx="143.0" cy="114.3"/><circle cx="143.0" cy="128.5"/><circle cx="143.0" cy="132.0"/><circle cx="143.0" cy="135.6"/><circle cx="143.0" cy="139.1"/><circle cx="143.0" cy="142.6"/><circle cx="143.0" cy="146.2"/><circle cx="143.0" cy="149.7"/><circle cx="143.0" cy="153.3"/><circle cx="143.0" cy="156.8"/><circle cx="143.0" cy="160.3"/><circle cx="143.0" cy="163.9"/><circle cx="143.0" cy="167.4"/><circle cx="143.0" cy="171.0"/><circle cx="143.0" cy="174.5"/><circle cx="143.0" cy="178.0"/><circle cx="143.0" cy="181.6"/><circle cx="143.0" cy="185.1"/><circle cx="143.0" cy="188.7"/><circle cx="143.0" cy="192.2"/><circle cx="146.1" cy="91.3"/><circle cx="146.1" cy="109.0"/><circle cx="146.1" cy="112.5"/><circle cx="146.1" cy="116.1"/><circle cx="146.1" cy="130.3"/><circle cx="146.1" cy="133.8"/><circle cx="146.1" cy="137.3"/><circle cx="146.1" cy="140.9"/><circle cx="146.1" cy="144.4"/><circle cx="146.1" cy="148.0"/><circle cx="146.1" cy="151.5"/><circle cx="146.1" cy="155.0"/><circle cx="146.1" cy="158.6"/><circle cx="146.1" cy="162.1"/><circle cx="146.1" cy="165.7"/><circle cx="146.1" cy="169.2"/><circle cx="146.1" cy="172.7"/><circle cx="146.1" cy="176.3"/><circle cx="146.1" cy="179.8"/><circle cx="146.1" cy="183.4"/><circle cx="146.1" cy="186.9"/><circle cx="149.2" cy="89.5"/><circle cx="149.2" cy="93.1"/><circle cx="149.2" cy="110.8"/><circle cx="149.2" cy="114.3"/><circle cx="149.2" cy="117.9"/><circle cx="149.2" cy="121.4"/><circle cx="149.2" cy="124.9"/><circle cx="149.2" cy="128.5"/><circle cx="149.2" cy="132.0"/><circle cx="149.2" cy="139.1"/><circle cx="149.2" cy="142.6"/><circle cx="149.2" cy="146.2"/><circle cx="149.2" cy="149.7"/><circle cx="149.2" cy="153.3"/><circle cx="149.2" cy="156.8"/><circle cx="149.2" cy="160.3"/><circle cx="149.2" cy="163.9"/><circle cx="149.2" cy="167.4"/><circle cx="149.2" cy="171.0"/><circle cx="149.2" cy="174.5"/><circle cx="149.2" cy="178.0"/><circle cx="149.2" cy="181.6"/><circle cx="149.2" cy="185.1"/><circle cx="149.2" cy="195.7"/><circle cx="149.2" cy="199.3"/><circle cx="149.2" cy="202.8"/><circle cx="149.2" cy="206.4"/><circle cx="152.2" cy="112.5"/><circle cx="152.2" cy="116.1"/><circle cx="152.2" cy="119.6"/><circle cx="152.2" cy="130.3"/><circle cx="152.2" cy="133.8"/><circle cx="152.2" cy="137.3"/><circle cx="152.2" cy="140.9"/><circle cx="152.2" cy="144.4"/><circle cx="152.2" cy="148.0"/><circle cx="152.2" cy="151.5"/><circle cx="152.2" cy="155.0"/><circle cx="152.2" cy="158.6"/><circle cx="152.2" cy="162.1"/><circle cx="152.2" cy="165.7"/><circle cx="152.2" cy="169.2"/><circle cx="152.2" cy="172.7"/><circle cx="152.2" cy="176.3"/><circle cx="152.2" cy="179.8"/><circle cx="152.2" cy="190.4"/><circle cx="152.2" cy="194.0"/><circle cx="152.2" cy="197.5"/><circle cx="152.2" cy="208.1"/><circle cx="155.3" cy="114.3"/><circle cx="155.3" cy="117.9"/><circle cx="155.3" cy="121.4"/><circle cx="155.3" cy="132.0"/><circle cx="155.3" cy="135.6"/><circle cx="155.3" cy="139.1"/><circle cx="155.3" cy="142.6"/><circle cx="155.3" cy="146.2"/><circle cx="155.3" cy="149.7"/><circle cx="155.3" cy="163.9"/><circle cx="155.3" cy="167.4"/><circle cx="155.3" cy="171.0"/><circle cx="155.3" cy="174.5"/><circle cx="155.3" cy="178.0"/><circle cx="155.3" cy="188.7"/><circle cx="155.3" cy="209.9"/><circle cx="155.3" cy="213.4"/><circle cx="158.3" cy="91.3"/><circle cx="158.3" cy="94.9"/><circle cx="158.3" cy="98.4"/><circle cx="158.3" cy="101.9"/><circle cx="158.3" cy="105.5"/><circle cx="158.3" cy="109.0"/><circle cx="158.3" cy="112.5"/><circle cx="158.3" cy="116.1"/><circle cx="158.3" cy="119.6"/><circle cx="158.3" cy="123.2"/><circle cx="158.3" cy="126.7"/><circle cx="158.3" cy="130.3"/><circle cx="158.3" cy="133.8"/><circle cx="158.3" cy="137.3"/><circle cx="158.3" cy="140.9"/><circle cx="158.3" cy="144.4"/><circle cx="158.3" cy="148.0"/><circle cx="158.3" cy="151.5"/><circle cx="158.3" cy="165.7"/><circle cx="158.3" cy="169.2"/><circle cx="158.3" cy="172.7"/><circle cx="158.3" cy="176.3"/><circle cx="158.3" cy="183.4"/><circle cx="158.3" cy="186.9"/><circle cx="158.3" cy="215.2"/><circle cx="161.4" cy="93.1"/><circle cx="161.4" cy="103.7"/><circle cx="161.4" cy="114.3"/><circle cx="161.4" cy="117.9"/><circle cx="161.4" cy="121.4"/><circle cx="161.4" cy="124.9"/><circle cx="161.4" cy="128.5"/><circle cx="161.4" cy="132.0"/><circle cx="161.4" cy="135.6"/><circle cx="161.4" cy="139.1"/><circle cx="161.4" cy="142.6"/><circle cx="161.4" cy="146.2"/><circle cx="161.4" cy="149.7"/><circle cx="161.4" cy="153.3"/><circle cx="161.4" cy="156.8"/><circle cx="161.4" cy="160.3"/><circle cx="161.4" cy="163.9"/><circle cx="161.4" cy="167.4"/><circle cx="161.4" cy="171.0"/><circle cx="161.4" cy="174.5"/><circle cx="161.4" cy="181.6"/><circle cx="161.4" cy="185.1"/><circle cx="161.4" cy="217.0"/><circle cx="164.5" cy="116.1"/><circle cx="164.5" cy="119.6"/><circle cx="164.5" cy="123.2"/><circle cx="164.5" cy="126.7"/><circle cx="164.5" cy="130.3"/><circle cx="164.5" cy="137.3"/><circle cx="164.5" cy="140.9"/><circle cx="164.5" cy="148.0"/><circle cx="164.5" cy="151.5"/><circle cx="164.5" cy="155.0"/><circle cx="164.5" cy="158.6"/><circle cx="164.5" cy="162.1"/><circle cx="164.5" cy="165.7"/><circle cx="164.5" cy="169.2"/><circle cx="164.5" cy="172.7"/><circle cx="164.5" cy="179.8"/><circle cx="164.5" cy="183.4"/><circle cx="164.5" cy="222.3"/><circle cx="164.5" cy="225.8"/><circle cx="167.5" cy="114.3"/><circle cx="167.5" cy="117.9"/><circle cx="167.5" cy="121.4"/><circle cx="167.5" cy="128.5"/><circle cx="167.5" cy="132.0"/><circle cx="167.5" cy="135.6"/><circle cx="167.5" cy="142.6"/><circle cx="167.5" cy="146.2"/><circle cx="167.5" cy="153.3"/><circle cx="167.5" cy="156.8"/><circle cx="167.5" cy="160.3"/><circle cx="167.5" cy="163.9"/><circle cx="167.5" cy="167.4"/><circle cx="167.5" cy="171.0"/><circle cx="167.5" cy="174.5"/><circle cx="167.5" cy="178.0"/><circle cx="167.5" cy="181.6"/><circle cx="167.5" cy="227.6"/><circle cx="167.5" cy="231.1"/><circle cx="170.6" cy="112.5"/><circle cx="170.6" cy="116.1"/><circle cx="170.6" cy="119.6"/><circle cx="170.6" cy="123.2"/><circle cx="170.6" cy="130.3"/><circle cx="170.6" cy="133.8"/><circle cx="170.6" cy="137.3"/><circle cx="170.6" cy="140.9"/><circle cx="170.6" cy="148.0"/><circle cx="170.6" cy="151.5"/><circle cx="170.6" cy="155.0"/><circle cx="170.6" cy="158.6"/><circle cx="170.6" cy="162.1"/><circle cx="170.6" cy="165.7"/><circle cx="170.6" cy="169.2"/><circle cx="170.6" cy="172.7"/><circle cx="170.6" cy="176.3"/><circle cx="170.6" cy="179.8"/><circle cx="170.6" cy="229.4"/><circle cx="170.6" cy="232.9"/><circle cx="173.7" cy="117.9"/><circle cx="173.7" cy="121.4"/><circle cx="173.7" cy="124.9"/><circle cx="173.7" cy="128.5"/><circle cx="173.7" cy="132.0"/><circle cx="173.7" cy="135.6"/><circle cx="173.7" cy="139.1"/><circle cx="173.7" cy="142.6"/><circle cx="173.7" cy="146.2"/><circle cx="173.7" cy="149.7"/><circle cx="173.7" cy="153.3"/><circle cx="173.7" cy="156.8"/><circle cx="173.7" cy="160.3"/><circle cx="173.7" cy="163.9"/><circle cx="173.7" cy="167.4"/><circle cx="173.7" cy="174.5"/><circle cx="173.7" cy="234.7"/><circle cx="173.7" cy="238.2"/><circle cx="176.7" cy="119.6"/><circle cx="176.7" cy="123.2"/><circle cx="176.7" cy="126.7"/><circle cx="176.7" cy="130.3"/><circle cx="176.7" cy="133.8"/><circle cx="176.7" cy="137.3"/><circle cx="176.7" cy="140.9"/><circle cx="176.7" cy="144.4"/><circle cx="176.7" cy="148.0"/><circle cx="176.7" cy="151.5"/><circle cx="176.7" cy="155.0"/><circle cx="176.7" cy="158.6"/><circle cx="176.7" cy="162.1"/><circle cx="176.7" cy="172.7"/><circle cx="176.7" cy="240.0"/><circle cx="179.8" cy="121.4"/><circle cx="179.8" cy="124.9"/><circle cx="179.8" cy="128.5"/><circle cx="179.8" cy="132.0"/><circle cx="179.8" cy="135.6"/><circle cx="179.8" cy="139.1"/><circle cx="179.8" cy="142.6"/><circle cx="179.8" cy="146.2"/><circle cx="179.8" cy="149.7"/><circle cx="179.8" cy="153.3"/><circle cx="179.8" cy="156.8"/><circle cx="179.8" cy="160.3"/><circle cx="179.8" cy="174.5"/><circle cx="179.8" cy="241.8"/><circle cx="179.8" cy="245.3"/><circle cx="182.9" cy="126.7"/><circle cx="182.9" cy="130.3"/><circle cx="182.9" cy="133.8"/><circle cx="182.9" cy="137.3"/><circle cx="182.9" cy="140.9"/><circle cx="182.9" cy="144.4"/><circle cx="182.9" cy="148.0"/><circle cx="182.9" cy="151.5"/><circle cx="182.9" cy="155.0"/><circle cx="182.9" cy="172.7"/><circle cx="185.9" cy="167.4"/><circle cx="185.9" cy="171.0"/><circle cx="189.0" cy="165.7"/><circle cx="189.0" cy="169.2"/><circle cx="189.0" cy="172.7"/><circle cx="189.0" cy="176.3"/><circle cx="192.1" cy="167.4"/><circle cx="192.1" cy="171.0"/><circle cx="192.1" cy="174.5"/><circle cx="195.1" cy="172.7"/><circle cx="198.2" cy="171.0"/><circle cx="201.3" cy="172.7"/><circle cx="204.3" cy="174.5"/><circle cx="207.4" cy="172.7"/><circle cx="210.4" cy="171.0"/><circle cx="210.4" cy="174.5"/><circle cx="213.5" cy="172.7"/><circle cx="216.6" cy="171.0"/><circle cx="216.6" cy="174.5"/><circle cx="219.6" cy="169.2"/><circle cx="219.6" cy="172.7"/><circle cx="222.7" cy="167.4"/><circle cx="222.7" cy="171.0"/><circle cx="222.7" cy="174.5"/><circle cx="222.7" cy="178.0"/><circle cx="225.8" cy="165.7"/><circle cx="225.8" cy="169.2"/><circle cx="225.8" cy="176.3"/><circle cx="225.8" cy="179.8"/><circle cx="228.8" cy="163.9"/><circle cx="228.8" cy="167.4"/><circle cx="228.8" cy="181.6"/><circle cx="228.8" cy="185.1"/><circle cx="231.9" cy="162.1"/><circle cx="231.9" cy="165.7"/><circle cx="231.9" cy="183.4"/><circle cx="231.9" cy="186.9"/><circle cx="235.0" cy="160.3"/><circle cx="235.0" cy="163.9"/><circle cx="235.0" cy="188.7"/><circle cx="238.0" cy="158.6"/><circle cx="238.0" cy="162.1"/><circle cx="238.0" cy="190.4"/><circle cx="238.0" cy="194.0"/><circle cx="241.1" cy="156.8"/><circle cx="241.1" cy="160.3"/><circle cx="241.1" cy="192.2"/><circle cx="241.1" cy="195.7"/><circle cx="244.2" cy="155.0"/><circle cx="244.2" cy="158.6"/><circle cx="244.2" cy="194.0"/><circle cx="244.2" cy="197.5"/><circle cx="247.2" cy="153.3"/><circle cx="247.2" cy="156.8"/><circle cx="250.3" cy="151.5"/><circle cx="250.3" cy="155.0"/><circle cx="253.4" cy="149.7"/><circle cx="256.4" cy="148.0"/><circle cx="259.5" cy="142.6"/><circle cx="259.5" cy="146.2"/><circle cx="262.6" cy="140.9"/><circle cx="265.6" cy="135.6"/><circle cx="265.6" cy="139.1"/><circle cx="268.7" cy="133.8"/><circle cx="271.8" cy="132.0"/><circle cx="274.8" cy="133.8"/><circle cx="277.9" cy="132.0"/><circle cx="277.9" cy="135.6"/>
</g><use href="#ol"/>
<g stroke="#2a0808" stroke-width="0.5">
<circle cx="97.0" cy="87.8" r="1.75" fill="#fb3c17"/>
<circle cx="100.1" cy="86.0" r="1.75" fill="#fb3c17"/>
<circle cx="103.2" cy="87.8" r="1.75" fill="#fb3c17"/>
<circle cx="109.3" cy="87.8" r="1.75" fill="#080808"/>
<circle cx="112.4" cy="93.1" r="1.75" fill="#fb3c17"/>
<circle cx="109.3" cy="94.9" r="1.75" fill="#fb3c17"/>
<circle cx="109.3" cy="98.4" r="1.75" fill="#fb3c17"/>
<circle cx="121.6" cy="84.2" r="1.75" fill="#fb3c17"/>
<circle cx="121.6" cy="94.9" r="1.75" fill="#fb3c17"/>
<circle cx="121.6" cy="101.9" r="1.75" fill="#fb3c17"/>
<circle cx="106.2" cy="103.7" r="1.75" fill="#080808"/>
<circle cx="106.2" cy="107.2" r="1.75" fill="#720030"/>
<circle cx="130.8" cy="100.2" r="1.75" fill="#1c0a30"/>
<circle cx="158.3" cy="94.9" r="1.75" fill="#fb3c17"/>
<circle cx="124.6" cy="107.2" r="1.75" fill="#fb3c17"/>
<circle cx="124.6" cy="110.8" r="1.75" fill="#fb3c17"/>
<circle cx="124.6" cy="114.3" r="1.75" fill="#fb3c17"/>
<circle cx="124.6" cy="117.9" r="1.75" fill="#fb3c17"/>
<circle cx="127.7" cy="119.6" r="1.75" fill="#720030"/>
<circle cx="136.9" cy="121.4" r="1.75" fill="#fb3c17"/>
<circle cx="152.2" cy="116.1" r="1.75" fill="#fb3c17"/>
<circle cx="155.3" cy="117.9" r="1.75" fill="#1c0a30"/>
<circle cx="127.7" cy="126.7" r="1.75" fill="#fb3c17"/>
<circle cx="127.7" cy="130.3" r="1.75" fill="#fb3c17"/>
<circle cx="130.8" cy="128.5" r="1.75" fill="#fb3c17"/>
<circle cx="136.9" cy="128.5" r="1.75" fill="#fb3c17"/>
<circle cx="136.9" cy="132.0" r="1.75" fill="#fb3c17"/>
<circle cx="130.8" cy="135.6" r="1.75" fill="#fb3c17"/>
<circle cx="143.0" cy="132.0" r="1.75" fill="#fb3c17"/>
<circle cx="146.1" cy="133.8" r="1.75" fill="#fb3c17"/>
<circle cx="143.0" cy="171.0" r="1.75" fill="#fb3c17"/>
<circle cx="149.2" cy="171.0" r="1.75" fill="#fb3c17"/>
<circle cx="143.0" cy="174.5" r="1.75" fill="#fb3c17"/>
<circle cx="143.0" cy="178.0" r="1.75" fill="#fb3c17"/>
<circle cx="124.6" cy="178.0" r="1.75" fill="#fb3c17"/>
<circle cx="140.0" cy="183.4" r="1.75" fill="#720030"/>
<circle cx="140.0" cy="186.9" r="1.75" fill="#fb3c17"/>
<circle cx="136.9" cy="188.7" r="1.75" fill="#fb3c17"/>
<circle cx="136.9" cy="192.2" r="1.75" fill="#fb3c17"/>
<circle cx="127.7" cy="190.4" r="1.75" fill="#fb3c17"/>
<circle cx="127.7" cy="197.5" r="1.75" fill="#fb3c17"/>
<circle cx="124.6" cy="202.8" r="1.75" fill="#fb3c17"/>
<circle cx="152.2" cy="208.1" r="1.75" fill="#fb3c17"/>
<circle cx="158.3" cy="215.2" r="1.75" fill="#fb3c17"/>
</g></g>
<g transform="translate(232.4,555.3)"><g class="hx">
<circle cx="97.0" cy="84.2"/><circle cx="97.0" cy="87.8"/><circle cx="100.1" cy="86.0"/><circle cx="103.2" cy="87.8"/><circle cx="106.2" cy="89.5"/><circle cx="106.2" cy="103.7"/><circle cx="106.2" cy="107.2"/><circle cx="109.3" cy="91.3"/><circle cx="109.3" cy="94.9"/><circle cx="109.3" cy="98.4"/><circle cx="109.3" cy="101.9"/><circle cx="109.3" cy="105.5"/><circle cx="112.4" cy="89.5"/><circle cx="112.4" cy="93.1"/><circle cx="112.4" cy="96.6"/><circle cx="112.4" cy="100.2"/><circle cx="112.4" cy="103.7"/><circle cx="112.4" cy="107.2"/><circle cx="112.4" cy="110.8"/><circle cx="112.4" cy="114.3"/><circle cx="115.4" cy="87.8"/><circle cx="115.4" cy="91.3"/><circle cx="115.4" cy="94.9"/><circle cx="115.4" cy="98.4"/><circle cx="115.4" cy="101.9"/><circle cx="115.4" cy="109.0"/><circle cx="115.4" cy="112.5"/><circle cx="115.4" cy="116.1"/><circle cx="115.4" cy="176.3"/><circle cx="115.4" cy="179.8"/><circle cx="115.4" cy="183.4"/><circle cx="118.5" cy="82.5"/><circle cx="118.5" cy="89.5"/><circle cx="118.5" cy="93.1"/><circle cx="118.5" cy="96.6"/><circle cx="118.5" cy="100.2"/><circle cx="118.5" cy="103.7"/><circle cx="118.5" cy="110.8"/><circle cx="118.5" cy="121.4"/><circle cx="118.5" cy="171.0"/><circle cx="118.5" cy="174.5"/><circle cx="118.5" cy="178.0"/><circle cx="118.5" cy="181.6"/><circle cx="118.5" cy="185.1"/><circle cx="118.5" cy="188.7"/><circle cx="118.5" cy="192.2"/><circle cx="118.5" cy="195.7"/><circle cx="121.6" cy="77.2"/><circle cx="121.6" cy="80.7"/><circle cx="121.6" cy="84.2"/><circle cx="121.6" cy="87.8"/><circle cx="121.6" cy="91.3"/><circle cx="121.6" cy="94.9"/><circle cx="121.6" cy="98.4"/><circle cx="121.6" cy="101.9"/><circle cx="121.6" cy="105.5"/><circle cx="121.6" cy="109.0"/><circle cx="121.6" cy="119.6"/><circle cx="121.6" cy="123.2"/><circle cx="121.6" cy="169.2"/><circle cx="121.6" cy="176.3"/><circle cx="121.6" cy="179.8"/><circle cx="121.6" cy="183.4"/><circle cx="121.6" cy="186.9"/><circle cx="121.6" cy="190.4"/><circle cx="121.6" cy="194.0"/><circle cx="121.6" cy="197.5"/><circle cx="121.6" cy="201.1"/><circle cx="124.6" cy="86.0"/><circle cx="124.6" cy="89.5"/><circle cx="124.6" cy="103.7"/><circle cx="124.6" cy="107.2"/><circle cx="124.6" cy="110.8"/><circle cx="124.6" cy="114.3"/><circle cx="124.6" cy="117.9"/><circle cx="124.6" cy="124.9"/><circle cx="124.6" cy="167.4"/><circle cx="124.6" cy="171.0"/><circle cx="124.6" cy="174.5"/><circle cx="124.6" cy="178.0"/><circle cx="124.6" cy="181.6"/><circle cx="124.6" cy="185.1"/><circle cx="124.6" cy="188.7"/><circle cx="124.6" cy="192.2"/><circle cx="124.6" cy="195.7"/><circle cx="124.6" cy="199.3"/><circle cx="124.6" cy="202.8"/><circle cx="124.6" cy="206.4"/><circle cx="127.7" cy="105.5"/><circle cx="127.7" cy="109.0"/><circle cx="127.7" cy="112.5"/><circle cx="127.7" cy="116.1"/><circle cx="127.7" cy="119.6"/><circle cx="127.7" cy="123.2"/><circle cx="127.7" cy="126.7"/><circle cx="127.7" cy="172.7"/><circle cx="127.7" cy="176.3"/><circle cx="127.7" cy="179.8"/><circle cx="127.7" cy="183.4"/><circle cx="127.7" cy="186.9"/><circle cx="127.7" cy="190.4"/><circle cx="127.7" cy="194.0"/><circle cx="127.7" cy="197.5"/><circle cx="127.7" cy="201.1"/><circle cx="127.7" cy="204.6"/><circle cx="130.8" cy="103.7"/><circle cx="130.8" cy="107.2"/><circle cx="130.8" cy="110.8"/><circle cx="130.8" cy="114.3"/><circle cx="130.8" cy="117.9"/><circle cx="130.8" cy="124.9"/><circle cx="130.8" cy="128.5"/><circle cx="130.8" cy="132.0"/><circle cx="130.8" cy="135.6"/><circle cx="130.8" cy="139.1"/><circle cx="130.8" cy="142.6"/><circle cx="130.8" cy="146.2"/><circle cx="130.8" cy="149.7"/><circle cx="130.8" cy="153.3"/><circle cx="130.8" cy="156.8"/><circle cx="130.8" cy="160.3"/><circle cx="130.8" cy="163.9"/><circle cx="130.8" cy="167.4"/><circle cx="130.8" cy="171.0"/><circle cx="130.8" cy="174.5"/><circle cx="130.8" cy="178.0"/><circle cx="130.8" cy="181.6"/><circle cx="130.8" cy="185.1"/><circle cx="130.8" cy="188.7"/><circle cx="130.8" cy="192.2"/><circle cx="130.8" cy="195.7"/><circle cx="130.8" cy="199.3"/><circle cx="130.8" cy="202.8"/><circle cx="133.8" cy="105.5"/><circle cx="133.8" cy="109.0"/><circle cx="133.8" cy="112.5"/><circle cx="133.8" cy="116.1"/><circle cx="133.8" cy="119.6"/><circle cx="133.8" cy="123.2"/><circle cx="133.8" cy="126.7"/><circle cx="133.8" cy="130.3"/><circle cx="133.8" cy="140.9"/><circle cx="133.8" cy="144.4"/><circle cx="133.8" cy="148.0"/><circle cx="133.8" cy="151.5"/><circle cx="133.8" cy="162.1"/><circle cx="133.8" cy="165.7"/><circle cx="133.8" cy="169.2"/><circle cx="133.8" cy="172.7"/><circle cx="133.8" cy="176.3"/><circle cx="133.8" cy="179.8"/><circle cx="133.8" cy="183.4"/><circle cx="133.8" cy="186.9"/><circle cx="133.8" cy="190.4"/><circle cx="133.8" cy="194.0"/><circle cx="133.8" cy="197.5"/><circle cx="133.8" cy="201.1"/><circle cx="136.9" cy="89.5"/><circle cx="136.9" cy="93.1"/><circle cx="136.9" cy="96.6"/><circle cx="136.9" cy="100.2"/><circle cx="136.9" cy="103.7"/><circle cx="136.9" cy="107.2"/><circle cx="136.9" cy="110.8"/><circle cx="136.9" cy="114.3"/><circle cx="136.9" cy="117.9"/><circle cx="136.9" cy="121.4"/><circle cx="136.9" cy="124.9"/><circle cx="136.9" cy="128.5"/><circle cx="136.9" cy="132.0"/><circle cx="136.9" cy="135.6"/><circle cx="136.9" cy="139.1"/><circle cx="136.9" cy="142.6"/><circle cx="136.9" cy="146.2"/><circle cx="136.9" cy="149.7"/><circle cx="136.9" cy="153.3"/><circle cx="136.9" cy="156.8"/><circle cx="136.9" cy="160.3"/><circle cx="136.9" cy="163.9"/><circle cx="136.9" cy="167.4"/><circle cx="136.9" cy="171.0"/><circle cx="136.9" cy="178.0"/><circle cx="136.9" cy="181.6"/><circle cx="136.9" cy="185.1"/><circle cx="136.9" cy="188.7"/><circle cx="136.9" cy="192.2"/><circle cx="136.9" cy="195.7"/><circle cx="136.9" cy="199.3"/><circle cx="136.9" cy="202.8"/><circle cx="140.0" cy="87.8"/><circle cx="140.0" cy="91.3"/><circle cx="140.0" cy="94.9"/><circle cx="140.0" cy="98.4"/><circle cx="140.0" cy="101.9"/><circle cx="140.0" cy="105.5"/><circle cx="140.0" cy="109.0"/><circle cx="140.0" cy="112.5"/><circle cx="140.0" cy="116.1"/><circle cx="140.0" cy="130.3"/><circle cx="140.0" cy="144.4"/><circle cx="140.0" cy="148.0"/><circle cx="140.0" cy="162.1"/><circle cx="140.0" cy="165.7"/><circle cx="140.0" cy="169.2"/><circle cx="140.0" cy="172.7"/><circle cx="140.0" cy="176.3"/><circle cx="140.0" cy="179.8"/><circle cx="140.0" cy="183.4"/><circle cx="140.0" cy="186.9"/><circle cx="140.0" cy="190.4"/><circle cx="140.0" cy="194.0"/><circle cx="140.0" cy="197.5"/><circle cx="143.0" cy="89.5"/><circle cx="143.0" cy="107.2"/><circle cx="143.0" cy="110.8"/><circle cx="143.0" cy="114.3"/><circle cx="143.0" cy="128.5"/><circle cx="143.0" cy="132.0"/><circle cx="143.0" cy="135.6"/><circle cx="143.0" cy="142.6"/><circle cx="143.0" cy="146.2"/><circle cx="143.0" cy="149.7"/><circle cx="143.0" cy="153.3"/><circle cx="143.0" cy="156.8"/><circle cx="143.0" cy="160.3"/><circle cx="143.0" cy="163.9"/><circle cx="143.0" cy="167.4"/><circle cx="143.0" cy="171.0"/><circle cx="143.0" cy="174.5"/><circle cx="143.0" cy="178.0"/><circle cx="143.0" cy="181.6"/><circle cx="143.0" cy="185.1"/><circle cx="143.0" cy="188.7"/><circle cx="143.0" cy="192.2"/><circle cx="146.1" cy="91.3"/><circle cx="146.1" cy="109.0"/><circle cx="146.1" cy="112.5"/><circle cx="146.1" cy="116.1"/><circle cx="146.1" cy="130.3"/><circle cx="146.1" cy="133.8"/><circle cx="146.1" cy="137.3"/><circle cx="146.1" cy="140.9"/><circle cx="146.1" cy="144.4"/><circle cx="146.1" cy="151.5"/><circle cx="146.1" cy="155.0"/><circle cx="146.1" cy="158.6"/><circle cx="146.1" cy="162.1"/><circle cx="146.1" cy="165.7"/><circle cx="146.1" cy="169.2"/><circle cx="146.1" cy="172.7"/><circle cx="146.1" cy="176.3"/><circle cx="146.1" cy="179.8"/><circle cx="146.1" cy="183.4"/><circle cx="146.1" cy="186.9"/><circle cx="149.2" cy="89.5"/><circle cx="149.2" cy="93.1"/><circle cx="149.2" cy="110.8"/><circle cx="149.2" cy="114.3"/><circle cx="149.2" cy="117.9"/><circle cx="149.2" cy="121.4"/><circle cx="149.2" cy="124.9"/><circle cx="149.2" cy="128.5"/><circle cx="149.2" cy="132.0"/><circle cx="149.2" cy="142.6"/><circle cx="149.2" cy="146.2"/><circle cx="149.2" cy="149.7"/><circle cx="149.2" cy="153.3"/><circle cx="149.2" cy="156.8"/><circle cx="149.2" cy="160.3"/><circle cx="149.2" cy="163.9"/><circle cx="149.2" cy="167.4"/><circle cx="149.2" cy="171.0"/><circle cx="149.2" cy="174.5"/><circle cx="149.2" cy="178.0"/><circle cx="149.2" cy="181.6"/><circle cx="149.2" cy="185.1"/><circle cx="149.2" cy="195.7"/><circle cx="149.2" cy="199.3"/><circle cx="149.2" cy="202.8"/><circle cx="149.2" cy="206.4"/><circle cx="152.2" cy="112.5"/><circle cx="152.2" cy="116.1"/><circle cx="152.2" cy="130.3"/><circle cx="152.2" cy="133.8"/><circle cx="152.2" cy="137.3"/><circle cx="152.2" cy="140.9"/><circle cx="152.2" cy="144.4"/><circle cx="152.2" cy="148.0"/><circle cx="152.2" cy="151.5"/><circle cx="152.2" cy="155.0"/><circle cx="152.2" cy="158.6"/><circle cx="152.2" cy="162.1"/><circle cx="152.2" cy="165.7"/><circle cx="152.2" cy="169.2"/><circle cx="152.2" cy="172.7"/><circle cx="152.2" cy="176.3"/><circle cx="152.2" cy="179.8"/><circle cx="152.2" cy="190.4"/><circle cx="152.2" cy="194.0"/><circle cx="152.2" cy="197.5"/><circle cx="152.2" cy="208.1"/><circle cx="155.3" cy="114.3"/><circle cx="155.3" cy="117.9"/><circle cx="155.3" cy="132.0"/><circle cx="155.3" cy="135.6"/><circle cx="155.3" cy="139.1"/><circle cx="155.3" cy="142.6"/><circle cx="155.3" cy="146.2"/><circle cx="155.3" cy="163.9"/><circle cx="155.3" cy="167.4"/><circle cx="155.3" cy="171.0"/><circle cx="155.3" cy="174.5"/><circle cx="155.3" cy="178.0"/><circle cx="155.3" cy="188.7"/><circle cx="155.3" cy="209.9"/><circle cx="155.3" cy="213.4"/><circle cx="158.3" cy="91.3"/><circle cx="158.3" cy="94.9"/><circle cx="158.3" cy="98.4"/><circle cx="158.3" cy="101.9"/><circle cx="158.3" cy="105.5"/><circle cx="158.3" cy="109.0"/><circle cx="158.3" cy="112.5"/><circle cx="158.3" cy="116.1"/><circle cx="158.3" cy="119.6"/><circle cx="158.3" cy="123.2"/><circle cx="158.3" cy="126.7"/><circle cx="158.3" cy="130.3"/><circle cx="158.3" cy="133.8"/><circle cx="158.3" cy="137.3"/><circle cx="158.3" cy="140.9"/><circle cx="158.3" cy="144.4"/><circle cx="158.3" cy="148.0"/><circle cx="158.3" cy="151.5"/><circle cx="158.3" cy="165.7"/><circle cx="158.3" cy="169.2"/><circle cx="158.3" cy="172.7"/><circle cx="158.3" cy="176.3"/><circle cx="158.3" cy="183.4"/><circle cx="158.3" cy="186.9"/><circle cx="158.3" cy="215.2"/><circle cx="161.4" cy="93.1"/><circle cx="161.4" cy="103.7"/><circle cx="161.4" cy="114.3"/><circle cx="161.4" cy="117.9"/><circle cx="161.4" cy="121.4"/><circle cx="161.4" cy="124.9"/><circle cx="161.4" cy="128.5"/><circle cx="161.4" cy="135.6"/><circle cx="161.4" cy="139.1"/><circle cx="161.4" cy="142.6"/><circle cx="161.4" cy="146.2"/><circle cx="161.4" cy="149.7"/><circle cx="161.4" cy="153.3"/><circle cx="161.4" cy="156.8"/><circle cx="161.4" cy="160.3"/><circle cx="161.4" cy="163.9"/><circle cx="161.4" cy="167.4"/><circle cx="161.4" cy="171.0"/><circle cx="161.4" cy="174.5"/><circle cx="161.4" cy="181.6"/><circle cx="161.4" cy="185.1"/><circle cx="161.4" cy="217.0"/><circle cx="164.5" cy="116.1"/><circle cx="164.5" cy="119.6"/><circle cx="164.5" cy="123.2"/><circle cx="164.5" cy="126.7"/><circle cx="164.5" cy="130.3"/><circle cx="164.5" cy="137.3"/><circle cx="164.5" cy="140.9"/><circle cx="164.5" cy="148.0"/><circle cx="164.5" cy="151.5"/><circle cx="164.5" cy="155.0"/><circle cx="164.5" cy="158.6"/><circle cx="164.5" cy="162.1"/><circle cx="164.5" cy="165.7"/><circle cx="164.5" cy="169.2"/><circle cx="164.5" cy="172.7"/><circle cx="164.5" cy="179.8"/><circle cx="164.5" cy="183.4"/><circle cx="164.5" cy="222.3"/><circle cx="164.5" cy="225.8"/><circle cx="167.5" cy="114.3"/><circle cx="167.5" cy="117.9"/><circle cx="167.5" cy="121.4"/><circle cx="167.5" cy="128.5"/><circle cx="167.5" cy="132.0"/><circle cx="167.5" cy="135.6"/><circle cx="167.5" cy="142.6"/><circle cx="167.5" cy="146.2"/><circle cx="167.5" cy="153.3"/><circle cx="167.5" cy="156.8"/><circle cx="167.5" cy="160.3"/><circle cx="167.5" cy="163.9"/><circle cx="167.5" cy="167.4"/><circle cx="167.5" cy="171.0"/><circle cx="167.5" cy="174.5"/><circle cx="167.5" cy="178.0"/><circle cx="167.5" cy="181.6"/><circle cx="167.5" cy="227.6"/><circle cx="167.5" cy="231.1"/><circle cx="170.6" cy="112.5"/><circle cx="170.6" cy="116.1"/><circle cx="170.6" cy="119.6"/><circle cx="170.6" cy="123.2"/><circle cx="170.6" cy="130.3"/><circle cx="170.6" cy="133.8"/><circle cx="170.6" cy="137.3"/><circle cx="170.6" cy="140.9"/><circle cx="170.6" cy="151.5"/><circle cx="170.6" cy="155.0"/><circle cx="170.6" cy="158.6"/><circle cx="170.6" cy="162.1"/><circle cx="170.6" cy="165.7"/><circle cx="170.6" cy="169.2"/><circle cx="170.6" cy="172.7"/><circle cx="170.6" cy="176.3"/><circle cx="170.6" cy="179.8"/><circle cx="170.6" cy="229.4"/><circle cx="170.6" cy="232.9"/><circle cx="173.7" cy="117.9"/><circle cx="173.7" cy="121.4"/><circle cx="173.7" cy="124.9"/><circle cx="173.7" cy="128.5"/><circle cx="173.7" cy="132.0"/><circle cx="173.7" cy="135.6"/><circle cx="173.7" cy="142.6"/><circle cx="173.7" cy="146.2"/><circle cx="173.7" cy="149.7"/><circle cx="173.7" cy="153.3"/><circle cx="173.7" cy="156.8"/><circle cx="173.7" cy="160.3"/><circle cx="173.7" cy="163.9"/><circle cx="173.7" cy="167.4"/><circle cx="173.7" cy="174.5"/><circle cx="173.7" cy="234.7"/><circle cx="173.7" cy="238.2"/><circle cx="176.7" cy="119.6"/><circle cx="176.7" cy="123.2"/><circle cx="176.7" cy="126.7"/><circle cx="176.7" cy="130.3"/><circle cx="176.7" cy="133.8"/><circle cx="176.7" cy="137.3"/><circle cx="176.7" cy="140.9"/><circle cx="176.7" cy="144.4"/><circle cx="176.7" cy="148.0"/><circle cx="176.7" cy="151.5"/><circle cx="176.7" cy="155.0"/><circle cx="176.7" cy="158.6"/><circle cx="176.7" cy="162.1"/><circle cx="176.7" cy="172.7"/><circle cx="176.7" cy="240.0"/><circle cx="179.8" cy="121.4"/><circle cx="179.8" cy="124.9"/><circle cx="179.8" cy="128.5"/><circle cx="179.8" cy="132.0"/><circle cx="179.8" cy="135.6"/><circle cx="179.8" cy="139.1"/><circle cx="179.8" cy="142.6"/><circle cx="179.8" cy="146.2"/><circle cx="179.8" cy="149.7"/><circle cx="179.8" cy="153.3"/><circle cx="179.8" cy="156.8"/><circle cx="179.8" cy="160.3"/><circle cx="179.8" cy="174.5"/><circle cx="179.8" cy="241.8"/><circle cx="179.8" cy="245.3"/><circle cx="182.9" cy="126.7"/><circle cx="182.9" cy="130.3"/><circle cx="182.9" cy="133.8"/><circle cx="182.9" cy="137.3"/><circle cx="182.9" cy="140.9"/><circle cx="182.9" cy="144.4"/><circle cx="182.9" cy="148.0"/><circle cx="182.9" cy="151.5"/><circle cx="182.9" cy="155.0"/><circle cx="182.9" cy="172.7"/><circle cx="185.9" cy="167.4"/><circle cx="185.9" cy="171.0"/><circle cx="189.0" cy="165.7"/><circle cx="189.0" cy="169.2"/><circle cx="189.0" cy="172.7"/><circle cx="189.0" cy="176.3"/><circle cx="192.1" cy="167.4"/><circle cx="192.1" cy="171.0"/><circle cx="192.1" cy="174.5"/><circle cx="195.1" cy="172.7"/><circle cx="198.2" cy="171.0"/><circle cx="201.3" cy="172.7"/><circle cx="204.3" cy="174.5"/><circle cx="207.4" cy="172.7"/><circle cx="210.4" cy="171.0"/><circle cx="210.4" cy="174.5"/><circle cx="213.5" cy="172.7"/><circle cx="216.6" cy="171.0"/><circle cx="216.6" cy="174.5"/><circle cx="219.6" cy="169.2"/><circle cx="219.6" cy="172.7"/><circle cx="222.7" cy="167.4"/><circle cx="222.7" cy="171.0"/><circle cx="222.7" cy="174.5"/><circle cx="222.7" cy="178.0"/><circle cx="225.8" cy="165.7"/><circle cx="225.8" cy="169.2"/><circle cx="225.8" cy="176.3"/><circle cx="225.8" cy="179.8"/><circle cx="228.8" cy="163.9"/><circle cx="228.8" cy="167.4"/><circle cx="228.8" cy="181.6"/><circle cx="228.8" cy="185.1"/><circle cx="231.9" cy="162.1"/><circle cx="231.9" cy="165.7"/><circle cx="231.9" cy="183.4"/><circle cx="231.9" cy="186.9"/><circle cx="235.0" cy="160.3"/><circle cx="235.0" cy="163.9"/><circle cx="235.0" cy="188.7"/><circle cx="238.0" cy="158.6"/><circle cx="238.0" cy="162.1"/><circle cx="238.0" cy="190.4"/><circle cx="238.0" cy="194.0"/><circle cx="241.1" cy="156.8"/><circle cx="241.1" cy="160.3"/><circle cx="241.1" cy="192.2"/><circle cx="241.1" cy="195.7"/><circle cx="244.2" cy="155.0"/><circle cx="244.2" cy="158.6"/><circle cx="244.2" cy="194.0"/><circle cx="244.2" cy="197.5"/><circle cx="247.2" cy="153.3"/><circle cx="247.2" cy="156.8"/><circle cx="250.3" cy="151.5"/><circle cx="250.3" cy="155.0"/><circle cx="253.4" cy="149.7"/><circle cx="256.4" cy="148.0"/><circle cx="259.5" cy="142.6"/><circle cx="259.5" cy="146.2"/><circle cx="262.6" cy="140.9"/><circle cx="265.6" cy="135.6"/><circle cx="265.6" cy="139.1"/><circle cx="268.7" cy="133.8"/><circle cx="271.8" cy="132.0"/><circle cx="274.8" cy="133.8"/><circle cx="277.9" cy="132.0"/><circle cx="277.9" cy="135.6"/>
</g><use href="#ol"/>
<g stroke="#2a0808" stroke-width="0.5">
<circle cx="97.0" cy="87.8" r="1.75" fill="#fb3c17"/>
<circle cx="103.2" cy="87.8" r="1.75" fill="#fb3c17"/>
<circle cx="112.4" cy="89.5" r="1.75" fill="#080808"/>
<circle cx="109.3" cy="91.3" r="1.75" fill="#fb3c17"/>
<circle cx="109.3" cy="94.9" r="1.75" fill="#fb3c17"/>
<circle cx="109.3" cy="101.9" r="1.75" fill="#1c0a30"/>
<circle cx="106.2" cy="103.7" r="1.75" fill="#fb3c17"/>
<circle cx="115.4" cy="101.9" r="1.75" fill="#fb3c17"/>
<circle cx="130.8" cy="100.2" r="1.75" fill="#720030"/>
<circle cx="158.3" cy="94.9" r="1.75" fill="#fb3c17"/>
<circle cx="124.6" cy="110.8" r="1.75" fill="#fb3c17"/>
<circle cx="136.9" cy="110.8" r="1.75" fill="#fb3c17"/>
<circle cx="124.6" cy="121.4" r="1.75" fill="#fb3c17"/>
<circle cx="127.7" cy="126.7" r="1.75" fill="#fb3c17"/>
<circle cx="152.2" cy="116.1" r="1.75" fill="#fb3c17"/>
<circle cx="155.3" cy="117.9" r="1.75" fill="#fb3c17"/>
<circle cx="140.0" cy="130.3" r="1.75" fill="#fb3c17"/>
<circle cx="130.8" cy="135.6" r="1.75" fill="#fb3c17"/>
<circle cx="143.0" cy="171.0" r="1.75" fill="#fb3c17"/>
<circle cx="143.0" cy="174.5" r="1.75" fill="#fb3c17"/>
<circle cx="143.0" cy="181.6" r="1.75" fill="#fb3c17"/>
<circle cx="140.0" cy="183.4" r="1.75" fill="#fb3c17"/>
<circle cx="136.9" cy="188.7" r="1.75" fill="#fb3c17"/>
<circle cx="121.6" cy="190.4" r="1.75" fill="#fb3c17"/>
<circle cx="127.7" cy="190.4" r="1.75" fill="#fb3c17"/>
<circle cx="158.3" cy="215.2" r="1.75" fill="#fb3c17"/>
</g></g>
<g transform="translate(449.9,555.3)"><g class="hx">
<circle cx="97.0" cy="84.2"/><circle cx="97.0" cy="87.8"/><circle cx="100.1" cy="86.0"/><circle cx="103.2" cy="87.8"/><circle cx="106.2" cy="89.5"/><circle cx="106.2" cy="103.7"/><circle cx="106.2" cy="107.2"/><circle cx="109.3" cy="91.3"/><circle cx="109.3" cy="94.9"/><circle cx="109.3" cy="98.4"/><circle cx="109.3" cy="101.9"/><circle cx="109.3" cy="105.5"/><circle cx="112.4" cy="89.5"/><circle cx="112.4" cy="93.1"/><circle cx="112.4" cy="96.6"/><circle cx="112.4" cy="100.2"/><circle cx="112.4" cy="103.7"/><circle cx="112.4" cy="107.2"/><circle cx="112.4" cy="110.8"/><circle cx="112.4" cy="114.3"/><circle cx="115.4" cy="87.8"/><circle cx="115.4" cy="91.3"/><circle cx="115.4" cy="94.9"/><circle cx="115.4" cy="98.4"/><circle cx="115.4" cy="101.9"/><circle cx="115.4" cy="109.0"/><circle cx="115.4" cy="112.5"/><circle cx="115.4" cy="116.1"/><circle cx="115.4" cy="176.3"/><circle cx="115.4" cy="179.8"/><circle cx="115.4" cy="183.4"/><circle cx="118.5" cy="82.5"/><circle cx="118.5" cy="89.5"/><circle cx="118.5" cy="93.1"/><circle cx="118.5" cy="96.6"/><circle cx="118.5" cy="100.2"/><circle cx="118.5" cy="103.7"/><circle cx="118.5" cy="110.8"/><circle cx="118.5" cy="121.4"/><circle cx="118.5" cy="171.0"/><circle cx="118.5" cy="174.5"/><circle cx="118.5" cy="178.0"/><circle cx="118.5" cy="181.6"/><circle cx="118.5" cy="185.1"/><circle cx="118.5" cy="188.7"/><circle cx="118.5" cy="192.2"/><circle cx="118.5" cy="195.7"/><circle cx="121.6" cy="77.2"/><circle cx="121.6" cy="80.7"/><circle cx="121.6" cy="84.2"/><circle cx="121.6" cy="87.8"/><circle cx="121.6" cy="91.3"/><circle cx="121.6" cy="94.9"/><circle cx="121.6" cy="98.4"/><circle cx="121.6" cy="101.9"/><circle cx="121.6" cy="105.5"/><circle cx="121.6" cy="109.0"/><circle cx="121.6" cy="119.6"/><circle cx="121.6" cy="123.2"/><circle cx="121.6" cy="158.6"/><circle cx="121.6" cy="169.2"/><circle cx="121.6" cy="176.3"/><circle cx="121.6" cy="179.8"/><circle cx="121.6" cy="183.4"/><circle cx="121.6" cy="186.9"/><circle cx="121.6" cy="190.4"/><circle cx="121.6" cy="194.0"/><circle cx="121.6" cy="197.5"/><circle cx="121.6" cy="201.1"/><circle cx="124.6" cy="86.0"/><circle cx="124.6" cy="89.5"/><circle cx="124.6" cy="103.7"/><circle cx="124.6" cy="107.2"/><circle cx="124.6" cy="110.8"/><circle cx="124.6" cy="114.3"/><circle cx="124.6" cy="117.9"/><circle cx="124.6" cy="124.9"/><circle cx="124.6" cy="167.4"/><circle cx="124.6" cy="171.0"/><circle cx="124.6" cy="174.5"/><circle cx="124.6" cy="178.0"/><circle cx="124.6" cy="181.6"/><circle cx="124.6" cy="185.1"/><circle cx="124.6" cy="188.7"/><circle cx="124.6" cy="192.2"/><circle cx="124.6" cy="195.7"/><circle cx="124.6" cy="199.3"/><circle cx="124.6" cy="202.8"/><circle cx="124.6" cy="206.4"/><circle cx="127.7" cy="105.5"/><circle cx="127.7" cy="109.0"/><circle cx="127.7" cy="112.5"/><circle cx="127.7" cy="116.1"/><circle cx="127.7" cy="119.6"/><circle cx="127.7" cy="123.2"/><circle cx="127.7" cy="126.7"/><circle cx="127.7" cy="172.7"/><circle cx="127.7" cy="176.3"/><circle cx="127.7" cy="179.8"/><circle cx="127.7" cy="183.4"/><circle cx="127.7" cy="186.9"/><circle cx="127.7" cy="190.4"/><circle cx="127.7" cy="194.0"/><circle cx="127.7" cy="197.5"/><circle cx="127.7" cy="201.1"/><circle cx="127.7" cy="204.6"/><circle cx="130.8" cy="103.7"/><circle cx="130.8" cy="107.2"/><circle cx="130.8" cy="110.8"/><circle cx="130.8" cy="114.3"/><circle cx="130.8" cy="117.9"/><circle cx="130.8" cy="124.9"/><circle cx="130.8" cy="128.5"/><circle cx="130.8" cy="132.0"/><circle cx="130.8" cy="135.6"/><circle cx="130.8" cy="139.1"/><circle cx="130.8" cy="142.6"/><circle cx="130.8" cy="146.2"/><circle cx="130.8" cy="149.7"/><circle cx="130.8" cy="153.3"/><circle cx="130.8" cy="156.8"/><circle cx="130.8" cy="160.3"/><circle cx="130.8" cy="163.9"/><circle cx="130.8" cy="167.4"/><circle cx="130.8" cy="171.0"/><circle cx="130.8" cy="174.5"/><circle cx="130.8" cy="178.0"/><circle cx="130.8" cy="181.6"/><circle cx="130.8" cy="185.1"/><circle cx="130.8" cy="188.7"/><circle cx="130.8" cy="192.2"/><circle cx="130.8" cy="195.7"/><circle cx="130.8" cy="199.3"/><circle cx="130.8" cy="202.8"/><circle cx="133.8" cy="105.5"/><circle cx="133.8" cy="109.0"/><circle cx="133.8" cy="112.5"/><circle cx="133.8" cy="116.1"/><circle cx="133.8" cy="119.6"/><circle cx="133.8" cy="123.2"/><circle cx="133.8" cy="126.7"/><circle cx="133.8" cy="130.3"/><circle cx="133.8" cy="140.9"/><circle cx="133.8" cy="144.4"/><circle cx="133.8" cy="148.0"/><circle cx="133.8" cy="151.5"/><circle cx="133.8" cy="162.1"/><circle cx="133.8" cy="165.7"/><circle cx="133.8" cy="169.2"/><circle cx="133.8" cy="172.7"/><circle cx="133.8" cy="176.3"/><circle cx="133.8" cy="179.8"/><circle cx="133.8" cy="183.4"/><circle cx="133.8" cy="186.9"/><circle cx="133.8" cy="190.4"/><circle cx="133.8" cy="194.0"/><circle cx="133.8" cy="197.5"/><circle cx="133.8" cy="201.1"/><circle cx="136.9" cy="89.5"/><circle cx="136.9" cy="93.1"/><circle cx="136.9" cy="96.6"/><circle cx="136.9" cy="100.2"/><circle cx="136.9" cy="103.7"/><circle cx="136.9" cy="107.2"/><circle cx="136.9" cy="110.8"/><circle cx="136.9" cy="114.3"/><circle cx="136.9" cy="117.9"/><circle cx="136.9" cy="121.4"/><circle cx="136.9" cy="124.9"/><circle cx="136.9" cy="128.5"/><circle cx="136.9" cy="132.0"/><circle cx="136.9" cy="135.6"/><circle cx="136.9" cy="139.1"/><circle cx="136.9" cy="142.6"/><circle cx="136.9" cy="146.2"/><circle cx="136.9" cy="149.7"/><circle cx="136.9" cy="153.3"/><circle cx="136.9" cy="156.8"/><circle cx="136.9" cy="160.3"/><circle cx="136.9" cy="163.9"/><circle cx="136.9" cy="167.4"/><circle cx="136.9" cy="171.0"/><circle cx="136.9" cy="178.0"/><circle cx="136.9" cy="181.6"/><circle cx="136.9" cy="185.1"/><circle cx="136.9" cy="188.7"/><circle cx="136.9" cy="192.2"/><circle cx="136.9" cy="195.7"/><circle cx="136.9" cy="199.3"/><circle cx="136.9" cy="202.8"/><circle cx="140.0" cy="87.8"/><circle cx="140.0" cy="91.3"/><circle cx="140.0" cy="94.9"/><circle cx="140.0" cy="98.4"/><circle cx="140.0" cy="101.9"/><circle cx="140.0" cy="105.5"/><circle cx="140.0" cy="109.0"/><circle cx="140.0" cy="112.5"/><circle cx="140.0" cy="116.1"/><circle cx="140.0" cy="130.3"/><circle cx="140.0" cy="144.4"/><circle cx="140.0" cy="148.0"/><circle cx="140.0" cy="162.1"/><circle cx="140.0" cy="165.7"/><circle cx="140.0" cy="169.2"/><circle cx="140.0" cy="172.7"/><circle cx="140.0" cy="176.3"/><circle cx="140.0" cy="179.8"/><circle cx="140.0" cy="183.4"/><circle cx="140.0" cy="186.9"/><circle cx="140.0" cy="190.4"/><circle cx="140.0" cy="194.0"/><circle cx="140.0" cy="197.5"/><circle cx="143.0" cy="89.5"/><circle cx="143.0" cy="107.2"/><circle cx="143.0" cy="110.8"/><circle cx="143.0" cy="114.3"/><circle cx="143.0" cy="128.5"/><circle cx="143.0" cy="132.0"/><circle cx="143.0" cy="135.6"/><circle cx="143.0" cy="142.6"/><circle cx="143.0" cy="146.2"/><circle cx="143.0" cy="149.7"/><circle cx="143.0" cy="153.3"/><circle cx="143.0" cy="156.8"/><circle cx="143.0" cy="160.3"/><circle cx="143.0" cy="163.9"/><circle cx="143.0" cy="167.4"/><circle cx="143.0" cy="171.0"/><circle cx="143.0" cy="174.5"/><circle cx="143.0" cy="178.0"/><circle cx="143.0" cy="181.6"/><circle cx="143.0" cy="185.1"/><circle cx="143.0" cy="188.7"/><circle cx="143.0" cy="192.2"/><circle cx="146.1" cy="91.3"/><circle cx="146.1" cy="109.0"/><circle cx="146.1" cy="112.5"/><circle cx="146.1" cy="116.1"/><circle cx="146.1" cy="130.3"/><circle cx="146.1" cy="133.8"/><circle cx="146.1" cy="137.3"/><circle cx="146.1" cy="140.9"/><circle cx="146.1" cy="144.4"/><circle cx="146.1" cy="151.5"/><circle cx="146.1" cy="155.0"/><circle cx="146.1" cy="158.6"/><circle cx="146.1" cy="162.1"/><circle cx="146.1" cy="165.7"/><circle cx="146.1" cy="169.2"/><circle cx="146.1" cy="172.7"/><circle cx="146.1" cy="176.3"/><circle cx="146.1" cy="179.8"/><circle cx="146.1" cy="183.4"/><circle cx="146.1" cy="186.9"/><circle cx="149.2" cy="89.5"/><circle cx="149.2" cy="93.1"/><circle cx="149.2" cy="110.8"/><circle cx="149.2" cy="114.3"/><circle cx="149.2" cy="117.9"/><circle cx="149.2" cy="121.4"/><circle cx="149.2" cy="124.9"/><circle cx="149.2" cy="128.5"/><circle cx="149.2" cy="132.0"/><circle cx="149.2" cy="142.6"/><circle cx="149.2" cy="146.2"/><circle cx="149.2" cy="149.7"/><circle cx="149.2" cy="153.3"/><circle cx="149.2" cy="156.8"/><circle cx="149.2" cy="160.3"/><circle cx="149.2" cy="163.9"/><circle cx="149.2" cy="167.4"/><circle cx="149.2" cy="171.0"/><circle cx="149.2" cy="174.5"/><circle cx="149.2" cy="178.0"/><circle cx="149.2" cy="181.6"/><circle cx="149.2" cy="185.1"/><circle cx="149.2" cy="195.7"/><circle cx="149.2" cy="199.3"/><circle cx="149.2" cy="202.8"/><circle cx="149.2" cy="206.4"/><circle cx="152.2" cy="112.5"/><circle cx="152.2" cy="116.1"/><circle cx="152.2" cy="130.3"/><circle cx="152.2" cy="133.8"/><circle cx="152.2" cy="137.3"/><circle cx="152.2" cy="140.9"/><circle cx="152.2" cy="144.4"/><circle cx="152.2" cy="148.0"/><circle cx="152.2" cy="151.5"/><circle cx="152.2" cy="155.0"/><circle cx="152.2" cy="158.6"/><circle cx="152.2" cy="162.1"/><circle cx="152.2" cy="165.7"/><circle cx="152.2" cy="169.2"/><circle cx="152.2" cy="172.7"/><circle cx="152.2" cy="176.3"/><circle cx="152.2" cy="179.8"/><circle cx="152.2" cy="190.4"/><circle cx="152.2" cy="194.0"/><circle cx="152.2" cy="197.5"/><circle cx="152.2" cy="208.1"/><circle cx="155.3" cy="114.3"/><circle cx="155.3" cy="117.9"/><circle cx="155.3" cy="132.0"/><circle cx="155.3" cy="135.6"/><circle cx="155.3" cy="139.1"/><circle cx="155.3" cy="142.6"/><circle cx="155.3" cy="146.2"/><circle cx="155.3" cy="163.9"/><circle cx="155.3" cy="167.4"/><circle cx="155.3" cy="171.0"/><circle cx="155.3" cy="174.5"/><circle cx="155.3" cy="178.0"/><circle cx="155.3" cy="188.7"/><circle cx="155.3" cy="209.9"/><circle cx="155.3" cy="213.4"/><circle cx="158.3" cy="91.3"/><circle cx="158.3" cy="94.9"/><circle cx="158.3" cy="98.4"/><circle cx="158.3" cy="101.9"/><circle cx="158.3" cy="105.5"/><circle cx="158.3" cy="109.0"/><circle cx="158.3" cy="112.5"/><circle cx="158.3" cy="116.1"/><circle cx="158.3" cy="119.6"/><circle cx="158.3" cy="123.2"/><circle cx="158.3" cy="126.7"/><circle cx="158.3" cy="130.3"/><circle cx="158.3" cy="133.8"/><circle cx="158.3" cy="137.3"/><circle cx="158.3" cy="140.9"/><circle cx="158.3" cy="144.4"/><circle cx="158.3" cy="148.0"/><circle cx="158.3" cy="151.5"/><circle cx="158.3" cy="165.7"/><circle cx="158.3" cy="169.2"/><circle cx="158.3" cy="172.7"/><circle cx="158.3" cy="176.3"/><circle cx="158.3" cy="183.4"/><circle cx="158.3" cy="186.9"/><circle cx="158.3" cy="215.2"/><circle cx="161.4" cy="93.1"/><circle cx="161.4" cy="103.7"/><circle cx="161.4" cy="114.3"/><circle cx="161.4" cy="117.9"/><circle cx="161.4" cy="121.4"/><circle cx="161.4" cy="124.9"/><circle cx="161.4" cy="128.5"/><circle cx="161.4" cy="135.6"/><circle cx="161.4" cy="139.1"/><circle cx="161.4" cy="142.6"/><circle cx="161.4" cy="146.2"/><circle cx="161.4" cy="149.7"/><circle cx="161.4" cy="153.3"/><circle cx="161.4" cy="156.8"/><circle cx="161.4" cy="160.3"/><circle cx="161.4" cy="163.9"/><circle cx="161.4" cy="167.4"/><circle cx="161.4" cy="171.0"/><circle cx="161.4" cy="174.5"/><circle cx="161.4" cy="181.6"/><circle cx="161.4" cy="185.1"/><circle cx="161.4" cy="217.0"/><circle cx="164.5" cy="116.1"/><circle cx="164.5" cy="119.6"/><circle cx="164.5" cy="123.2"/><circle cx="164.5" cy="126.7"/><circle cx="164.5" cy="130.3"/><circle cx="164.5" cy="137.3"/><circle cx="164.5" cy="140.9"/><circle cx="164.5" cy="148.0"/><circle cx="164.5" cy="151.5"/><circle cx="164.5" cy="155.0"/><circle cx="164.5" cy="158.6"/><circle cx="164.5" cy="162.1"/><circle cx="164.5" cy="165.7"/><circle cx="164.5" cy="169.2"/><circle cx="164.5" cy="172.7"/><circle cx="164.5" cy="179.8"/><circle cx="164.5" cy="183.4"/><circle cx="164.5" cy="222.3"/><circle cx="164.5" cy="225.8"/><circle cx="167.5" cy="114.3"/><circle cx="167.5" cy="117.9"/><circle cx="167.5" cy="121.4"/><circle cx="167.5" cy="128.5"/><circle cx="167.5" cy="132.0"/><circle cx="167.5" cy="135.6"/><circle cx="167.5" cy="142.6"/><circle cx="167.5" cy="146.2"/><circle cx="167.5" cy="153.3"/><circle cx="167.5" cy="156.8"/><circle cx="167.5" cy="160.3"/><circle cx="167.5" cy="163.9"/><circle cx="167.5" cy="167.4"/><circle cx="167.5" cy="171.0"/><circle cx="167.5" cy="174.5"/><circle cx="167.5" cy="178.0"/><circle cx="167.5" cy="181.6"/><circle cx="167.5" cy="227.6"/><circle cx="167.5" cy="231.1"/><circle cx="170.6" cy="112.5"/><circle cx="170.6" cy="116.1"/><circle cx="170.6" cy="119.6"/><circle cx="170.6" cy="123.2"/><circle cx="170.6" cy="130.3"/><circle cx="170.6" cy="133.8"/><circle cx="170.6" cy="137.3"/><circle cx="170.6" cy="140.9"/><circle cx="170.6" cy="151.5"/><circle cx="170.6" cy="155.0"/><circle cx="170.6" cy="158.6"/><circle cx="170.6" cy="162.1"/><circle cx="170.6" cy="165.7"/><circle cx="170.6" cy="169.2"/><circle cx="170.6" cy="172.7"/><circle cx="170.6" cy="176.3"/><circle cx="170.6" cy="179.8"/><circle cx="170.6" cy="229.4"/><circle cx="170.6" cy="232.9"/><circle cx="173.7" cy="117.9"/><circle cx="173.7" cy="121.4"/><circle cx="173.7" cy="124.9"/><circle cx="173.7" cy="128.5"/><circle cx="173.7" cy="132.0"/><circle cx="173.7" cy="135.6"/><circle cx="173.7" cy="142.6"/><circle cx="173.7" cy="146.2"/><circle cx="173.7" cy="149.7"/><circle cx="173.7" cy="153.3"/><circle cx="173.7" cy="156.8"/><circle cx="173.7" cy="160.3"/><circle cx="173.7" cy="163.9"/><circle cx="173.7" cy="167.4"/><circle cx="173.7" cy="174.5"/><circle cx="173.7" cy="234.7"/><circle cx="173.7" cy="238.2"/><circle cx="176.7" cy="119.6"/><circle cx="176.7" cy="123.2"/><circle cx="176.7" cy="126.7"/><circle cx="176.7" cy="130.3"/><circle cx="176.7" cy="133.8"/><circle cx="176.7" cy="137.3"/><circle cx="176.7" cy="140.9"/><circle cx="176.7" cy="144.4"/><circle cx="176.7" cy="148.0"/><circle cx="176.7" cy="151.5"/><circle cx="176.7" cy="155.0"/><circle cx="176.7" cy="158.6"/><circle cx="176.7" cy="162.1"/><circle cx="176.7" cy="172.7"/><circle cx="176.7" cy="240.0"/><circle cx="179.8" cy="121.4"/><circle cx="179.8" cy="124.9"/><circle cx="179.8" cy="128.5"/><circle cx="179.8" cy="132.0"/><circle cx="179.8" cy="135.6"/><circle cx="179.8" cy="139.1"/><circle cx="179.8" cy="142.6"/><circle cx="179.8" cy="146.2"/><circle cx="179.8" cy="149.7"/><circle cx="179.8" cy="153.3"/><circle cx="179.8" cy="156.8"/><circle cx="179.8" cy="160.3"/><circle cx="179.8" cy="174.5"/><circle cx="179.8" cy="241.8"/><circle cx="179.8" cy="245.3"/><circle cx="182.9" cy="126.7"/><circle cx="182.9" cy="130.3"/><circle cx="182.9" cy="133.8"/><circle cx="182.9" cy="137.3"/><circle cx="182.9" cy="140.9"/><circle cx="182.9" cy="144.4"/><circle cx="182.9" cy="148.0"/><circle cx="182.9" cy="151.5"/><circle cx="182.9" cy="155.0"/><circle cx="182.9" cy="172.7"/><circle cx="185.9" cy="167.4"/><circle cx="185.9" cy="171.0"/><circle cx="189.0" cy="165.7"/><circle cx="189.0" cy="169.2"/><circle cx="189.0" cy="172.7"/><circle cx="189.0" cy="176.3"/><circle cx="192.1" cy="167.4"/><circle cx="192.1" cy="171.0"/><circle cx="192.1" cy="174.5"/><circle cx="195.1" cy="172.7"/><circle cx="198.2" cy="171.0"/><circle cx="201.3" cy="172.7"/><circle cx="204.3" cy="174.5"/><circle cx="207.4" cy="172.7"/><circle cx="210.4" cy="171.0"/><circle cx="210.4" cy="174.5"/><circle cx="213.5" cy="172.7"/><circle cx="216.6" cy="171.0"/><circle cx="216.6" cy="174.5"/><circle cx="219.6" cy="169.2"/><circle cx="219.6" cy="172.7"/><circle cx="222.7" cy="167.4"/><circle cx="222.7" cy="171.0"/><circle cx="222.7" cy="174.5"/><circle cx="222.7" cy="178.0"/><circle cx="225.8" cy="165.7"/><circle cx="225.8" cy="169.2"/><circle cx="225.8" cy="176.3"/><circle cx="225.8" cy="179.8"/><circle cx="228.8" cy="163.9"/><circle cx="228.8" cy="167.4"/><circle cx="228.8" cy="181.6"/><circle cx="228.8" cy="185.1"/><circle cx="231.9" cy="162.1"/><circle cx="231.9" cy="165.7"/><circle cx="231.9" cy="183.4"/><circle cx="231.9" cy="186.9"/><circle cx="235.0" cy="160.3"/><circle cx="235.0" cy="163.9"/><circle cx="235.0" cy="188.7"/><circle cx="238.0" cy="158.6"/><circle cx="238.0" cy="162.1"/><circle cx="238.0" cy="190.4"/><circle cx="238.0" cy="194.0"/><circle cx="241.1" cy="156.8"/><circle cx="241.1" cy="160.3"/><circle cx="241.1" cy="192.2"/><circle cx="241.1" cy="195.7"/><circle cx="244.2" cy="155.0"/><circle cx="244.2" cy="158.6"/><circle cx="244.2" cy="194.0"/><circle cx="244.2" cy="197.5"/><circle cx="247.2" cy="153.3"/><circle cx="247.2" cy="156.8"/><circle cx="250.3" cy="151.5"/><circle cx="250.3" cy="155.0"/><circle cx="253.4" cy="149.7"/><circle cx="256.4" cy="148.0"/><circle cx="259.5" cy="142.6"/><circle cx="259.5" cy="146.2"/><circle cx="262.6" cy="140.9"/><circle cx="265.6" cy="135.6"/><circle cx="265.6" cy="139.1"/><circle cx="268.7" cy="133.8"/><circle cx="271.8" cy="132.0"/><circle cx="274.8" cy="133.8"/><circle cx="277.9" cy="132.0"/><circle cx="277.9" cy="135.6"/>
</g><use href="#ol"/>
<g stroke="#2a0808" stroke-width="0.5">
<circle cx="97.0" cy="87.8" r="1.75" fill="#fb3c17"/>
<circle cx="103.2" cy="87.8" r="1.75" fill="#fb3c17"/>
<circle cx="112.4" cy="89.5" r="1.75" fill="#080808"/>
<circle cx="109.3" cy="91.3" r="1.75" fill="#fb3c17"/>
<circle cx="109.3" cy="94.9" r="1.75" fill="#fb3c17"/>
<circle cx="124.6" cy="86.0" r="1.75" fill="#fb3c17"/>
<circle cx="130.8" cy="100.2" r="1.75" fill="#720030"/>
<circle cx="115.4" cy="101.9" r="1.75" fill="#fb3c17"/>
<circle cx="109.3" cy="101.9" r="1.75" fill="#720030"/>
<circle cx="106.2" cy="103.7" r="1.75" fill="#720030"/>
<circle cx="106.2" cy="107.2" r="1.75" fill="#fb3c17"/>
<circle cx="158.3" cy="94.9" r="1.75" fill="#fb3c17"/>
<circle cx="124.6" cy="110.8" r="1.75" fill="#fb3c17"/>
<circle cx="136.9" cy="110.8" r="1.75" fill="#fb3c17"/>
<circle cx="152.2" cy="116.1" r="1.75" fill="#fb3c17"/>
<circle cx="155.3" cy="117.9" r="1.75" fill="#720030"/>
<circle cx="124.6" cy="121.4" r="1.75" fill="#fb3c17"/>
<circle cx="127.7" cy="126.7" r="1.75" fill="#fb3c17"/>
<circle cx="140.0" cy="130.3" r="1.75" fill="#fb3c17"/>
<circle cx="130.8" cy="135.6" r="1.75" fill="#fb3c17"/>
<circle cx="143.0" cy="171.0" r="1.75" fill="#fb3c17"/>
<circle cx="143.0" cy="174.5" r="1.75" fill="#fb3c17"/>
<circle cx="143.0" cy="181.6" r="1.75" fill="#fb3c17"/>
<circle cx="140.0" cy="183.4" r="1.75" fill="#fb3c17"/>
<circle cx="136.9" cy="188.7" r="1.75" fill="#fb3c17"/>
<circle cx="121.6" cy="190.4" r="1.75" fill="#fb3c17"/>
<circle cx="127.7" cy="190.4" r="1.75" fill="#fb3c17"/>
<circle cx="158.3" cy="215.2" r="1.75" fill="#fb3c17"/>
</g></g>
<text x="174.2" y="28.8" class="yr" textLength="26.9" lengthAdjust="spacingAndGlyphs">2019</text>
<text x="373.59999999999997" y="28.8" class="yr" textLength="26.9" lengthAdjust="spacingAndGlyphs">2022</text>
<text x="588.5" y="28.8" class="yr" textLength="26.9" lengthAdjust="spacingAndGlyphs">2023</text>
<rect x="65" y="43.8" width="673.5" height="14.3" class="box"/>
<text x="342.6" y="55" class="ttl" textLength="65.2" lengthAdjust="spacingAndGlyphs">Tarifa Plana</text>
<rect x="64.8" y="285.5" width="673.8" height="14.2" class="box"/>
<text x="323.6" y="297.1" class="ttl" textLength="90.2" lengthAdjust="spacingAndGlyphs">Descuento local</text>
<rect x="61.5" y="570.5" width="571.8" height="14" class="box"/>
<text x="320.6" y="582.2" class="ttl" textLength="105.4" lengthAdjust="spacingAndGlyphs">Descuento Federal</text>
<text x="645.6" y="534.4" class="leg" textLength="64.2" lengthAdjust="spacingAndGlyphs">Validaciones</text>
<rect x="646.6" y="541.60" width="15.2" height="7.2" fill="#ffff80" stroke="#555" stroke-width="0.6"/>
<text x="666" y="548.60" class="lab">1 - 1000</text>
<rect x="646.6" y="555.15" width="15.2" height="7.2" fill="#ff3a17" stroke="#555" stroke-width="0.6"/>
<text x="666" y="562.15" class="lab">1001 - 2000</text>
<rect x="646.6" y="568.70" width="15.2" height="7.2" fill="#7a0032" stroke="#555" stroke-width="0.6"/>
<text x="666" y="575.70" class="lab">2001 - 3000</text>
<rect x="646.6" y="582.25" width="15.2" height="7.2" fill="#1c0030" stroke="#555" stroke-width="0.6"/>
<text x="666" y="589.25" class="lab">3001 - 4000</text>
<rect x="646.6" y="595.80" width="15.2" height="7.2" fill="#000000" stroke="#555" stroke-width="0.6"/>
<text x="666" y="602.80" class="lab">4001 - 5000</text>
<rect x="646.6" y="615.8" width="15.2" height="7.6" fill="#fff" stroke="#999" stroke-width="0.8"/>
<text x="665.5" y="623.2" class="lab">Distritos</text>
<path d="M686.2 81 L681.8 99.1" stroke="#bbb" stroke-width="0.6" fill="none"/>
<path d="M686.2 81 L693 98.6 Q689.5 96.8 686.5 97.4 Q684 98 681.8 99.1" stroke="#222" stroke-width="1.05" fill="none"/>
<path d="M685.7 106 V101.5 L689.5 105.8 V101.3" stroke="#222" stroke-width="0.95" fill="none"/>
<path d="M207.6 795 V804.2 H299.4 V795 M238.1 795 V804.2 M269 795 V804.2" stroke="#222" stroke-width="1.4" fill="none"/>
<text x="204.3" y="789.3" class="sc">0</text>
<text x="219.8" y="789.3" class="sc">2</text>
<text x="234.8" y="789.3" class="sc">3</text>
<text x="265.6" y="789.3" class="sc">6</text>
<text x="295.8" y="789.3" class="sc">9</text>
<text x="307" y="789.3" class="sc">km</text>
</svg>
</body></html>
